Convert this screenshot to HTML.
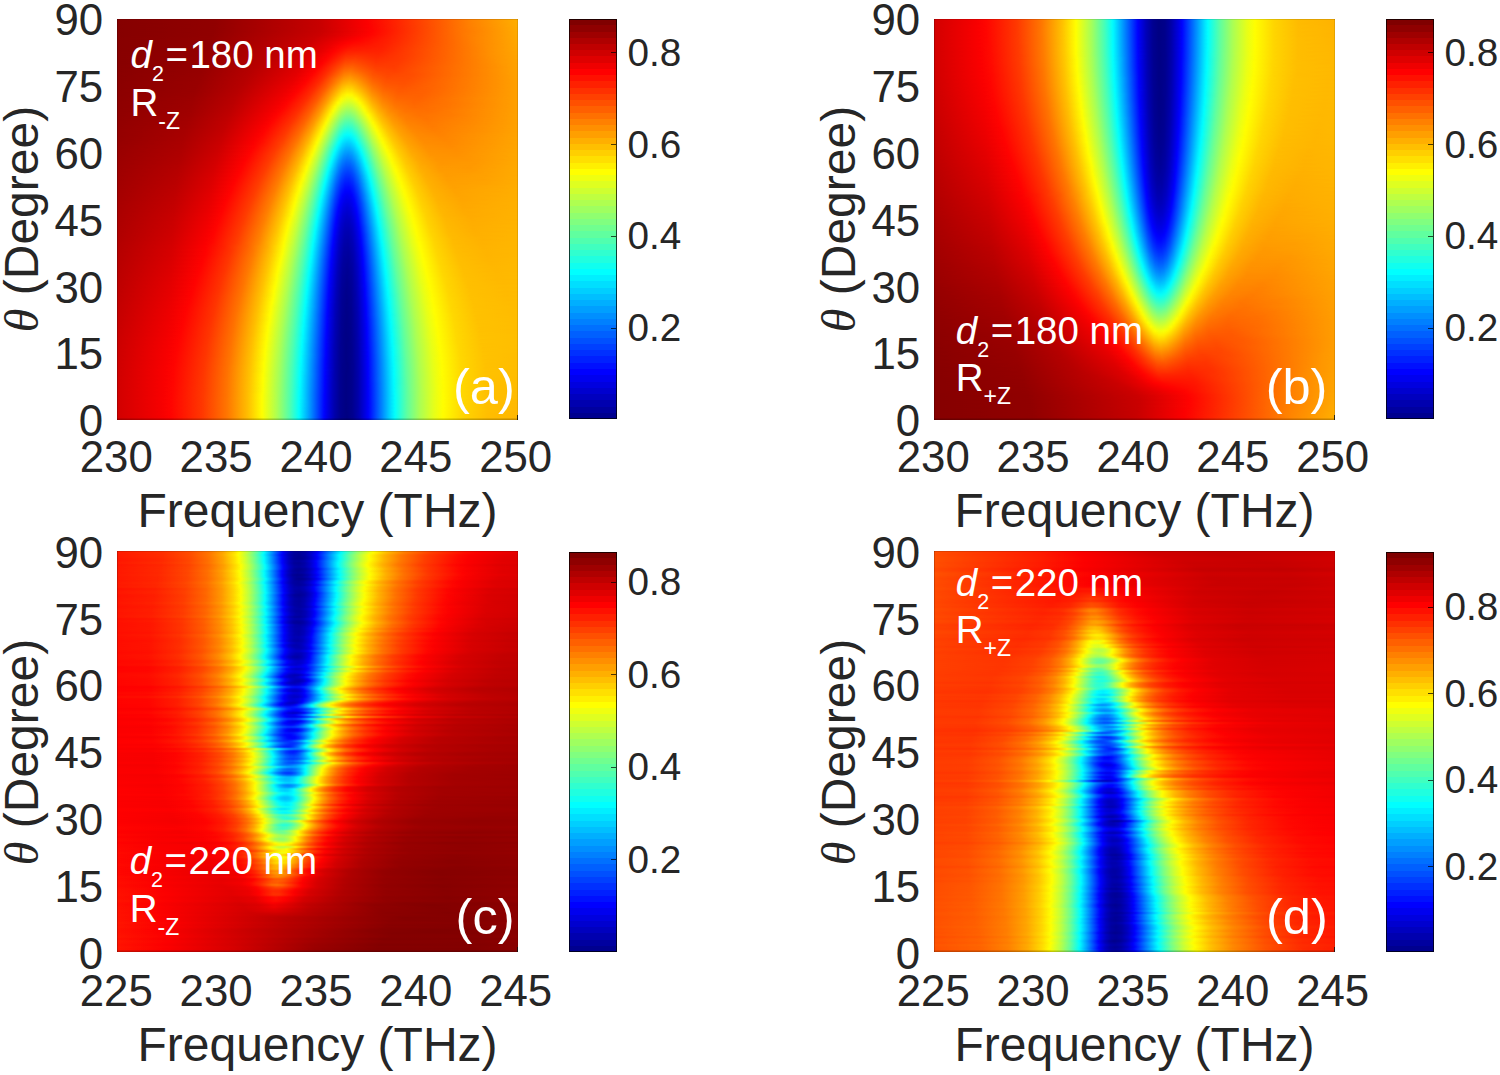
<!DOCTYPE html><html><head><meta charset="utf-8"><style>
*{margin:0;padding:0}
html,body{width:1500px;height:1075px;background:#fff;overflow:hidden;position:relative;font-family:"Liberation Sans", sans-serif}
.plot{position:absolute;width:401px;height:401px;overflow:hidden}
.plot i{display:block;width:401px}
.s4 i{height:8px;margin-top:-4px;-webkit-mask-image:linear-gradient(transparent,#000 4px);mask-image:linear-gradient(transparent,#000 4px)}
.s2 i{height:4px;margin-top:-2px;-webkit-mask-image:linear-gradient(transparent,#000 2px);mask-image:linear-gradient(transparent,#000 2px)}
.plot i:first-child{margin-top:0;-webkit-mask-image:none;mask-image:none}
.fr{position:absolute;left:0;top:0;width:401px;height:401px;box-shadow:inset 1px 0 0 rgba(0,0,0,.18),inset 0 -1.5px 0 rgba(0,0,0,.22),inset 0 1px 0 rgba(0,0,0,.12),inset -1px 0 0 rgba(0,0,0,.1)}
.plot{contain:paint}
.tk2{position:absolute;width:1.6px;height:5px;background:rgba(20,20,20,.85)}
.cb{position:absolute;box-shadow:inset 0 0 0 1px rgba(0,0,0,.75)}
.tk{position:absolute;width:5px;height:1px;background:rgba(0,0,0,.7)}
.yt{position:absolute;width:100px;text-align:right;font-size:43.8px;line-height:50px;color:#262626}
.xt{position:absolute;width:100px;text-align:center;font-size:43.8px;line-height:50px;color:#262626}
.xl{position:absolute;width:500px;text-align:center;font-size:48px;line-height:56px;color:#262626;white-space:nowrap}
.yl{position:absolute;width:400px;height:56px;text-align:center;color:#262626;font-size:48px;line-height:56px;white-space:nowrap;transform:rotate(-90deg)}
.th{font-family:"Liberation Serif",serif;font-style:italic}
.cl{position:absolute;font-size:38.7px;line-height:44px;color:#262626}
.ann{position:absolute;font-size:38.5px;line-height:44px;color:#fff;white-space:nowrap}
.ann sub{font-size:21.5px;vertical-align:-12.8px;line-height:0}
.eq{margin:0 1.5px 0 1.5px}
.r2 sub{font-size:23px}
.let{position:absolute;font-size:50.5px;line-height:58px;color:#fff}
</style></head><body><div class="plot s4" style="left:117px;top:18.5px"><i style="background:linear-gradient(90deg,#860000 0px,#910000 98px,#c70000 202px,#fc0000 250px,#ff1e00 275px,#ff8000 352px,#ffad00 400px)"></i><i style="background:linear-gradient(90deg,#860000 0px,#910000 97px,#c80000 203px,#fd0000 251px,#ff7d00 350px,#ffab00 400px)"></i><i style="background:linear-gradient(90deg,#860000 0px,#910000 97px,#c90000 204px,#ff0300 255px,#ff7300 342px,#ffaa00 400px)"></i><i style="background:linear-gradient(90deg,#860000 0px,#910000 95px,#ca0000 201px,#ff0300 252px,#ff7b00 349px,#ffa900 400px)"></i><i style="background:linear-gradient(90deg,#870000 0px,#920000 94px,#cb0000 196px,#ff0000 241px,#ff2800 280px,#ff8200 356px,#ffa800 400px)"></i><i style="background:linear-gradient(90deg,#870000 0px,#920000 93px,#cc0000 193px,#ee0000 218px,#ff0200 230px,#ff2100 271px,#ff8500 360px,#ffa700 400px)"></i><i style="background:linear-gradient(90deg,#870000 0px,#930000 92px,#cd0000 189px,#ec0000 212px,#ff0400 223px,#ff1400 236px,#ff1f00 265px,#ff8d00 369px,#ffa600 400px)"></i><i style="background:linear-gradient(90deg,#870000 0px,#940000 91px,#ca0000 181px,#e70000 205px,#ff0200 217px,#ff1e00 231px,#ff2300 265px,#ff9400 377px,#ffa500 400px)"></i><i style="background:linear-gradient(90deg,#880000 0px,#940000 89px,#c40000 168px,#e10000 197px,#ff0300 213px,#ff2b00 229px,#ff2f00 239px,#ff2700 261px,#ff3f00 292px,#ff9100 374px,#ffa400 400px)"></i><i style="background:linear-gradient(90deg,#880000 0px,#950000 88px,#bd0000 154px,#dd0000 190px,#ff0200 209px,#ff3b00 229px,#ff3e00 238px,#ff2e00 259px,#ff3900 283px,#ff9400 379px,#ffa300 400px)"></i><i style="background:linear-gradient(90deg,#880000 0px,#950000 87px,#ba0000 146px,#df0000 187px,#ff0100 205px,#ff4a00 228px,#ff4f00 236px,#ff3500 259px,#ff3b00 281px,#ff9900 386px,#ffa200 400px)"></i><i style="background:linear-gradient(90deg,#890000 0px,#960000 86px,#b80000 140px,#e00000 184px,#ff0300 202px,#ff3600 217px,#ff5c00 228px,#ff6100 235px,#ff3e00 258px,#ff3c00 277px,#ff6700 328px,#ff9f00 396px,#ffa200 400px)"></i><i style="background:linear-gradient(90deg,#890000 0px,#960000 84px,#b70000 135px,#e20000 181px,#ff0200 198px,#ff2f00 212px,#ff6d00 227px,#ff7400 234px,#ff5d00 246px,#ff4500 260px,#ff4100 278px,#ff6200 321px,#ff9e00 394px,#ffa100 400px)"></i><i style="background:linear-gradient(90deg,#8a0000 0px,#970000 83px,#b70000 132px,#e40000 179px,#ff0300 195px,#ff2c00 208px,#ff8000 227px,#ff8900 233px,#ff7a00 241px,#ff5300 256px,#ff4600 271px,#ff4e00 296px,#ff9d00 394px,#ffa100 400px)"></i><i style="background:linear-gradient(90deg,#8a0000 0px,#980000 82px,#b70000 129px,#e70000 177px,#ff0200 191px,#ff2c00 205px,#ff7100 219px,#ff9500 227px,#ff9e00 233px,#ff8c00 241px,#ff5e00 256px,#ff4d00 270px,#ff4f00 292px,#ffa000 399px,#ffa000 400px)"></i><i style="background:linear-gradient(90deg,#8b0000 0px,#990000 81px,#b70000 127px,#ea0000 175px,#ff0300 188px,#ff2c00 202px,#ff6600 214px,#ffa800 226px,#ffb400 232px,#ffaa00 238px,#ff6c00 255px,#ff5500 268px,#ff5000 287px,#ff6e00 331px,#ffa000 400px)"></i><i style="background:linear-gradient(90deg,#8b0000 0px,#990000 79px,#b60000 123px,#ec0000 172px,#ff0200 184px,#ff2900 198px,#ff5a00 209px,#ffba00 225px,#ffca00 230px,#ffc800 235px,#ffa600 244px,#ff7600 256px,#ff5d00 268px,#ff5500 286px,#ff6800 322px,#ffa000 400px)"></i><i style="background:linear-gradient(90deg,#8c0000 0px,#9a0000 78px,#b70000 121px,#ed0000 169px,#ff0300 181px,#ff2d00 196px,#ff5f00 207px,#ffd100 225px,#ffe200 230px,#ffdf00 235px,#ffbe00 243px,#ff8600 255px,#ff6900 266px,#ff5a00 282px,#ff6100 309px,#ffa000 400px)"></i><i style="background:linear-gradient(90deg,#8c0000 0px,#9b0000 77px,#b80000 119px,#ee0000 166px,#ff0200 177px,#ff2d00 193px,#ff5d00 204px,#ffa400 215px,#ffe900 225px,#fffa00 230px,#fff700 235px,#ffd800 242px,#ff9400 255px,#ff7300 266px,#ff6000 281px,#ff6100 305px,#ffa000 400px)"></i><i style="background:linear-gradient(90deg,#8d0000 0px,#9d0000 76px,#ba0000 118px,#f10000 164px,#ff0300 174px,#ff2d00 190px,#ff5b00 201px,#ff9a00 211px,#fffc00 224px,#eaff15 230px,#eeff11 235px,#ffff00 239px,#ffa300 255px,#ff7d00 266px,#ff6700 280px,#ff6300 302px,#ff8700 359px,#ffa000 400px)"></i><i style="background:linear-gradient(90deg,#8e0000 0px,#9e0000 75px,#ba0000 116px,#f20000 161px,#ff0300 170px,#ff2d00 187px,#ff5f00 199px,#ff9d00 209px,#ffff00 221px,#d9ff26 227px,#cfff30 232px,#ddff22 237px,#fffd00 243px,#ffb200 255px,#ff8a00 265px,#ff7000 278px,#ff6600 297px,#ff7600 334px,#ffa000 400px)"></i><i style="background:linear-gradient(90deg,#8e0000 0px,#9f0000 74px,#bc0000 115px,#f30000 158px,#ff0300 167px,#ff2d00 184px,#ff5d00 196px,#ff9900 206px,#fff500 217px,#fffe00 218px,#c9ff36 225px,#b6ff49 230px,#bbff44 235px,#dcff23 241px,#fffd00 246px,#ffbc00 256px,#ff9200 266px,#ff7600 279px,#ff6a00 298px,#ff7700 333px,#ffa000 400px)"></i><i style="background:linear-gradient(90deg,#8f0000 0px,#a00000 73px,#bd0000 113px,#f30000 155px,#ff0400 164px,#ff3000 182px,#ff6000 194px,#ff9b00 204px,#ffef00 214px,#fcff03 216px,#b6ff49 224px,#9dff62 229px,#9cff63 233px,#b0ff4f 238px,#fbff04 248px,#ffdf00 253px,#ffad00 262px,#ff8900 273px,#ff7300 288px,#ff6f00 311px,#ffa000 400px)"></i><i style="background:linear-gradient(90deg,#900000 0px,#a10000 72px,#bf0000 112px,#f40000 152px,#ff0300 160px,#ff3000 179px,#ff6300 192px,#ff9d00 202px,#ffe800 211px,#fffb00 213px,#e5ff1a 216px,#9cff63 224px,#83ff7c 229px,#82ff7d 233px,#97ff68 238px,#ffff00 251px,#ffc500 260px,#ff9b00 270px,#ff7f00 283px,#ff7200 302px,#ff7c00 336px,#ffa100 400px)"></i><i style="background:linear-gradient(90deg,#910000 0px,#a30000 71px,#c00000 110px,#f40000 149px,#ff0400 157px,#ff3300 177px,#ff6500 190px,#ff9f00 200px,#ffe900 209px,#fffc00 211px,#8aff75 223px,#6bff94 228px,#66ff99 232px,#72ff8d 236px,#9dff62 242px,#fcff03 253px,#ffbe00 264px,#ff9700 275px,#ff7e00 289px,#ff7500 310px,#ff8700 352px,#ffa100 400px)"></i><i style="background:linear-gradient(90deg,#920000 0px,#a40000 70px,#c20000 109px,#f60000 147px,#ff0400 154px,#ff3300 174px,#ff6300 187px,#ff9a00 197px,#ffe000 206px,#fffd00 209px,#70ff8f 223px,#51ffae 228px,#4bffb4 232px,#59ffa6 236px,#86ff79 242px,#f2ff0d 254px,#fffd00 256px,#ffc600 265px,#ff9d00 276px,#ff8300 290px,#ff7900 311px,#ff8800 351px,#ffa100 400px)"></i><i style="background:linear-gradient(90deg,#930000 0px,#a50000 69px,#c30000 108px,#f80000 145px,#ff0400 151px,#ff3600 172px,#ff6a00 186px,#ffa200 196px,#ffea00 205px,#fffd00 207px,#b7ff48 214px,#57ffa8 223px,#3bffc4 227px,#31ffce 231px,#3affc5 235px,#5cffa3 240px,#e9ff16 255px,#fffe00 258px,#ffc900 267px,#ffa100 278px,#ff8600 293px,#ff7c00 315px,#ff8e00 359px,#ffa200 400px)"></i><i style="background:linear-gradient(90deg,#940000 0px,#a70000 68px,#c40000 106px,#f80000 142px,#ff0400 148px,#ff3800 170px,#ff6c00 184px,#ffa300 194px,#ffe900 203px,#fffc00 205px,#d9ff26 209px,#47ffb8 222px,#21ffde 227px,#17ffe8 231px,#21ffde 235px,#45ffba 240px,#d7ff28 255px,#feff01 260px,#ffc700 270px,#ffa200 281px,#ff8800 296px,#ff7f00 318px,#ff9100 364px,#ffa200 400px)"></i><i style="background:linear-gradient(90deg,#940000 0px,#a80000 67px,#c60000 105px,#f90000 140px,#ff0500 146px,#ff3a00 168px,#ff6e00 182px,#ffab00 193px,#fff100 202px,#faff05 204px,#96ff69 213px,#2effd1 222px,#08fff7 227px,#00fdff 230px,#04fffb 234px,#24ffdb 239px,#c6ff39 255px,#feff01 262px,#ffc900 272px,#ffa200 284px,#ff8a00 300px,#ff8300 324px,#ffa300 400px)"></i><i style="background:linear-gradient(90deg,#950000 0px,#a90000 66px,#c80000 104px,#fa0000 138px,#ff0900 145px,#ff3f00 167px,#ff7400 181px,#ffb200 192px,#fff900 201px,#fcff03 202px,#9aff65 211px,#16ffe9 222px,#04fffb 224px,#00eaff 228px,#00e5ff 232px,#00f5ff 236px,#04fffb 238px,#4bffb4 245px,#b5ff4a 255px,#f7ff08 263px,#fffa00 265px,#ffc700 275px,#ffa300 287px,#ff8c00 303px,#ff8600 328px,#ffa400 400px)"></i><i style="background:linear-gradient(90deg,#960000 0px,#ab0000 65px,#ca0000 103px,#fb0000 136px,#ff0e00 145px,#ff4400 166px,#ff7a00 180px,#ffb800 191px,#feff01 200px,#a9ff56 208px,#0afff5 221px,#00feff 222px,#00dcff 226px,#00cdff 230px,#00d3ff 234px,#00edff 238px,#00ffff 240px,#aeff51 256px,#f0ff0f 264px,#fdff02 266px,#ffc900 277px,#ffa300 290px,#ff8d00 307px,#ff8900 333px,#ffa400 400px)"></i><i style="background:linear-gradient(90deg,#980000 0px,#ac0000 65px,#cc0000 102px,#ff0300 137px,#ff3c00 161px,#ff7200 176px,#ffab00 187px,#ffec00 196px,#fffe00 198px,#b9ff46 205px,#00fdff 220px,#00cdff 225px,#00b8ff 229px,#00b9ff 233px,#00cfff 237px,#00feff 242px,#9dff62 256px,#e2ff1d 264px,#feff01 268px,#ffca00 279px,#ffa600 292px,#ff9000 309px,#ff8c00 335px,#ffa500 400px)"></i><i style="background:linear-gradient(90deg,#990000 0px,#ae0000 64px,#cd0000 101px,#ff0200 134px,#ff3b00 158px,#ff7300 174px,#ffb100 186px,#fff200 195px,#faff05 197px,#a8ff57 205px,#01fffe 218px,#00bfff 224px,#00a5ff 228px,#00a1ff 232px,#00b2ff 236px,#00dfff 241px,#02fffd 244px,#8dff72 256px,#d5ff2a 264px,#feff01 270px,#ffcc00 281px,#ffa800 294px,#ff9200 312px,#ff8f00 339px,#ffa600 400px)"></i><i style="background:linear-gradient(90deg,#9a0000 0px,#af0000 63px,#cf0000 100px,#ff0300 132px,#ff3f00 157px,#ff7800 173px,#ffb600 185px,#fdff02 195px,#aeff51 203px,#2fffd0 213px,#07fff8 216px,#00f9ff 217px,#00b3ff 223px,#0095ff 227px,#008bff 231px,#0097ff 235px,#00c0ff 240px,#00faff 245px,#14ffeb 247px,#88ff77 257px,#d0ff2f 265px,#ffff00 272px,#ffd000 282px,#ffac00 295px,#ff9500 313px,#ff9100 340px,#ffa700 400px)"></i><i style="background:linear-gradient(90deg,#9b0000 0px,#b10000 63px,#d20000 100px,#ff0100 129px,#ff3c00 154px,#ff7800 171px,#ffb500 183px,#fffd00 193px,#beff41 200px,#60ff9f 208px,#01fffe 215px,#00a9ff 222px,#0086ff 226px,#0078ff 230px,#007fff 234px,#009aff 238px,#00dbff 244px,#02fffd 247px,#79ff86 257px,#c3ff3c 265px,#faff05 273px,#fff800 275px,#ffca00 286px,#ffa800 300px,#ff9500 319px,#ff9500 350px,#ffa700 400px)"></i><i style="background:linear-gradient(90deg,#9c0000 0px,#b20000 62px,#d40000 99px,#ff0200 127px,#ff3d00 152px,#ff7800 169px,#ffb400 181px,#fcff03 192px,#afff50 200px,#41ffbe 209px,#0afff5 213px,#00fbff 214px,#00a0ff 221px,#007aff 225px,#0066ff 229px,#0068ff 233px,#007fff 237px,#00b1ff 242px,#00fcff 248px,#7fff80 259px,#c7ff38 267px,#fcff03 275px,#ffc700 289px,#ffa700 304px,#ff9600 324px,#ff9900 358px,#ffa800 400px)"></i><i style="background:linear-gradient(90deg,#9d0000 0px,#b40000 61px,#d40000 97px,#ff0200 125px,#ff3d00 150px,#ff7800 167px,#ffb800 180px,#fffe00 190px,#b6ff49 198px,#58ffa7 206px,#06fff9 212px,#00f7ff 213px,#008eff 221px,#0068ff 225px,#0055ff 229px,#0056ff 233px,#006dff 237px,#00a0ff 242px,#00f9ff 249px,#07fff8 250px,#72ff8d 259px,#bcff43 267px,#f8ff07 276px,#fffb00 278px,#ffce00 289px,#ffad00 303px,#ff9a00 322px,#ff9900 353px,#ffa900 400px)"></i><i style="background:linear-gradient(90deg,#9e0000 0px,#b60000 61px,#d70000 97px,#ff0200 123px,#ff3d00 148px,#ff7c00 166px,#ffbc00 179px,#fcff03 189px,#a8ff57 198px,#48ffb7 206px,#04fffb 211px,#00afff 217px,#0068ff 223px,#004bff 227px,#0042ff 231px,#004fff 235px,#0079ff 240px,#00e9ff 249px,#05fffa 251px,#6fff90 260px,#b8ff47 268px,#f5ff0a 277px,#ffff00 279px,#ffd100 290px,#ffb000 304px,#ff9c00 323px,#ff9b00 354px,#ffaa00 400px)"></i><i style="background:linear-gradient(90deg,#9f0000 0px,#b70000 60px,#d90000 96px,#ff0200 121px,#ff3d00 146px,#ff7b00 164px,#ffba00 177px,#fffe00 187px,#b9ff46 195px,#5fffa0 203px,#02fffd 210px,#0078ff 220px,#0047ff 225px,#0034ff 229px,#0036ff 233px,#004dff 237px,#0080ff 242px,#03fffc 252px,#6dff92 261px,#b6ff49 269px,#f2ff0d 278px,#fffd00 281px,#ffce00 293px,#ffae00 308px,#ff9c00 329px,#ffa000 365px,#ffaa00 400px)"></i><i style="background:linear-gradient(90deg,#a00000 0px,#b90000 60px,#dc0000 96px,#ff0200 119px,#ff3d00 144px,#ff7a00 162px,#ffb800 175px,#fdff02 186px,#adff52 195px,#51ffae 203px,#00ffff 209px,#0075ff 219px,#0040ff 224px,#0028ff 228px,#0025ff 232px,#0037ff 236px,#0066ff 241px,#02fffd 253px,#6bff94 262px,#b3ff4c 270px,#efff10 279px,#ffff00 282px,#ffd100 294px,#ffb000 309px,#ff9e00 330px,#ffa100 366px,#ffab00 400px)"></i><i style="background:linear-gradient(90deg,#a10000 0px,#ba0000 59px,#dd0000 95px,#ff0200 117px,#ff3d00 142px,#ff7d00 161px,#ffc100 175px,#fffc00 184px,#d1ff2e 190px,#74ff8b 199px,#00ffff 208px,#0066ff 219px,#0032ff 224px,#001aff 228px,#0018ff 232px,#002aff 236px,#0058ff 241px,#02fffd 254px,#60ff9f 262px,#aaff55 270px,#e7ff18 279px,#fffd00 284px,#ffd000 296px,#ffb100 311px,#ffa000 332px,#ffa300 369px,#ffac00 400px)"></i><i style="background:linear-gradient(90deg,#a20000 0px,#bc0000 59px,#de0000 94px,#ff0200 115px,#ff3f00 141px,#ff8000 160px,#ffc400 174px,#ffff00 183px,#b3ff4c 192px,#5bffa4 200px,#00ffff 207px,#0058ff 219px,#0025ff 224px,#000eff 228px,#000bff 232px,#001dff 236px,#004bff 241px,#00e8ff 253px,#03fffc 255px,#5fffa0 263px,#a8ff57 271px,#e5ff1a 280px,#ffff00 285px,#ffd000 298px,#ffb000 314px,#ffa100 336px,#ffa800 380px,#ffad00 400px)"></i><i style="background:linear-gradient(90deg,#a30000 0px,#be0000 59px,#e10000 94px,#ff0300 114px,#ff3e00 139px,#ff7e00 158px,#ffc100 172px,#fdff02 182px,#b1ff4e 191px,#4fffb0 200px,#01fffe 206px,#004cff 219px,#0018ff 224px,#0002ff 228px,#0002ff 233px,#0019ff 237px,#004bff 242px,#00f6ff 255px,#04fffb 256px,#5fffa0 264px,#afff50 273px,#eeff11 283px,#fffd00 287px,#ffcf00 300px,#ffb100 316px,#ffa300 338px,#ffab00 388px,#ffae00 400px)"></i><i style="background:linear-gradient(90deg,#a40000 0px,#bf0000 58px,#e30000 93px,#ff0300 112px,#ff3d00 137px,#ff8100 157px,#ffc300 171px,#fffc00 180px,#e4ff1b 184px,#92ff6d 193px,#2affd5 202px,#02fffd 205px,#0040ff 219px,#000dff 224px,#0000fe 226px,#0000f2 230px,#0000fa 234px,#0000ff 235px,#0029ff 240px,#007fff 247px,#00f8ff 256px,#05fffa 257px,#5fffa0 265px,#aeff51 274px,#ecff13 284px,#fffe00 288px,#ffd100 301px,#ffb300 317px,#ffa400 340px,#ffae00 400px)"></i><i style="background:linear-gradient(90deg,#a50000 0px,#c10000 58px,#e50000 93px,#ff0200 110px,#ff3f00 136px,#ff8300 156px,#ffc500 170px,#fffd00 179px,#c1ff3e 187px,#67ff98 196px,#03fffc 204px,#00cbff 208px,#0040ff 218px,#000bff 223px,#0000fa 225px,#0000e9 229px,#0000ec 233px,#0004ff 237px,#0035ff 242px,#00faff 257px,#13ffec 259px,#6aff95 267px,#b4ff4b 276px,#f0ff0f 286px,#fffc00 290px,#ffd000 303px,#ffb200 320px,#ffa500 344px,#ffaf00 400px)"></i><i style="background:linear-gradient(90deg,#a70000 0px,#c30000 58px,#e80000 93px,#ff0200 108px,#ff3e00 134px,#ff8100 154px,#ffc700 169px,#ffff00 178px,#aeff51 188px,#50ffaf 197px,#05fffa 203px,#00e9ff 205px,#0036ff 218px,#0001ff 223px,#0000e6 227px,#0000df 231px,#0000ec 235px,#0003ff 238px,#0043ff 244px,#00fcff 258px,#6aff95 268px,#b4ff4b 277px,#efff10 287px,#fffd00 291px,#ffd200 304px,#ffb400 321px,#ffa700 345px,#ffb000 400px)"></i><i style="background:linear-gradient(90deg,#a80000 0px,#c40000 57px,#e90000 92px,#ff0300 107px,#ff3d00 132px,#ff7f00 152px,#ffc300 167px,#feff01 177px,#aeff51 187px,#52ffad 196px,#08fff7 202px,#00f9ff 203px,#002cff 218px,#0000ff 222px,#0000e2 226px,#0000d6 230px,#0000df 234px,#0003ff 239px,#0047ff 245px,#00ffff 259px,#62ff9d 268px,#adff52 277px,#e9ff16 287px,#fffe00 292px,#ffd300 305px,#ffb600 322px,#ffa800 346px,#ffb000 400px)"></i><i style="background:linear-gradient(90deg,#a90000 0px,#c60000 57px,#ea0000 91px,#ff0200 105px,#ff3e00 131px,#ff8000 151px,#ffc500 166px,#fdff02 176px,#aeff51 186px,#53ffac 195px,#00fcff 202px,#0022ff 218px,#0001ff 221px,#0000da 226px,#0000cf 230px,#0000d7 234px,#0000fa 239px,#0004ff 240px,#0058ff 247px,#00f6ff 259px,#03fffc 260px,#63ff9c 269px,#adff52 278px,#e8ff17 288px,#ffff00 293px,#ffd500 306px,#ffb700 323px,#ffaa00 347px,#ffb100 400px)"></i><i style="background:linear-gradient(90deg,#aa0000 0px,#c80000 57px,#ed0000 91px,#ff0400 104px,#ff3d00 129px,#ff8200 150px,#ffc600 165px,#fcff03 175px,#aeff51 185px,#55ffaa 194px,#00ffff 201px,#001aff 218px,#0003ff 220px,#0000d2 226px,#0000c8 230px,#0000d0 234px,#0000f2 239px,#0000fc 240px,#001dff 243px,#00f9ff 260px,#12ffed 262px,#6eff91 271px,#b4ff4b 280px,#f1ff0e 291px,#fffc00 295px,#ffd100 309px,#ffb500 327px,#ffaa00 353px,#ffb200 400px)"></i><i style="background:linear-gradient(90deg,#ab0000 0px,#c90000 56px,#ee0000 90px,#ff0300 102px,#ff3b00 127px,#ff7f00 148px,#ffc700 164px,#fffc00 173px,#d8ff27 179px,#80ff7f 189px,#1dffe2 198px,#04fffb 200px,#00dbff 203px,#001eff 217px,#0006ff 219px,#0000fb 220px,#0000d1 225px,#0000c2 229px,#0000c5 233px,#0000db 237px,#0000ff 241px,#0062ff 249px,#00fdff 261px,#66ff99 271px,#adff52 280px,#ecff13 291px,#fffd00 296px,#ffd200 310px,#ffb700 328px,#ffac00 354px,#ffb200 400px)"></i><i style="background:linear-gradient(90deg,#ac0000 0px,#cb0000 56px,#f10000 90px,#ff0400 101px,#ff3c00 126px,#ff8000 147px,#ffc800 163px,#fffd00 172px,#c8ff37 180px,#6eff91 190px,#07fff8 199px,#00f9ff 200px,#0016ff 217px,#0000fe 219px,#0000d1 224px,#0000be 228px,#0000bd 232px,#0000ce 236px,#0000f8 241px,#0004ff 242px,#0082ff 252px,#00f5ff 261px,#02fffd 262px,#5fffa0 271px,#a7ff58 280px,#e7ff18 291px,#fffd00 297px,#ffd300 311px,#ffb800 329px,#ffad00 355px,#ffb300 400px)"></i><i style="background:linear-gradient(90deg,#ad0000 0px,#cc0000 56px,#f30000 90px,#ff0300 99px,#ff3b00 124px,#ff7e00 145px,#ffc400 161px,#fffd00 171px,#c8ff37 179px,#6fff90 189px,#00fdff 199px,#000fff 217px,#0003ff 218px,#0000cb 224px,#0000b9 228px,#0000b8 232px,#0000c8 236px,#0000f2 241px,#0000fc 242px,#0039ff 247px,#00f9ff 262px,#11ffee 264px,#6aff95 273px,#b5ff4a 283px,#f0ff0f 294px,#fffe00 298px,#ffd400 312px,#ffb900 330px,#ffae00 356px,#ffb400 400px)"></i><i style="background:linear-gradient(90deg,#ae0000 0px,#ce0000 56px,#f60000 90px,#ff0400 98px,#ff3c00 123px,#ff7f00 144px,#ffc400 160px,#fffd00 170px,#c1ff3e 179px,#67ff98 189px,#02fffd 198px,#0099ff 206px,#0008ff 217px,#0000fc 218px,#0000cd 223px,#0000b6 227px,#0000b1 231px,#0000bd 235px,#0000e2 240px,#0003ff 243px,#00fdff 263px,#63ff9c 273px,#b0ff4f 283px,#ebff14 294px,#fffe00 299px,#ffd500 313px,#ffba00 331px,#ffaf00 357px,#ffb400 400px)"></i><i style="background:linear-gradient(90deg,#af0000 0px,#cf0000 55px,#f70000 89px,#ff0300 96px,#ff3a00 121px,#ff8000 143px,#ffca00 160px,#fffd00 169px,#c2ff3d 178px,#6aff95 188px,#07fff8 197px,#00f9ff 198px,#0002ff 217px,#0000c7 223px,#0000af 228px,#0000ae 232px,#0000c5 237px,#0000f1 242px,#0000fc 243px,#002cff 247px,#00ebff 262px,#03fffc 264px,#5dffa2 273px,#aaff55 283px,#e7ff18 294px,#fffe00 300px,#ffd600 314px,#ffbb00 332px,#ffb000 359px,#ffb500 400px)"></i><i style="background:linear-gradient(90deg,#b00000 0px,#d10000 55px,#f80000 88px,#ff0600 96px,#ff3e00 121px,#ff8400 143px,#ffd000 160px,#fffd00 168px,#c3ff3c 177px,#6cff93 187px,#00feff 197px,#0008ff 216px,#0000fb 217px,#0000ca 222px,#0000ae 227px,#0000a9 231px,#0000b5 235px,#0000d9 240px,#0003ff 244px,#00f0ff 263px,#00fbff 264px,#27ffd8 268px,#79ff86 277px,#beff41 287px,#f8ff07 299px,#fffb00 302px,#ffd300 317px,#ffba00 336px,#ffb100 365px,#ffb500 400px)"></i><i style="background:linear-gradient(90deg,#b20000 0px,#d30000 55px,#fa0000 88px,#ff0700 95px,#ff3e00 120px,#ff8500 142px,#ffd000 159px,#fffd00 167px,#c4ff3b 176px,#6fff90 186px,#03fffc 196px,#00d1ff 200px,#0002ff 216px,#0000c6 222px,#0000aa 227px,#0000a5 231px,#0000b6 236px,#0000de 241px,#0000fd 244px,#0061ff 252px,#00f5ff 264px,#01fffe 265px,#5affa5 274px,#a6ff59 284px,#e3ff1c 295px,#ffff00 302px,#ffd600 317px,#ffbb00 336px,#ffb200 364px,#ffb600 400px)"></i><i style="background:linear-gradient(90deg,#b30000 0px,#d50000 55px,#fd0000 88px,#ff2200 107px,#ff6300 131px,#ffaa00 150px,#fff600 165px,#fbff04 167px,#a6ff59 179px,#4affb5 189px,#08fff7 195px,#00fbff 196px,#0008ff 215px,#0000fc 216px,#0000c2 222px,#0000a6 227px,#0000a2 231px,#0000b3 236px,#0000d9 241px,#0000f8 244px,#0005ff 245px,#00eeff 264px,#05fffa 266px,#5dffa2 275px,#a7ff58 285px,#e3ff1c 296px,#ffff00 303px,#ffd600 318px,#ffbc00 337px,#ffb300 366px,#ffb600 400px)"></i><i style="background:linear-gradient(90deg,#b40000 0px,#d70000 55px,#ff0200 89px,#ff3500 114px,#ff7700 136px,#ffc100 154px,#fcff03 166px,#a8ff57 178px,#4dffb2 188px,#01fffe 195px,#0076ff 206px,#0003ff 215px,#0000be 222px,#0000a3 227px,#0000a0 232px,#0000b6 237px,#0000e9 243px,#0000ff 245px,#00e8ff 264px,#00feff 266px,#60ff9f 276px,#a9ff56 286px,#e3ff1c 297px,#ffff00 304px,#ffd700 319px,#ffbc00 339px,#ffb400 369px,#ffb700 400px)"></i><i style="background:linear-gradient(90deg,#b50000 0px,#d70000 54px,#ff0200 88px,#ff3600 113px,#ff7b00 136px,#ffc600 154px,#fdff02 165px,#aaff55 177px,#51ffae 187px,#06fff9 194px,#00f9ff 195px,#0000fe 215px,#0000c2 221px,#0000a4 226px,#00009c 231px,#0000ac 236px,#0000d2 241px,#0000fb 245px,#001fff 248px,#00e3ff 264px,#00f9ff 266px,#04fffb 267px,#63ff9c 277px,#aaff55 287px,#e8ff17 299px,#ffff00 305px,#ffd700 320px,#ffbd00 340px,#ffb400 370px,#ffb700 400px)"></i><i style="background:linear-gradient(90deg,#b60000 0px,#d90000 54px,#ff0200 86px,#ff3700 112px,#ff7c00 135px,#ffc600 153px,#fdff02 164px,#abff54 176px,#4affb5 187px,#00ffff 194px,#0043ff 209px,#0006ff 214px,#0000ee 216px,#0000b7 222px,#00009d 227px,#00009b 232px,#0000b0 237px,#0000e2 243px,#0003ff 246px,#00e8ff 265px,#00feff 267px,#66ff99 278px,#acff53 288px,#e9ff16 300px,#ffff00 306px,#ffd800 321px,#ffbe00 341px,#ffb500 371px,#ffb800 400px)"></i><i style="background:linear-gradient(90deg,#b70000 0px,#db0000 54px,#ff0200 85px,#ff3700 111px,#ff7c00 134px,#ffc600 152px,#feff01 163px,#adff52 175px,#4effb1 186px,#05fffa 193px,#00edff 195px,#0001ff 214px,#0000bc 221px,#00009e 226px,#000097 231px,#0000a7 236px,#0000cc 241px,#0000ff 246px,#00e3ff 265px,#04fffb 268px,#61ff9e 278px,#aeff51 289px,#e9ff16 301px,#ffff00 307px,#ffd600 323px,#ffbe00 343px,#ffb600 374px,#ffb800 400px)"></i><i style="background:linear-gradient(90deg,#b80000 0px,#dd0000 54px,#ff0300 84px,#ff3800 110px,#ff7c00 133px,#ffca00 152px,#ffff00 162px,#afff50 174px,#52ffad 185px,#00feff 193px,#0053ff 207px,#0000fc 214px,#0000c1 220px,#0000a0 225px,#000095 230px,#0000a0 235px,#0000c0 240px,#0000fb 246px,#001fff 249px,#00deff 265px,#00feff 268px,#64ff9b 279px,#afff50 290px,#eaff15 302px,#fffe00 308px,#ffd700 324px,#ffbe00 345px,#ffb700 377px,#ffb900 400px)"></i><i style="background:linear-gradient(90deg,#b90000 0px,#de0000 54px,#ff0200 82px,#ff3500 108px,#ff7900 131px,#ffc500 150px,#fffe00 161px,#b2ff4d 173px,#56ffa9 184px,#04fffb 192px,#00e1ff 195px,#0005ff 213px,#0000ee 215px,#0000b6 221px,#00009a 226px,#000093 231px,#0000a3 236px,#0000c6 241px,#0000f8 246px,#0004ff 247px,#00e4ff 266px,#00f9ff 268px,#04fffb 269px,#5fffa0 279px,#abff54 290px,#e6ff19 302px,#fffe00 309px,#ffd700 325px,#ffbf00 346px,#ffb700 379px,#ffb900 400px)"></i><i style="background:linear-gradient(90deg,#ba0000 0px,#df0000 53px,#ff0300 81px,#ff3600 107px,#ff7900 130px,#ffc500 149px,#fffd00 160px,#bbff44 171px,#63ff9c 182px,#00fdff 192px,#0056ff 206px,#0001ff 213px,#0000bb 220px,#00009c 225px,#000091 230px,#00009c 235px,#0000bc 240px,#0001ff 247px,#00dfff 266px,#00feff 269px,#62ff9d 280px,#adff52 291px,#e7ff18 303px,#fffe00 310px,#ffd700 326px,#ffbf00 347px,#ffb800 380px,#ffba00 400px)"></i><i style="background:linear-gradient(90deg,#bb0000 0px,#e10000 53px,#ff0200 79px,#ff3400 105px,#ff7600 128px,#ffc000 147px,#fcff03 160px,#a7ff58 173px,#4bffb4 184px,#04fffb 191px,#00e2ff 194px,#0009ff 212px,#0000fd 213px,#0000b9 220px,#00009a 225px,#000090 230px,#00009b 235px,#0000b9 240px,#0000fd 247px,#0073ff 257px,#00faff 269px,#0ffff0 271px,#66ff99 281px,#afff50 292px,#e8ff17 304px,#fffe00 311px,#ffd800 327px,#ffc000 348px,#ffb800 381px,#ffba00 400px)"></i><i style="background:linear-gradient(90deg,#bc0000 0px,#e30000 53px,#ff0200 78px,#ff3400 104px,#ff7500 127px,#ffc400 147px,#fdff02 159px,#aaff55 172px,#4fffb0 183px,#00feff 191px,#0059ff 205px,#0006ff 212px,#0000ef 214px,#0000b7 220px,#000099 225px,#00008e 230px,#000099 235px,#0000b7 240px,#0000fa 247px,#0011ff 249px,#00e1ff 267px,#00ffff 270px,#5affa5 280px,#a5ff5a 291px,#e1ff1e 303px,#fffd00 312px,#ffd600 329px,#ffbf00 351px,#ffb900 387px,#ffba00 400px)"></i><i style="background:linear-gradient(90deg,#bd0000 0px,#e40000 53px,#ff0300 77px,#ff3400 103px,#ff7500 126px,#ffc300 146px,#ffff00 158px,#acff53 171px,#53ffac 182px,#04fffb 190px,#00eeff 192px,#0002ff 212px,#0000b5 220px,#000097 225px,#00008d 230px,#000098 235px,#0000b6 240px,#0003ff 248px,#00dcff 267px,#00fbff 270px,#19ffe6 273px,#74ff8b 284px,#b8ff47 295px,#f1ff0e 308px,#fffd00 313px,#ffd600 330px,#ffbf00 352px,#ffba00 388px,#ffbb00 400px)"></i><i style="background:linear-gradient(90deg,#be0000 0px,#e60000 53px,#ff0200 75px,#ff3400 102px,#ff7500 125px,#ffc200 145px,#fffe00 157px,#b6ff49 169px,#57ffa8 181px,#00ffff 190px,#005dff 204px,#0000fe 212px,#0000ba 219px,#00009a 224px,#00008c 229px,#000093 234px,#0000ad 239px,#0000ea 246px,#0000ff 248px,#00e2ff 268px,#02fffd 271px,#61ff9e 282px,#aaff55 293px,#e7ff18 306px,#fffc00 314px,#ffd600 331px,#ffc000 353px,#ffba00 389px,#ffbb00 400px)"></i><i style="background:linear-gradient(90deg,#bf0000 0px,#e70000 53px,#ff0200 74px,#ff3500 101px,#ff7500 124px,#ffc200 144px,#fcff03 157px,#aaff55 170px,#49ffb6 182px,#05fffa 189px,#00efff 191px,#0008ff 211px,#0000fc 212px,#0000b9 219px,#000099 224px,#00008b 229px,#000092 234px,#0000ab 239px,#0000e8 246px,#0000fd 248px,#00e9ff 269px,#00fdff 271px,#6cff93 284px,#b1ff4e 295px,#ebff14 308px,#fffc00 315px,#ffd600 332px,#ffc000 354px,#ffba00 390px,#ffbb00 400px)"></i><i style="background:linear-gradient(90deg,#c00000 0px,#e80000 52px,#ff0300 73px,#ff3500 100px,#ff7500 123px,#ffc100 143px,#feff01 156px,#a6ff59 170px,#45ffba 182px,#01fffe 189px,#0079ff 201px,#0005ff 211px,#0000ee 213px,#0000af 220px,#000093 225px,#00008a 230px,#000094 235px,#0000b9 241px,#0000fa 248px,#0011ff 250px,#00dbff 268px,#03fffc 272px,#61ff9e 283px,#a9ff56 294px,#e5ff1a 307px,#fffe00 315px,#ffd800 332px,#ffc100 354px,#ffbb00 389px,#ffbc00 400px)"></i><i style="background:linear-gradient(90deg,#c10000 0px,#ea0000 52px,#ff0300 72px,#ff3500 99px,#ff7400 122px,#ffc000 142px,#ffff00 155px,#a9ff56 169px,#4affb5 181px,#07fff8 188px,#00fcff 189px,#005eff 203px,#0002ff 211px,#0000b5 219px,#000092 225px,#000089 230px,#000094 235px,#0000b7 241px,#0000f8 248px,#0004ff 249px,#00e1ff 269px,#00ffff 272px,#5dffa2 283px,#a5ff5a 294px,#e2ff1d 307px,#fffd00 316px,#ffd800 333px,#ffc100 356px,#ffbb00 393px,#ffbc00 400px)"></i><i style="background:linear-gradient(90deg,#c20000 0px,#eb0000 52px,#ff0200 70px,#ff3500 98px,#ff7400 121px,#ffbf00 141px,#fffd00 154px,#b9ff46 166px,#5fffa0 178px,#03fffc 188px,#00acff 196px,#0000ff 211px,#0000bb 218px,#000096 224px,#000089 229px,#00008f 234px,#0000ae 240px,#0000ec 247px,#0001ff 249px,#00ddff 269px,#00fbff 272px,#18ffe7 275px,#70ff8f 286px,#b8ff47 298px,#efff10 311px,#fffd00 317px,#ffd600 335px,#ffc000 358px,#ffbc00 396px,#ffbc00 400px)"></i><i style="background:linear-gradient(90deg,#c30000 0px,#ed0000 52px,#ff0300 69px,#ff3500 97px,#ff7300 120px,#ffc200 141px,#fdff02 154px,#a8ff57 168px,#4affb5 180px,#00feff 188px,#0063ff 202px,#0008ff 210px,#0000fc 211px,#0000ba 218px,#000095 224px,#000088 229px,#00008e 234px,#0000ad 240px,#0000ea 247px,#0000fe 249px,#00e4ff 270px,#02fffd 273px,#5effa1 284px,#aaff55 296px,#e5ff1a 309px,#ffff00 317px,#ffd900 334px,#ffc200 357px,#ffbc00 393px,#ffbd00 400px)"></i><i style="background:linear-gradient(90deg,#c40000 0px,#ee0000 52px,#ff0300 68px,#ff3400 96px,#ff7300 119px,#ffc100 140px,#ffff00 153px,#abff54 167px,#4fffb0 179px,#05fffa 187px,#00f0ff 189px,#0005ff 210px,#0000ef 212px,#0000b1 219px,#000090 225px,#000087 230px,#000091 235px,#0000b3 241px,#0000fc 249px,#0060ff 258px,#00eaff 271px,#00fdff 273px,#62ff9d 285px,#adff52 297px,#e6ff19 310px,#fffe00 318px,#ffd800 336px,#ffc100 359px,#ffbc00 396px,#ffbd00 400px)"></i><i style="background:linear-gradient(90deg,#c50000 0px,#ee0000 51px,#ff0300 67px,#ff3400 95px,#ff7200 118px,#ffbf00 139px,#fcff03 153px,#a8ff57 167px,#4bffb4 179px,#01fffe 187px,#007fff 199px,#0003ff 210px,#0000b0 219px,#00008f 225px,#000087 230px,#000091 235px,#0000b2 241px,#0000fa 249px,#0010ff 251px,#00ddff 270px,#00faff 273px,#0efff1 275px,#66ff99 286px,#afff50 298px,#e8ff17 311px,#fffd00 319px,#ffd700 337px,#ffc100 360px,#ffbd00 398px,#ffbd00 400px)"></i><i style="background:linear-gradient(90deg,#c60000 0px,#f00000 51px,#ff0300 66px,#ff3400 94px,#ff7100 117px,#ffbe00 138px,#feff01 152px,#abff54 166px,#50ffaf 178px,#00fcff 187px,#005aff 202px,#0001ff 210px,#0000b6 218px,#000092 224px,#000086 229px,#00008d 234px,#0000aa 240px,#0000e5 247px,#0004ff 250px,#00daff 270px,#01fffe 274px,#5cffa3 285px,#a7ff58 297px,#e2ff1d 310px,#ffff00 319px,#ffd900 337px,#ffc200 360px,#ffbd00 397px,#ffbd00 400px)"></i><i style="background:linear-gradient(90deg,#c70000 0px,#f10000 51px,#ff0300 65px,#ff3600 94px,#ff7300 117px,#ffc100 138px,#fffe00 151px,#b5ff4a 164px,#55ffaa 177px,#04fffb 186px,#00e5ff 189px,#0000fe 210px,#0000b5 218px,#000092 224px,#000086 229px,#00008c 234px,#0000a9 240px,#0000e3 247px,#0002ff 250px,#00e1ff 271px,#00fdff 274px,#67ff98 287px,#afff50 299px,#ebff14 313px,#fffe00 320px,#ffd800 338px,#ffc100 362px,#ffbd00 400px)"></i><i style="background:linear-gradient(90deg,#c80000 0px,#f20000 51px,#ff0300 64px,#ff3600 93px,#ff7200 116px,#ffbf00 137px,#fdff02 151px,#a4ff5b 166px,#49ffb6 178px,#00ffff 186px,#006bff 200px,#0008ff 209px,#0000fc 210px,#0000b4 218px,#000091 224px,#000086 229px,#00008c 234px,#0000a9 240px,#0000e2 247px,#0000ff 250px,#00deff 271px,#00fbff 274px,#16ffe9 277px,#6bff94 288px,#b2ff4d 300px,#ecff13 314px,#fffd00 321px,#ffd800 339px,#ffc100 363px,#ffbd00 400px)"></i><i style="background:linear-gradient(90deg,#c90000 0px,#f20000 50px,#ff0300 63px,#ff3500 92px,#ff7100 115px,#ffbd00 136px,#fffe00 150px,#afff50 164px,#4effb1 177px,#00fcff 186px,#005dff 201px,#0006ff 209px,#0000f0 211px,#0000b3 218px,#000090 224px,#000085 229px,#00008b 234px,#0000a8 240px,#0000e1 247px,#0000fe 250px,#00e5ff 272px,#02fffd 275px,#5bffa4 286px,#a6ff59 298px,#e0ff1f 311px,#fffe00 321px,#ffd900 339px,#ffc200 363px,#ffbe00 400px)"></i><i style="background:linear-gradient(90deg,#ca0000 0px,#f40000 50px,#ff0300 62px,#ff3500 91px,#ff7300 115px,#ffc000 136px,#fdff02 150px,#a5ff5a 165px,#43ffbc 178px,#04fffb 185px,#00e6ff 188px,#0004ff 209px,#0000db 213px,#0000a4 220px,#00008a 226px,#000085 231px,#000096 237px,#0000bd 243px,#0000fc 250px,#00ecff 273px,#00feff 275px,#5fffa0 287px,#a9ff56 299px,#e5ff1a 313px,#fffd00 322px,#ffd800 340px,#ffc200 364px,#ffbe00 400px)"></i><i style="background:linear-gradient(90deg,#ca0000 0px,#f50000 50px,#ff0300 61px,#ff3400 90px,#ff7200 114px,#ffbe00 135px,#fffe00 149px,#afff50 163px,#51ffae 176px,#01fffe 185px,#0079ff 198px,#0002ff 209px,#0000b1 218px,#00008f 224px,#000085 229px,#00008b 234px,#0000a7 240px,#0000de 247px,#0000fb 250px,#001bff 253px,#00e0ff 272px,#00fcff 275px,#6bff94 289px,#b1ff4e 301px,#eaff15 315px,#fffe00 322px,#ffd900 340px,#ffc200 364px,#ffbe00 400px)"></i><i style="background:linear-gradient(90deg,#cb0000 0px,#f60000 50px,#ff0400 61px,#ff3600 90px,#ff7400 114px,#ffc000 135px,#fdff02 149px,#a6ff59 164px,#46ffb9 177px,#00fdff 185px,#0061ff 200px,#0001ff 209px,#0000b7 217px,#000093 223px,#000084 229px,#00008d 235px,#0000ad 241px,#0000f0 249px,#0005ff 251px,#00deff 272px,#03fffc 276px,#62ff9d 288px,#aaff55 300px,#e5ff1a 314px,#fffd00 323px,#ffd700 342px,#ffc100 366px,#ffbe00 400px)"></i><i style="background:linear-gradient(90deg,#cc0000 0px,#f60000 49px,#ff0400 60px,#ff3700 90px,#ff7600 114px,#ffc200 135px,#fffe00 148px,#b1ff4e 162px,#53ffac 175px,#05fffa 184px,#00f1ff 186px,#0034ff 204px,#0000fe 209px,#0000b6 217px,#000093 223px,#000084 229px,#00008d 235px,#0000ac 241px,#0000ef 249px,#0004ff 251px,#00dcff 272px,#01fffe 276px,#60ff9f 288px,#a8ff57 300px,#e4ff1b 314px,#fffe00 323px,#ffd800 342px,#ffc200 366px,#ffbe00 400px)"></i><i style="background:linear-gradient(90deg,#cc0000 0px,#f70000 49px,#ff0400 59px,#ff3600 89px,#ff7400 113px,#ffc000 134px,#feff01 148px,#a8ff57 163px,#49ffb6 176px,#03fffc 184px,#00a8ff 193px,#0000fd 209px,#0000b6 217px,#000092 223px,#000084 229px,#00008d 235px,#0000ac 241px,#0000ee 249px,#0002ff 251px,#00daff 272px,#00feff 276px,#65ff9a 289px,#abff54 301px,#e6ff19 315px,#fffd00 324px,#ffd700 343px,#ffc200 367px,#ffbd00 400px)"></i><i style="background:linear-gradient(90deg,#cd0000 0px,#f70000 49px,#ff0500 59px,#ff3800 89px,#ff7600 113px,#ffc200 134px,#fcff03 148px,#a6ff59 163px,#47ffb8 176px,#00ffff 184px,#0071ff 198px,#0006ff 208px,#0000fb 209px,#0000b5 217px,#000092 223px,#000084 229px,#00008d 235px,#0000ab 241px,#0000ed 249px,#0001ff 251px,#00e1ff 273px,#00fcff 276px,#69ff96 290px,#b4ff4b 303px,#ecff13 317px,#fffe00 324px,#ffd800 343px,#ffc200 367px,#ffbd00 400px)"></i><i style="background:linear-gradient(90deg,#ce0000 0px,#f70000 48px,#ff0400 58px,#ff3700 88px,#ff7400 112px,#ffbf00 133px,#ffff00 147px,#aaff55 162px,#4cffb3 175px,#00fdff 184px,#0064ff 199px,#0005ff 208px,#0000f0 210px,#0000ad 218px,#00008e 224px,#000083 230px,#000090 236px,#0000b2 242px,#0000f6 250px,#0000ff 251px,#00dfff 273px,#00faff 276px,#0dfff2 278px,#68ff97 290px,#b2ff4d 303px,#eaff15 317px,#fffc00 325px,#ffd700 344px,#ffc100 369px,#ffbd00 400px)"></i><i style="background:linear-gradient(90deg,#ce0000 0px,#f80000 48px,#ff0400 57px,#ff3600 87px,#ff7300 111px,#ffc100 133px,#feff01 147px,#a2ff5d 163px,#42ffbd 176px,#05fffa 183px,#00f2ff 185px,#0038ff 203px,#0004ff 208px,#0000dd 212px,#0000a6 219px,#00008a 225px,#000084 231px,#000094 237px,#0000c0 244px,#0000fe 251px,#00deff 273px,#02fffd 277px,#5fffa0 289px,#acff53 302px,#e6ff19 316px,#fffd00 325px,#ffd700 344px,#ffc100 369px,#ffbd00 400px)"></i><i style="background:linear-gradient(90deg,#cf0000 0px,#f90000 48px,#ff0500 57px,#ff3700 87px,#ff7400 111px,#ffc200 133px,#fcff03 147px,#a0ff5f 163px,#40ffbf 176px,#03fffc 183px,#00ddff 187px,#0003ff 208px,#0000ac 218px,#00008d 224px,#000083 230px,#000090 236px,#0000b1 242px,#0000f4 250px,#0000fe 251px,#00e5ff 274px,#01fffe 277px,#5effa1 289px,#abff54 302px,#e5ff1a 316px,#fffe00 325px,#ffd800 344px,#ffc200 368px,#ffbd00 400px)"></i><i style="background:linear-gradient(90deg,#cf0000 0px,#f80000 47px,#ff0400 56px,#ff3600 86px,#ff7200 110px,#ffbf00 132px,#fffe00 146px,#abff54 161px,#4fffb0 174px,#02fffd 183px,#008aff 195px,#0002ff 208px,#0000b2 217px,#000091 223px,#000083 229px,#00008c 235px,#0000aa 241px,#0000ea 249px,#0000fd 251px,#00e4ff 274px,#00ffff 277px,#5dffa2 289px,#a9ff56 302px,#e4ff1b 316px,#fffe00 325px,#ffd800 344px,#ffc200 368px,#ffbd00 400px)"></i><i style="background:linear-gradient(90deg,#d00000 0px,#f80000 47px,#ff0600 57px,#ff3900 87px,#ff7600 111px,#ffc000 132px,#ffff00 146px,#a4ff5b 162px,#45ffba 175px,#00ffff 183px,#0069ff 198px,#0001ff 208px,#0000b2 217px,#000090 223px,#000083 229px,#00008c 235px,#0000aa 241px,#0000e9 249px,#0000fc 251px,#0063ff 261px,#00f5ff 276px,#00fdff 277px,#69ff96 291px,#b2ff4d 304px,#eeff11 319px,#fffc00 326px,#ffd700 345px,#ffc100 370px,#ffbc00 400px)"></i><i style="background:linear-gradient(90deg,#d00000 0px,#f90000 47px,#ff0500 56px,#ff3700 86px,#ff7400 110px,#ffc100 132px,#feff01 146px,#a2ff5d 162px,#44ffbb 175px,#00feff 183px,#005dff 199px,#0000ff 208px,#0000b9 216px,#000090 223px,#000083 229px,#00008c 235px,#0000a9 241px,#0000e9 249px,#0000fc 251px,#002eff 256px,#00e2ff 274px,#00fcff 277px,#68ff97 291px,#b2ff4d 304px,#edff12 319px,#fffd00 326px,#ffd700 345px,#ffc000 370px,#ffbc00 400px)"></i><i style="background:linear-gradient(90deg,#d00000 0px,#f80000 46px,#ff0600 56px,#ff3800 86px,#ff7400 110px,#ffc200 132px,#fdff02 146px,#a1ff5e 162px,#43ffbc 175px,#00fcff 183px,#005cff 199px,#0000fe 208px,#0000b8 216px,#000090 223px,#000083 229px,#00008c 235px,#0000a9 241px,#0000e8 249px,#0000fb 251px,#001aff 254px,#00e1ff 274px,#00fbff 277px,#26ffd9 282px,#7aff85 294px,#bfff40 307px,#f6ff09 322px,#fffb00 327px,#ffd600 346px,#ffc000 371px,#ffbb00 400px)"></i><i style="background:linear-gradient(90deg,#d10000 0px,#f80000 46px,#ff0600 56px,#ff3a00 87px,#ff7800 111px,#ffc200 132px,#fcff03 146px,#a0ff5f 162px,#42ffbd 175px,#05fffa 182px,#00f2ff 184px,#0031ff 203px,#0000fd 208px,#0000b8 216px,#000090 223px,#000083 229px,#00008c 235px,#0000a9 241px,#0000e8 249px,#0000fb 251px,#0019ff 254px,#00e0ff 274px,#00fbff 277px,#15ffea 280px,#6dff92 292px,#b5ff4a 305px,#efff10 320px,#fffd00 326px,#ffd700 345px,#ffc000 370px,#ffbb00 400px)"></i><i style="background:linear-gradient(90deg,#d10000 0px,#f70000 45px,#ff0500 55px,#ff3900 86px,#ff7500 110px,#ffbf00 131px,#fffe00 145px,#b3ff4c 159px,#51ffae 173px,#04fffb 182px,#00f1ff 184px,#0007ff 207px,#0000fc 208px,#0000b7 216px,#00008f 223px,#000083 229px,#00008c 235px,#0000a9 241px,#0000e8 249px,#0000fa 251px,#000fff 253px,#00dfff 274px,#04fffb 278px,#5fffa0 290px,#abff54 303px,#e5ff1a 317px,#fffe00 326px,#ffd700 345px,#ffc000 370px,#ffbb00 400px)"></i><i style="background:linear-gradient(90deg,#d10000 0px,#f80000 45px,#ff0400 54px,#ff3700 85px,#ff7600 110px,#ffbf00 131px,#fffe00 145px,#b2ff4d 159px,#50ffaf 173px,#04fffb 182px,#00ddff 186px,#0006ff 207px,#0000fc 208px,#0000b7 216px,#00008f 223px,#000083 229px,#00008c 235px,#0000a9 241px,#0000e8 249px,#0000fa 251px,#000fff 253px,#00dfff 274px,#03fffc 278px,#5fffa0 290px,#abff54 303px,#e5ff1a 317px,#fffe00 326px,#ffd700 345px,#ffc000 370px,#ffba00 400px)"></i><i style="background:linear-gradient(90deg,#d10000 0px,#f60000 44px,#ff0400 54px,#ff3700 85px,#ff7600 110px,#ffbf00 131px,#fffe00 145px,#acff53 160px,#47ffb8 174px,#03fffc 182px,#00b5ff 190px,#0006ff 207px,#0000f1 209px,#0000af 217px,#00008f 223px,#000082 229px,#00008c 235px,#0000a9 241px,#0000e8 249px,#0000fa 251px,#000eff 253px,#00dfff 274px,#03fffc 278px,#5fffa0 290px,#abff54 303px,#e5ff1a 317px,#fffe00 326px,#ffd700 345px,#ffbf00 370px,#ffb900 400px)"></i><i style="background:linear-gradient(90deg,#d10000 0px,#f60000 44px,#ff0400 54px,#ff3700 85px,#ff7600 110px,#ffbf00 131px,#fffe00 145px,#abff54 160px,#4fffb0 173px,#02fffd 182px,#00a0ff 192px,#0005ff 207px,#0000f1 209px,#0000af 217px,#00008f 223px,#000082 229px,#00008c 235px,#0000a9 241px,#0000e8 249px,#0000fa 251px,#000eff 253px,#00dfff 274px,#03fffc 278px,#5fffa0 290px,#abff54 303px,#e5ff1a 317px,#fffe00 326px,#ffd700 345px,#ffbf00 370px,#ffb900 400px)"></i><i style="background:linear-gradient(90deg,#d10000 0px,#f50000 43px,#ff0400 54px,#ff3700 85px,#ff7600 110px,#ffbf00 131px,#fffe00 145px,#b2ff4d 159px,#4fffb0 173px,#02fffd 182px,#0095ff 193px,#0005ff 207px,#0000f1 209px,#0000af 217px,#00008f 223px,#000082 229px,#00008c 235px,#0000a9 241px,#0000e8 249px,#0000fa 251px,#000eff 253px,#00dfff 274px,#03fffc 278px,#5fffa0 290px,#abff54 303px,#e5ff1a 317px,#fffd00 326px,#ffd700 345px,#ffbf00 370px,#ffb800 400px)"></i><i style="background:linear-gradient(90deg,#d10000 0px,#f50000 43px,#ff0300 54px,#ff3700 85px,#ff7600 110px,#ffbf00 131px,#fffe00 145px,#b2ff4d 159px,#4fffb0 173px,#02fffd 182px,#008bff 194px,#0004ff 207px,#0000e7 210px,#0000a8 218px,#00008b 224px,#000082 230px,#00008f 236px,#0000b7 243px,#0000fa 251px,#000fff 253px,#00dfff 274px,#03fffc 278px,#5fffa0 290px,#abff54 303px,#e6ff19 317px,#fffd00 326px,#ffd600 345px,#ffbe00 370px,#ffb700 400px)"></i><i style="background:linear-gradient(90deg,#d10000 0px,#f30000 42px,#ff0300 54px,#ff3700 85px,#ff7500 110px,#ffbe00 131px,#fcff03 146px,#a6ff59 161px,#47ffb8 174px,#02fffd 182px,#008aff 194px,#0004ff 207px,#0000e7 210px,#0000a8 218px,#00008b 224px,#000082 230px,#00008f 236px,#0000b7 243px,#0000fb 251px,#000fff 253px,#00dfff 274px,#04fffb 278px,#5fffa0 290px,#acff53 303px,#e6ff19 317px,#fffc00 326px,#ffd600 345px,#ffbe00 370px,#ffb600 400px)"></i><b class="fr"></b></div><div class="tk2" style="left:516.6px;top:414.5px"></div><div class="yt" style="left:3.2px;top:-4.8px">90</div><div class="yt" style="left:3.2px;top:62.0333px">75</div><div class="yt" style="left:3.2px;top:128.867px">60</div><div class="yt" style="left:3.2px;top:195.7px">45</div><div class="yt" style="left:3.2px;top:262.533px">30</div><div class="yt" style="left:3.2px;top:329.367px">15</div><div class="yt" style="left:3.2px;top:396.2px">0</div><div class="xt" style="left:66.3px;top:432.3px">230</div><div class="xt" style="left:166.15px;top:432.3px">235</div><div class="xt" style="left:266px;top:432.3px">240</div><div class="xt" style="left:365.85px;top:432.3px">245</div><div class="xt" style="left:465.7px;top:432.3px">250</div><div class="xl" style="left:67.5px;top:483.2px">Frequency (THz)</div><div class="yl" style="left:-177.8px;top:191.2px"><span class="th">&#952;</span> (Degree)</div><div class="ann" style="left:130.5px;top:33.46px"><i>d</i><sub>2</sub><span class="eq">=</span>180 nm</div><div class="ann r2" style="left:130.5px;top:80.76px">R<sub>-Z</sub></div><div class="let" style="left:453px;top:357.5px">(a)</div><div class="cb" style="left:568.5px;top:19px;width:48.5px;height:400px;background:linear-gradient(180deg,#800000 0.00px,#800000 6.25px,#8f0000 6.25px,#8f0000 12.50px,#9f0000 12.50px,#9f0000 18.75px,#af0000 18.75px,#af0000 25.00px,#bf0000 25.00px,#bf0000 31.25px,#cf0000 31.25px,#cf0000 37.50px,#df0000 37.50px,#df0000 43.75px,#ef0000 43.75px,#ef0000 50.00px,#ff0000 50.00px,#ff0000 56.25px,#ff1000 56.25px,#ff1000 62.50px,#ff2000 62.50px,#ff2000 68.75px,#ff3000 68.75px,#ff3000 75.00px,#ff4000 75.00px,#ff4000 81.25px,#ff5000 81.25px,#ff5000 87.50px,#ff6000 87.50px,#ff6000 93.75px,#ff7000 93.75px,#ff7000 100.00px,#ff8000 100.00px,#ff8000 106.25px,#ff8f00 106.25px,#ff8f00 112.50px,#ff9f00 112.50px,#ff9f00 118.75px,#ffaf00 118.75px,#ffaf00 125.00px,#ffbf00 125.00px,#ffbf00 131.25px,#ffcf00 131.25px,#ffcf00 137.50px,#ffdf00 137.50px,#ffdf00 143.75px,#ffef00 143.75px,#ffef00 150.00px,#ffff00 150.00px,#ffff00 156.25px,#efff10 156.25px,#efff10 162.50px,#dfff20 162.50px,#dfff20 168.75px,#cfff30 168.75px,#cfff30 175.00px,#bfff40 175.00px,#bfff40 181.25px,#afff50 181.25px,#afff50 187.50px,#9fff60 187.50px,#9fff60 193.75px,#8fff70 193.75px,#8fff70 200.00px,#80ff80 200.00px,#80ff80 206.25px,#70ff8f 206.25px,#70ff8f 212.50px,#60ff9f 212.50px,#60ff9f 218.75px,#50ffaf 218.75px,#50ffaf 225.00px,#40ffbf 225.00px,#40ffbf 231.25px,#30ffcf 231.25px,#30ffcf 237.50px,#20ffdf 237.50px,#20ffdf 243.75px,#10ffef 243.75px,#10ffef 250.00px,#00ffff 250.00px,#00ffff 256.25px,#00efff 256.25px,#00efff 262.50px,#00dfff 262.50px,#00dfff 268.75px,#00cfff 268.75px,#00cfff 275.00px,#00bfff 275.00px,#00bfff 281.25px,#00afff 281.25px,#00afff 287.50px,#009fff 287.50px,#009fff 293.75px,#008fff 293.75px,#008fff 300.00px,#0080ff 300.00px,#0080ff 306.25px,#0070ff 306.25px,#0070ff 312.50px,#0060ff 312.50px,#0060ff 318.75px,#0050ff 318.75px,#0050ff 325.00px,#0040ff 325.00px,#0040ff 331.25px,#0030ff 331.25px,#0030ff 337.50px,#0020ff 337.50px,#0020ff 343.75px,#0010ff 343.75px,#0010ff 350.00px,#0000ff 350.00px,#0000ff 356.25px,#0000ef 356.25px,#0000ef 362.50px,#0000df 362.50px,#0000df 368.75px,#0000cf 368.75px,#0000cf 375.00px,#0000bf 375.00px,#0000bf 381.25px,#0000af 381.25px,#0000af 387.50px,#00009f 387.50px,#00009f 393.75px,#00008f 393.75px,#00008f 400.00px)"></div><div class="tk" style="left:611px;top:327.57px"></div><div class="cl" style="left:627.4px;top:306.32px">0.2</div><div class="tk" style="left:611px;top:235.722px"></div><div class="cl" style="left:627.4px;top:214.472px">0.4</div><div class="tk" style="left:611px;top:143.873px"></div><div class="cl" style="left:627.4px;top:122.623px">0.6</div><div class="tk" style="left:611px;top:52.0247px"></div><div class="cl" style="left:627.4px;top:30.7747px">0.8</div><div class="plot s4" style="left:934px;top:18.5px"><i style="background:linear-gradient(90deg,#d30000 0px,#f70000 42px,#ff0500 52px,#ff3900 83px,#ff7800 108px,#ffc300 129px,#ffff00 142px,#a9ff56 157px,#4affb5 170px,#06fff9 178px,#00f2ff 180px,#0000fe 204px,#0000b9 212px,#000090 219px,#000083 225px,#00008b 231px,#0000a7 237px,#0000e5 245px,#0002ff 248px,#00e5ff 271px,#01fffe 274px,#5effa1 286px,#abff54 299px,#e7ff18 313px,#fffe00 321px,#ffd500 340px,#ffbb00 364px,#ffb300 400px)"></i><i style="background:linear-gradient(90deg,#d30000 0px,#f90000 43px,#ff0500 52px,#ff3900 83px,#ff7500 107px,#ffc000 128px,#ffff00 142px,#a2ff5d 158px,#42ffbd 171px,#06fff9 178px,#00f2ff 180px,#0000fe 204px,#0000b9 212px,#000091 219px,#000083 225px,#00008b 231px,#0000a8 237px,#0000e5 245px,#0002ff 248px,#00e5ff 271px,#01fffe 274px,#5effa1 286px,#abff54 299px,#e7ff18 313px,#fffe00 321px,#ffd500 340px,#ffbc00 364px,#ffb400 400px)"></i><i style="background:linear-gradient(90deg,#d30000 0px,#f90000 43px,#ff0500 52px,#ff3900 83px,#ff7600 107px,#ffc000 128px,#feff01 142px,#a2ff5d 158px,#42ffbd 171px,#00fcff 179px,#0051ff 196px,#0000fe 204px,#0000b9 212px,#000091 219px,#000083 225px,#00008b 231px,#0000a8 237px,#0000e5 245px,#0002ff 248px,#00e5ff 271px,#01fffe 274px,#5effa1 286px,#abff54 299px,#e7ff18 313px,#fffe00 321px,#ffd500 340px,#ffbc00 364px,#ffb500 400px)"></i><i style="background:linear-gradient(90deg,#d30000 0px,#fa0000 44px,#ff0600 53px,#ff3b00 84px,#ff7900 108px,#ffc400 129px,#feff01 142px,#a2ff5d 158px,#43ffbc 171px,#00fcff 179px,#0051ff 196px,#0000ff 204px,#0000b9 212px,#000091 219px,#000083 225px,#00008b 231px,#0000a8 237px,#0000e6 245px,#0002ff 248px,#00e6ff 271px,#01fffe 274px,#5effa1 286px,#abff54 299px,#e7ff18 313px,#fffe00 321px,#ffd500 340px,#ffbc00 364px,#ffb500 399px,#ffb500 400px)"></i><i style="background:linear-gradient(90deg,#d30000 0px,#fa0000 44px,#ff0600 53px,#ff3b00 84px,#ff7800 108px,#ffc400 129px,#feff01 142px,#a2ff5d 158px,#43ffbc 171px,#00fdff 179px,#0052ff 196px,#0000ff 204px,#0000b9 212px,#000091 219px,#000083 225px,#00008b 231px,#0000a8 237px,#0000e6 245px,#0003ff 248px,#00ddff 270px,#02fffd 274px,#5effa1 286px,#abff54 299px,#e7ff18 313px,#fffe00 321px,#ffd500 340px,#ffbd00 364px,#ffb600 399px,#ffb600 400px)"></i><i style="background:linear-gradient(90deg,#d30000 0px,#fa0000 44px,#ff0700 54px,#ff3b00 84px,#ff7800 108px,#ffc300 129px,#ffff00 142px,#a3ff5c 158px,#44ffbb 171px,#00fdff 179px,#005dff 195px,#0001ff 204px,#0000b3 213px,#000091 219px,#000084 225px,#00008c 231px,#0000a8 237px,#0000e6 245px,#0003ff 248px,#00deff 270px,#02fffd 274px,#5fffa0 286px,#acff53 299px,#e7ff18 313px,#fffe00 321px,#ffd500 340px,#ffbd00 364px,#ffb600 399px,#ffb700 400px)"></i><i style="background:linear-gradient(90deg,#d30000 0px,#fb0000 45px,#ff0a00 56px,#ff3e00 86px,#ff7e00 110px,#ffcb00 131px,#ffff00 142px,#aaff55 157px,#4cffb3 170px,#00feff 179px,#005eff 195px,#0001ff 204px,#0000b3 213px,#000091 219px,#000084 225px,#00008c 231px,#0000a8 237px,#0000e7 245px,#0004ff 248px,#00deff 270px,#03fffc 274px,#5fffa0 286px,#acff53 299px,#e7ff18 313px,#fffe00 321px,#ffd500 340px,#ffbd00 364px,#ffb700 399px,#ffb700 400px)"></i><i style="background:linear-gradient(90deg,#d20000 0px,#fa0000 45px,#ff0800 55px,#ff3c00 85px,#ff7a00 109px,#ffc700 130px,#fffe00 142px,#abff54 157px,#4dffb2 170px,#00ffff 179px,#0069ff 194px,#0002ff 204px,#0000b3 213px,#000092 219px,#000084 225px,#00008c 231px,#0000a8 237px,#0000e7 245px,#0004ff 248px,#00dfff 270px,#00faff 273px,#0cfff3 275px,#67ff98 287px,#b2ff4d 300px,#ebff14 314px,#fffd00 321px,#ffd500 340px,#ffbd00 364px,#ffb700 399px,#ffb800 400px)"></i><i style="background:linear-gradient(90deg,#d20000 0px,#fb0000 46px,#ff0c00 58px,#ff3f00 87px,#ff7d00 110px,#ffca00 131px,#fffd00 142px,#b8ff47 155px,#56ffa9 169px,#01fffe 179px,#007fff 192px,#0003ff 204px,#0000ad 214px,#00008e 220px,#000084 226px,#00008f 232px,#0000b6 239px,#0000fa 247px,#000fff 249px,#00e0ff 270px,#00fbff 273px,#1effe1 277px,#75ff8a 289px,#bcff43 302px,#f5ff0a 317px,#fffd00 321px,#ffd500 340px,#ffbd00 364px,#ffb800 399px,#ffb800 400px)"></i><i style="background:linear-gradient(90deg,#d20000 0px,#fb0000 46px,#ff0a00 57px,#ff3f00 87px,#ff7c00 110px,#ffc900 131px,#fdff02 143px,#a0ff5f 159px,#40ffbf 172px,#03fffc 179px,#00aaff 188px,#0003ff 204px,#0000b4 213px,#000092 219px,#000084 225px,#00008c 231px,#0000a9 237px,#0000e8 245px,#0000fb 247px,#0019ff 250px,#00e2ff 270px,#00fcff 273px,#69ff96 287px,#b3ff4c 300px,#ecff13 314px,#fffc00 321px,#ffd500 340px,#ffbd00 364px,#ffb800 399px,#ffb800 400px)"></i><i style="background:linear-gradient(90deg,#d10000 0px,#fa0000 46px,#ff0700 55px,#ff3a00 85px,#ff7800 109px,#ffc400 130px,#feff01 143px,#a1ff5e 159px,#41ffbe 172px,#04fffb 179px,#00e7ff 182px,#0004ff 204px,#0000e6 207px,#0000ae 214px,#00008e 220px,#000084 226px,#000090 232px,#0000b0 238px,#0000f2 246px,#0000fc 247px,#0039ff 253px,#00e3ff 270px,#00feff 273px,#64ff9b 286px,#b0ff4f 299px,#eaff15 313px,#fffe00 320px,#ffd700 338px,#ffbf00 361px,#ffb800 394px,#ffb900 400px)"></i><i style="background:linear-gradient(90deg,#d10000 0px,#fb0000 47px,#ff0a00 58px,#ff3d00 87px,#ff7a00 110px,#ffc700 131px,#ffff00 143px,#a9ff56 158px,#4bffb4 171px,#06fff9 179px,#00f2ff 181px,#002eff 200px,#0005ff 204px,#0000f1 206px,#0000ae 214px,#00008f 220px,#000084 226px,#000090 232px,#0000b1 238px,#0000f3 246px,#0000fd 247px,#00eeff 271px,#00ffff 273px,#5effa1 285px,#acff53 298px,#e7ff18 312px,#fffe00 320px,#ffd500 339px,#ffbe00 363px,#ffb900 398px,#ffb900 400px)"></i><i style="background:linear-gradient(90deg,#d00000 0px,#fa0000 47px,#ff0700 56px,#ff3a00 86px,#ff7500 109px,#ffc100 130px,#fffd00 143px,#b7ff48 156px,#55ffaa 170px,#00fdff 180px,#005aff 196px,#0006ff 204px,#0000fb 205px,#0000b6 213px,#000093 219px,#000085 225px,#00008d 231px,#0000aa 237px,#0000eb 245px,#0000fe 247px,#00e6ff 270px,#02fffd 273px,#60ff9f 285px,#adff52 298px,#e8ff17 312px,#fffd00 320px,#ffd500 339px,#ffbe00 363px,#ffb900 398px,#ffb900 400px)"></i><i style="background:linear-gradient(90deg,#d00000 0px,#fb0000 48px,#ff0800 58px,#ff3b00 87px,#ff7700 110px,#ffc400 131px,#fdff02 144px,#a6ff59 159px,#46ffb9 172px,#00ffff 180px,#0066ff 195px,#0000fc 205px,#0000b6 213px,#000093 219px,#000085 225px,#00008d 231px,#0000ab 237px,#0000ec 245px,#0000ff 247px,#00dfff 269px,#00faff 272px,#0dfff2 274px,#68ff97 286px,#b4ff4b 299px,#edff12 313px,#fffc00 320px,#ffd400 339px,#ffbd00 363px,#ffb900 398px,#ffb900 400px)"></i><i style="background:linear-gradient(90deg,#cf0000 0px,#fa0000 48px,#ff0600 57px,#ff3a00 87px,#ff7600 110px,#ffc200 131px,#ffff00 144px,#a8ff57 159px,#49ffb6 172px,#02fffd 180px,#009eff 190px,#0000fe 205px,#0000b7 213px,#000093 219px,#000085 225px,#00008d 231px,#0000ab 237px,#0000ed 245px,#0001ff 247px,#00e1ff 269px,#00fcff 272px,#6aff95 286px,#b5ff4a 299px,#eeff11 313px,#fffd00 319px,#ffd700 337px,#ffbf00 360px,#ffb900 394px,#ffb900 400px)"></i><i style="background:linear-gradient(90deg,#ce0000 0px,#f90000 48px,#ff0500 57px,#ff3800 87px,#ff7400 110px,#ffc100 131px,#fffd00 144px,#b7ff48 157px,#5bffa4 170px,#05fffa 180px,#00f1ff 182px,#0000ff 205px,#0000b8 213px,#000094 219px,#000085 225px,#00008e 231px,#0000ac 237px,#0000ee 245px,#0002ff 247px,#00e3ff 269px,#00feff 272px,#65ff9a 285px,#b2ff4d 298px,#ecff13 312px,#fffc00 319px,#ffd600 337px,#ffbf00 360px,#ffb900 394px,#ffba00 400px)"></i><i style="background:linear-gradient(90deg,#ce0000 0px,#f80000 48px,#ff0400 57px,#ff3700 87px,#ff7300 110px,#ffbf00 131px,#feff01 145px,#a6ff59 160px,#45ffba 173px,#00fcff 181px,#0056ff 197px,#0001ff 205px,#0000b1 214px,#000090 220px,#000085 226px,#000092 232px,#0000b4 238px,#0000f9 246px,#0004ff 247px,#00dcff 268px,#01fffe 272px,#61ff9e 284px,#a9ff56 296px,#e7ff18 310px,#fffe00 318px,#ffd700 336px,#ffbf00 359px,#ffb900 393px,#ffba00 400px)"></i><i style="background:linear-gradient(90deg,#cd0000 0px,#f80000 49px,#ff0600 59px,#ff3800 88px,#ff7400 111px,#ffc100 132px,#fffe00 145px,#afff50 159px,#50ffaf 172px,#00ffff 181px,#0063ff 196px,#0003ff 205px,#0000b2 214px,#000091 220px,#000086 226px,#000092 232px,#0000b4 238px,#0000fa 246px,#000fff 248px,#00deff 268px,#00faff 271px,#0dfff2 273px,#6aff95 285px,#b1ff4e 297px,#ecff13 311px,#fffc00 318px,#ffd600 336px,#ffbe00 359px,#ffb900 393px,#ffba00 400px)"></i><i style="background:linear-gradient(90deg,#cc0000 0px,#f70000 49px,#ff0500 59px,#ff3600 88px,#ff7200 111px,#ffbf00 132px,#fdff02 146px,#a4ff5b 161px,#42ffbd 174px,#03fffc 181px,#00a6ff 190px,#0004ff 205px,#0000e5 208px,#0000ac 215px,#00008e 221px,#000086 226px,#000093 232px,#0000b5 238px,#0000fc 246px,#0026ff 250px,#00e1ff 268px,#00fcff 271px,#6cff93 285px,#b3ff4c 297px,#edff12 311px,#fffe00 317px,#ffd700 335px,#ffbf00 358px,#ffb900 392px,#ffba00 400px)"></i><i style="background:linear-gradient(90deg,#cb0000 0px,#f60000 49px,#ff0500 60px,#ff3700 89px,#ff7300 112px,#ffc100 133px,#fffe00 146px,#aeff51 160px,#4dffb2 173px,#05fffa 181px,#00f1ff 183px,#0006ff 205px,#0000f0 207px,#0000b3 214px,#000092 220px,#000086 225px,#00008c 230px,#0000a8 236px,#0000e0 243px,#0000fd 246px,#00edff 269px,#00ffff 271px,#61ff9e 283px,#abff54 295px,#e8ff17 309px,#fffc00 317px,#ffd600 335px,#ffbe00 358px,#ffb900 392px,#ffba00 400px)"></i><i style="background:linear-gradient(90deg,#cb0000 0px,#f60000 50px,#ff0500 61px,#ff3700 90px,#ff7400 113px,#ffbe00 133px,#fdff02 147px,#a3ff5c 162px,#3fffc0 175px,#00feff 182px,#005fff 197px,#0007ff 205px,#0000fc 206px,#0000b4 214px,#000092 220px,#000087 225px,#00008d 230px,#0000a9 236px,#0000e2 243px,#0000ff 246px,#00dcff 267px,#03fffc 271px,#5cffa3 282px,#a8ff57 294px,#e3ff1c 307px,#fffe00 316px,#ffd600 334px,#ffbe00 357px,#ffb800 391px,#ffba00 400px)"></i><i style="background:linear-gradient(90deg,#ca0000 0px,#f50000 50px,#ff0300 61px,#ff3500 90px,#ff7200 113px,#ffc000 134px,#fffe00 147px,#adff52 161px,#4bffb4 174px,#02fffd 182px,#008eff 193px,#0000fe 206px,#0000b5 214px,#000093 220px,#000087 225px,#00008d 230px,#0000aa 236px,#0000e3 243px,#0002ff 246px,#00dfff 267px,#00fcff 270px,#50ffaf 280px,#9fff60 292px,#ddff22 305px,#ffff00 315px,#ffd700 333px,#ffbe00 356px,#ffb800 390px,#ffba00 400px)"></i><i style="background:linear-gradient(90deg,#c90000 0px,#f30000 50px,#ff0300 62px,#ff3600 91px,#ff7300 114px,#ffbd00 134px,#feff01 148px,#a3ff5c 163px,#46ffb9 175px,#05fffa 182px,#00f0ff 184px,#0001ff 206px,#0000b6 214px,#000093 220px,#000088 225px,#00008e 230px,#0000ab 236px,#0000e5 243px,#0004ff 246px,#00e2ff 267px,#00ffff 270px,#62ff9d 282px,#adff52 294px,#e7ff18 307px,#fffd00 315px,#ffd500 333px,#ffbe00 356px,#ffb800 391px,#ffb900 400px)"></i><i style="background:linear-gradient(90deg,#c80000 0px,#f20000 50px,#ff0300 63px,#ff3400 91px,#ff7100 114px,#ffbb00 134px,#fffd00 148px,#baff45 160px,#5affa5 173px,#00feff 183px,#005bff 198px,#0003ff 206px,#0000b0 215px,#000090 221px,#000088 226px,#000092 231px,#0000b3 237px,#0000fa 245px,#0010ff 247px,#00dcff 266px,#03fffc 270px,#5effa1 281px,#aaff55 293px,#e5ff1a 306px,#fffe00 314px,#ffd700 331px,#ffbf00 353px,#ffb700 386px,#ffb900 400px)"></i><i style="background:linear-gradient(90deg,#c70000 0px,#f10000 50px,#ff0300 64px,#ff3400 92px,#ff7200 115px,#ffbc00 135px,#feff01 149px,#a9ff56 163px,#4dffb2 175px,#02fffd 183px,#00a2ff 192px,#0005ff 206px,#0000ef 208px,#0000b1 215px,#000091 221px,#000089 226px,#000093 231px,#0000b4 237px,#0000fc 245px,#006aff 255px,#00f3ff 268px,#00fcff 269px,#6fff90 283px,#b7ff48 295px,#f2ff0d 309px,#fffc00 314px,#ffd400 332px,#ffbd00 355px,#ffb800 390px,#ffb900 400px)"></i><i style="background:linear-gradient(90deg,#c60000 0px,#f00000 51px,#ff0300 65px,#ff3400 93px,#ff7200 116px,#ffbe00 136px,#fcff03 150px,#a6ff59 164px,#48ffb7 176px,#06fff9 183px,#00fbff 184px,#0056ff 199px,#0007ff 206px,#0000fb 207px,#0000ba 214px,#000096 220px,#00008a 225px,#000090 230px,#0000ae 236px,#0000ea 243px,#0000fe 245px,#00e3ff 266px,#01fffe 269px,#5dffa2 280px,#aaff55 292px,#e6ff19 305px,#fffd00 313px,#ffd600 330px,#ffbe00 352px,#ffb700 385px,#ffb900 400px)"></i><i style="background:linear-gradient(90deg,#c50000 0px,#ef0000 51px,#ff0200 66px,#ff3400 94px,#ff7300 117px,#ffbf00 137px,#fffe00 150px,#b1ff4e 163px,#54ffab 175px,#00ffff 184px,#0059ff 199px,#0000fe 207px,#0000bc 214px,#000097 220px,#00008a 225px,#000091 230px,#0000b0 236px,#0000ec 243px,#0002ff 245px,#00dcff 265px,#00faff 268px,#0dfff2 270px,#68ff97 281px,#b3ff4c 293px,#ecff13 306px,#fffe00 312px,#ffd600 329px,#ffbe00 351px,#ffb700 384px,#ffb900 400px)"></i><i style="background:linear-gradient(90deg,#c40000 0px,#ed0000 51px,#ff0300 68px,#ff3400 95px,#ff7300 118px,#ffc000 138px,#feff01 151px,#a7ff58 165px,#47ffb8 177px,#04fffb 184px,#00e4ff 187px,#0001ff 207px,#0000b5 215px,#000094 221px,#00008b 226px,#000095 231px,#0000b9 237px,#0000f9 244px,#0004ff 245px,#00e0ff 265px,#00fdff 268px,#64ff9b 280px,#b0ff4f 292px,#ebff14 305px,#fffe00 311px,#ffd600 328px,#ffbe00 350px,#ffb600 383px,#ffb900 400px)"></i><i style="background:linear-gradient(90deg,#c30000 0px,#ec0000 51px,#ff0300 69px,#ff3400 96px,#ff7400 119px,#ffc100 139px,#fcff03 152px,#a4ff5b 166px,#42ffbd 178px,#00fdff 185px,#0054ff 200px,#0003ff 207px,#0000bf 214px,#000099 220px,#00008c 225px,#000093 230px,#0000b3 236px,#0000f1 243px,#0000fb 244px,#001dff 247px,#00e4ff 265px,#02fffd 268px,#60ff9f 279px,#a9ff56 290px,#e6ff19 303px,#fffc00 311px,#ffd500 328px,#ffbd00 350px,#ffb600 383px,#ffb800 400px)"></i><i style="background:linear-gradient(90deg,#c20000 0px,#ea0000 51px,#ff0300 70px,#ff3400 97px,#ff7400 120px,#ffc200 140px,#fffe00 152px,#b6ff49 164px,#58ffa7 176px,#02fffd 185px,#0092ff 195px,#0006ff 207px,#0000fa 208px,#0000b9 215px,#00009a 220px,#00008d 225px,#000094 230px,#0000ad 235px,#0000e9 242px,#0000fe 244px,#00e8ff 265px,#00fcff 267px,#6cff93 280px,#b7ff48 292px,#f1ff0e 305px,#fffd00 310px,#ffd500 327px,#ffbc00 349px,#ffb600 382px,#ffb800 400px)"></i><i style="background:linear-gradient(90deg,#c10000 0px,#ea0000 52px,#ff0200 71px,#ff3400 98px,#ff7500 121px,#ffbf00 140px,#feff01 153px,#acff53 166px,#4bffb4 178px,#07fff8 185px,#00fbff 186px,#004fff 201px,#0000fd 208px,#0000bb 215px,#00009b 220px,#00008e 225px,#000095 230px,#0000af 235px,#0000ec 242px,#0002ff 244px,#00e2ff 264px,#01fffe 267px,#61ff9e 278px,#aaff55 289px,#e8ff17 302px,#fffd00 309px,#ffd500 326px,#ffbd00 347px,#ffb500 379px,#ffb800 400px)"></i><i style="background:linear-gradient(90deg,#c00000 0px,#e80000 52px,#ff0300 73px,#ff3600 100px,#ff7500 122px,#ffbf00 141px,#fdff02 154px,#aaff55 167px,#50ffaf 178px,#01fffe 186px,#0077ff 198px,#0001ff 208px,#0000bd 215px,#00009d 220px,#00008f 225px,#000097 230px,#0000b1 235px,#0000ee 242px,#0004ff 244px,#00e6ff 264px,#00fbff 266px,#18ffe7 269px,#74ff8b 280px,#b9ff46 291px,#f3ff0c 304px,#fffb00 309px,#ffd300 326px,#ffbb00 348px,#ffb500 382px,#ffb700 400px)"></i><i style="background:linear-gradient(90deg,#bf0000 0px,#e60000 52px,#ff0300 74px,#ff3400 100px,#ff7500 123px,#ffc000 142px,#fffd00 154px,#c3ff3c 164px,#66ff99 176px,#06fff9 186px,#00efff 188px,#0004ff 208px,#0000e3 211px,#0000b0 217px,#000097 222px,#000091 227px,#0000a1 232px,#0000cb 238px,#0000fc 243px,#0029ff 247px,#00e0ff 263px,#00ffff 266px,#59ffa6 276px,#a6ff59 287px,#e2ff1d 299px,#fffe00 307px,#ffd600 323px,#ffbc00 344px,#ffb400 375px,#ffb700 400px)"></i><i style="background:linear-gradient(90deg,#be0000 0px,#e40000 52px,#ff0200 75px,#ff3300 101px,#ff7500 124px,#ffc100 143px,#fffe00 155px,#b3ff4c 167px,#5affa5 178px,#00ffff 187px,#005bff 201px,#0007ff 208px,#0000fb 209px,#0000b9 216px,#00009c 221px,#000092 226px,#00009e 231px,#0000bc 236px,#0000ff 243px,#00e5ff 263px,#00faff 265px,#0ffff0 267px,#66ff99 277px,#afff50 288px,#e9ff16 300px,#ffff00 306px,#ffd600 322px,#ffbc00 343px,#ffb300 374px,#ffb700 400px)"></i><i style="background:linear-gradient(90deg,#bd0000 0px,#e30000 52px,#ff0300 77px,#ff3500 103px,#ff7500 125px,#ffc100 144px,#ffff00 156px,#a9ff56 169px,#4cffb3 180px,#05fffa 187px,#00eeff 189px,#0000ff 209px,#0000bc 216px,#00009e 221px,#000094 226px,#0000a0 231px,#0000bf 236px,#0003ff 243px,#00eaff 263px,#00ffff 265px,#63ff9c 276px,#aeff51 287px,#e9ff16 299px,#ffff00 305px,#ffd600 321px,#ffbc00 341px,#ffb300 371px,#ffb600 400px)"></i><i style="background:linear-gradient(90deg,#bc0000 0px,#e20000 53px,#ff0200 78px,#ff3500 104px,#ff7500 126px,#ffc200 145px,#feff01 157px,#a7ff58 170px,#48ffb7 181px,#00ffff 188px,#004bff 203px,#0003ff 209px,#0000b7 217px,#00009c 222px,#000096 227px,#0000a7 232px,#0000d3 238px,#0000fb 242px,#0012ff 244px,#00e4ff 262px,#00f9ff 264px,#0ffff0 266px,#67ff98 276px,#b2ff4d 287px,#ecff13 299px,#fffc00 305px,#ffd400 321px,#ffbb00 341px,#ffb200 371px,#ffb600 400px)"></i><i style="background:linear-gradient(90deg,#bb0000 0px,#e00000 53px,#ff0300 80px,#ff3700 106px,#ff7900 128px,#ffc200 146px,#fdff02 158px,#acff53 170px,#4effb1 181px,#06fff9 188px,#00eeff 190px,#0007ff 209px,#0000fb 210px,#0000c1 216px,#0000a2 221px,#000098 226px,#0000a4 231px,#0000c4 236px,#0000ff 242px,#00eaff 262px,#00ffff 264px,#5cffa3 274px,#aaff55 285px,#e7ff18 297px,#fffc00 304px,#ffd300 320px,#ffba00 340px,#ffb200 370px,#ffb600 400px)"></i><i style="background:linear-gradient(90deg,#b90000 0px,#de0000 53px,#ff0200 81px,#ff3400 106px,#ff7500 128px,#ffbe00 146px,#fffc00 158px,#c8ff37 167px,#70ff8f 178px,#0cfff3 188px,#00ffff 189px,#0055ff 203px,#0000ff 210px,#0000c4 216px,#0000a5 221px,#00009a 226px,#0000a6 231px,#0000c7 236px,#0003ff 242px,#00efff 262px,#05fffa 264px,#61ff9e 274px,#afff50 285px,#ebff14 297px,#fffc00 303px,#ffd300 319px,#ffb900 339px,#ffb100 369px,#ffb500 400px)"></i><i style="background:linear-gradient(90deg,#b80000 0px,#dd0000 53px,#ff0300 83px,#ff3600 108px,#ff7800 130px,#ffc300 148px,#fffd00 159px,#bfff40 169px,#63ff9c 180px,#07fff8 189px,#00faff 190px,#0004ff 210px,#0000e3 213px,#0000b2 219px,#00009e 224px,#0000a2 229px,#0000bb 234px,#0000f1 240px,#0000fc 241px,#001fff 244px,#00eaff 261px,#00ffff 263px,#5effa1 273px,#adff52 284px,#ebff14 296px,#fffc00 302px,#ffd400 317px,#ffb900 337px,#ffb000 366px,#ffb500 400px)"></i><i style="background:linear-gradient(90deg,#b70000 0px,#db0000 53px,#ff0200 84px,#ff3500 109px,#ff7800 131px,#ffc300 149px,#fffe00 160px,#b6ff49 171px,#56ffa9 182px,#02fffd 190px,#0079ff 201px,#0009ff 210px,#0000fc 211px,#0000c3 217px,#0000a6 222px,#0000a0 227px,#0000b2 232px,#0000d7 237px,#0001ff 241px,#00f0ff 261px,#00fbff 262px,#1bffe4 265px,#74ff8b 275px,#beff41 286px,#f7ff08 298px,#fffc00 301px,#ffd400 316px,#ffb900 335px,#ffaf00 363px,#ffb400 400px)"></i><i style="background:linear-gradient(90deg,#b60000 0px,#d90000 53px,#ff0300 86px,#ff3700 111px,#ff7b00 133px,#ffc800 151px,#fffe00 161px,#b4ff4b 172px,#5dffa2 182px,#08fff7 190px,#00fcff 191px,#0002ff 211px,#0000bf 218px,#0000a6 223px,#0000a5 228px,#0000bb 233px,#0000ef 239px,#0006ff 241px,#00f6ff 261px,#02fffd 262px,#61ff9e 272px,#aaff55 282px,#eaff15 294px,#fffc00 300px,#ffd300 315px,#ffb800 334px,#ffae00 362px,#ffb400 400px)"></i><i style="background:linear-gradient(90deg,#b50000 0px,#d80000 54px,#ff0200 87px,#ff3700 112px,#ff7a00 134px,#ffc200 151px,#ffff00 162px,#aaff55 174px,#50ffaf 184px,#03fffc 191px,#00d2ff 195px,#0007ff 211px,#0000fb 212px,#0000c3 218px,#0000aa 223px,#0000a8 228px,#0000bf 233px,#0000f4 239px,#0000fe 240px,#00fcff 261px,#6fff90 273px,#b6ff49 283px,#f2ff0d 295px,#fffc00 299px,#ffd200 314px,#ffb800 333px,#ffad00 360px,#ffb300 400px)"></i><i style="background:linear-gradient(90deg,#b40000 0px,#d60000 54px,#ff0300 89px,#ff3800 114px,#ff7a00 135px,#ffc200 152px,#ffff00 163px,#a9ff56 175px,#4dffb2 185px,#00feff 192px,#0001ff 212px,#0000c8 218px,#0000ae 223px,#0000ab 227px,#0000bd 232px,#0000e4 237px,#0004ff 240px,#00f8ff 260px,#04fffb 261px,#65ff9a 271px,#afff50 281px,#eaff15 292px,#fffc00 298px,#ffd200 313px,#ffb700 332px,#ffad00 359px,#ffb300 400px)"></i><i style="background:linear-gradient(90deg,#b30000 0px,#d40000 54px,#fc0000 87px,#ff1b00 103px,#ff5700 126px,#ff9d00 145px,#ffe700 160px,#ffff00 164px,#b0ff4f 175px,#54ffab 185px,#06fff9 192px,#00f9ff 193px,#0007ff 212px,#0000fb 213px,#0000cc 218px,#0000b2 223px,#0000af 227px,#0000c1 232px,#0000e9 237px,#0000fe 239px,#006cff 248px,#00ffff 260px,#62ff9d 270px,#aeff51 280px,#eaff15 291px,#ffff00 296px,#ffd300 311px,#ffb700 329px,#ffac00 355px,#ffb200 400px)"></i><i style="background:linear-gradient(90deg,#b10000 0px,#d20000 54px,#fa0000 87px,#ff0600 94px,#ff3c00 118px,#ff8000 139px,#ffcc00 156px,#feff01 165px,#afff50 176px,#51ffae 186px,#02fffd 193px,#008eff 202px,#000dff 212px,#0002ff 213px,#0000ca 219px,#0000b4 224px,#0000b5 228px,#0000cd 233px,#0000f9 238px,#0005ff 239px,#00fbff 259px,#1cffe3 262px,#71ff8e 271px,#baff45 281px,#f7ff08 293px,#fffb00 296px,#ffd200 310px,#ffb600 328px,#ffab00 354px,#ffb200 400px)"></i><i style="background:linear-gradient(90deg,#b00000 0px,#d10000 55px,#f80000 88px,#ff0500 95px,#ff3e00 120px,#ff8300 141px,#ffcb00 157px,#ffff00 166px,#adff52 177px,#4fffb0 187px,#00fdff 194px,#0014ff 212px,#0000fc 214px,#0000d0 219px,#0000bc 223px,#0000b8 227px,#0000c6 231px,#0000eb 236px,#0000ff 238px,#007bff 248px,#00f7ff 258px,#03fffc 259px,#5effa1 268px,#acff53 278px,#eaff15 289px,#fffe00 294px,#ffd300 308px,#ffb600 326px,#ffaa00 351px,#ffb100 400px)"></i><i style="background:linear-gradient(90deg,#af0000 0px,#cf0000 55px,#f60000 88px,#ff0400 96px,#ff3d00 121px,#ff8200 142px,#ffca00 158px,#ffff00 167px,#adff52 178px,#4cffb3 188px,#07fff8 194px,#00f9ff 195px,#001bff 212px,#0004ff 214px,#0000e6 217px,#0000c5 222px,#0000bd 226px,#0000c7 230px,#0000e8 235px,#0000fb 237px,#001dff 240px,#00feff 258px,#65ff9a 268px,#b2ff4d 278px,#efff10 289px,#fffe00 293px,#ffd200 307px,#ffb500 325px,#ffa800 350px,#ffb100 400px)"></i><i style="background:linear-gradient(90deg,#ae0000 0px,#cd0000 55px,#f30000 88px,#ff0300 97px,#ff3c00 122px,#ff8100 143px,#ffc900 159px,#ffff00 168px,#acff53 179px,#4affb5 189px,#03fffc 195px,#00c1ff 200px,#0023ff 212px,#0001ff 215px,#0000d6 220px,#0000c5 224px,#0000c6 228px,#0000d8 232px,#0003ff 237px,#0063ff 245px,#00fbff 257px,#1effe1 260px,#75ff8a 269px,#bfff40 279px,#f9ff06 290px,#fff900 293px,#ffcf00 307px,#ffb200 325px,#ffa700 350px,#ffb000 400px)"></i><i style="background:linear-gradient(90deg,#ad0000 0px,#cb0000 55px,#f20000 89px,#ff0400 99px,#ff3d00 124px,#ff7f00 144px,#ffc800 160px,#fffe00 169px,#b4ff4b 179px,#5effa1 188px,#00ffff 196px,#001fff 213px,#0000fd 216px,#0000d7 221px,#0000ca 225px,#0000cf 229px,#0000ee 234px,#0001ff 236px,#0052ff 243px,#00f8ff 256px,#05fffa 257px,#62ff9d 266px,#abff54 275px,#ebff14 286px,#fffc00 291px,#ffd000 305px,#ffb300 322px,#ffa600 346px,#ffaf00 400px)"></i><i style="background:linear-gradient(90deg,#ab0000 0px,#ca0000 56px,#f10000 90px,#ff0200 100px,#ff3c00 125px,#ff7e00 145px,#ffc700 161px,#fffe00 170px,#bdff42 179px,#67ff98 188px,#00fcff 197px,#0027ff 213px,#0007ff 216px,#0000fc 217px,#0000da 222px,#0000d1 226px,#0000db 230px,#0000fe 235px,#0041ff 241px,#00f5ff 255px,#02fffd 256px,#61ff9e 265px,#abff54 274px,#ecff13 285px,#ffff00 289px,#ffd100 303px,#ffb300 320px,#ffa500 343px,#ffaf00 400px)"></i><i style="background:linear-gradient(90deg,#aa0000 0px,#c80000 56px,#ee0000 90px,#ff0300 102px,#ff3d00 127px,#ff8000 147px,#ffc600 162px,#fffc00 171px,#cdff32 178px,#7bff84 187px,#14ffeb 196px,#00f9ff 198px,#0031ff 213px,#0006ff 217px,#0000f4 219px,#0000de 223px,#0000da 227px,#0000e8 231px,#0000fe 234px,#0032ff 239px,#00feff 255px,#60ff9f 264px,#abff54 273px,#e8ff17 283px,#fffe00 288px,#ffd200 301px,#ffb200 318px,#ffa400 341px,#ffae00 400px)"></i><i style="background:linear-gradient(90deg,#a90000 0px,#c60000 56px,#eb0000 90px,#ff0200 103px,#ff3c00 128px,#ff7e00 148px,#ffc400 163px,#fcff03 173px,#abff54 183px,#4fffb0 192px,#05fffa 198px,#00eaff 200px,#003bff 213px,#0006ff 218px,#0000fd 219px,#0000e7 223px,#0000e2 227px,#0000f1 231px,#0000ff 233px,#0030ff 238px,#00fcff 254px,#72ff8d 265px,#baff45 274px,#f8ff07 285px,#fff900 288px,#ffce00 301px,#ffaf00 318px,#ffa200 341px,#ffad00 400px)"></i><i style="background:linear-gradient(90deg,#a80000 0px,#c50000 57px,#ea0000 91px,#ff0200 105px,#ff3d00 130px,#ff8100 150px,#ffc800 165px,#fdff02 174px,#acff53 184px,#4effb1 193px,#03fffc 199px,#00b0ff 205px,#0039ff 214px,#0008ff 219px,#0001ff 220px,#0000ed 224px,#0000ee 228px,#0002ff 232px,#002fff 237px,#00adff 247px,#00faff 253px,#13ffec 255px,#72ff8d 264px,#baff45 273px,#f5ff0a 283px,#fffb00 286px,#ffce00 299px,#ffb000 315px,#ffa100 337px,#ffa800 380px,#ffad00 400px)"></i><i style="background:linear-gradient(90deg,#a70000 0px,#c30000 57px,#e70000 91px,#ff0300 107px,#ff3e00 132px,#ff7e00 151px,#ffc000 165px,#ffff00 175px,#adff52 185px,#4dffb2 194px,#02fffd 200px,#0045ff 214px,#0013ff 219px,#0000ff 222px,#0000f5 226px,#0000ff 230px,#0025ff 235px,#0077ff 242px,#00f9ff 252px,#06fff9 253px,#69ff96 262px,#b4ff4b 271px,#f1ff0e 281px,#fffe00 284px,#ffcf00 297px,#ffaf00 313px,#ff9f00 335px,#ffa500 376px,#ffac00 400px)"></i><i style="background:linear-gradient(90deg,#a60000 0px,#c10000 57px,#e50000 92px,#ff0300 109px,#ff3f00 134px,#ff8000 153px,#ffc400 167px,#fffd00 176px,#c0ff3f 184px,#65ff9a 193px,#01fffe 201px,#0051ff 214px,#001eff 219px,#0007ff 223px,#0002ff 227px,#0011ff 231px,#003bff 236px,#009dff 244px,#00f8ff 251px,#05fffa 252px,#69ff96 261px,#b6ff49 270px,#f3ff0c 280px,#fffc00 283px,#ffcd00 296px,#ffad00 312px,#ff9e00 334px,#ffa400 374px,#ffab00 400px)"></i><i style="background:linear-gradient(90deg,#a40000 0px,#c00000 58px,#e40000 93px,#ff0300 111px,#ff3f00 136px,#ff8200 155px,#ffc700 169px,#fcff03 178px,#b0ff4f 187px,#4effb1 196px,#00ffff 202px,#005eff 214px,#002bff 219px,#0013ff 223px,#000eff 227px,#001dff 231px,#0047ff 236px,#00a9ff 244px,#00f7ff 250px,#05fffa 251px,#6aff95 260px,#b7ff48 269px,#f5ff0a 279px,#ffff00 281px,#ffd100 293px,#ffb000 308px,#ff9d00 328px,#ff9e00 361px,#ffaa00 400px)"></i><i style="background:linear-gradient(90deg,#a30000 0px,#bd0000 58px,#e10000 93px,#ff0100 112px,#ff3d00 137px,#ff7f00 156px,#ffc400 170px,#ffff00 179px,#b1ff4e 188px,#4fffb0 197px,#01fffe 203px,#006bff 214px,#0038ff 219px,#0020ff 223px,#001bff 227px,#002aff 231px,#0054ff 236px,#00c4ff 245px,#00f7ff 249px,#05fffa 250px,#6bff94 259px,#b9ff46 268px,#f8ff07 278px,#fff700 281px,#ffcb00 293px,#ffaa00 309px,#ff9a00 330px,#ff9f00 367px,#ffaa00 400px)"></i><i style="background:linear-gradient(90deg,#a20000 0px,#bc0000 59px,#df0000 94px,#ff0200 114px,#ff3e00 139px,#ff7c00 157px,#ffc100 171px,#fffc00 180px,#d0ff2f 186px,#74ff8b 195px,#01fffe 204px,#006eff 215px,#003eff 220px,#002bff 224px,#002bff 228px,#003fff 232px,#006dff 237px,#00f8ff 248px,#06fff9 249px,#6dff92 258px,#bcff43 267px,#fbff04 277px,#fff500 280px,#ffc900 292px,#ffa800 308px,#ff9800 329px,#ff9e00 366px,#ffa900 400px)"></i><i style="background:linear-gradient(90deg,#a10000 0px,#ba0000 59px,#dc0000 94px,#ff0200 116px,#ff3e00 141px,#ff7d00 159px,#ffbd00 172px,#fdff02 182px,#adff52 191px,#45ffba 200px,#03fffc 205px,#0073ff 216px,#0047ff 221px,#0038ff 225px,#003dff 229px,#0055ff 233px,#0094ff 239px,#00faff 247px,#14ffeb 249px,#79ff86 258px,#c6ff39 267px,#feff01 276px,#ffcc00 289px,#ffaa00 304px,#ff9700 324px,#ff9900 356px,#ffa800 400px)"></i><i style="background:linear-gradient(90deg,#a00000 0px,#b90000 60px,#db0000 95px,#ff0100 118px,#ff3e00 143px,#ff7e00 161px,#ffbf00 174px,#fffd00 183px,#c4ff3b 190px,#61ff9e 199px,#05fffa 206px,#00e9ff 208px,#0083ff 216px,#0057ff 221px,#0048ff 225px,#004dff 229px,#0065ff 233px,#00a4ff 239px,#00fcff 246px,#7cff83 257px,#c9ff36 266px,#fcff03 274px,#ffc800 288px,#ffa700 303px,#ff9500 323px,#ff9700 356px,#ffa700 400px)"></i><i style="background:linear-gradient(90deg,#9e0000 0px,#b70000 60px,#d90000 96px,#ff0300 121px,#ff3e00 145px,#ff7a00 162px,#ffbb00 175px,#fdff02 185px,#a9ff56 194px,#3effc1 203px,#09fff6 207px,#00faff 208px,#0094ff 216px,#0068ff 221px,#0059ff 225px,#005eff 229px,#0076ff 233px,#00b4ff 239px,#00ffff 245px,#75ff8a 255px,#beff41 263px,#faff05 272px,#fff900 274px,#ffcb00 285px,#ffa900 299px,#ff9400 318px,#ff9300 347px,#ffa600 400px)"></i><i style="background:linear-gradient(90deg,#9d0000 0px,#b50000 61px,#d70000 97px,#ff0300 123px,#ff3e00 147px,#ff7a00 164px,#ffb700 176px,#fffc00 186px,#ccff33 192px,#68ff97 201px,#00feff 209px,#00a7ff 216px,#007aff 221px,#006bff 225px,#0070ff 229px,#0088ff 233px,#00c6ff 239px,#00f7ff 243px,#05fffa 244px,#79ff86 254px,#c2ff3d 262px,#feff01 271px,#ffcb00 283px,#ffa700 297px,#ff9200 316px,#ff9100 345px,#ffa600 400px)"></i><i style="background:linear-gradient(90deg,#9c0000 0px,#b30000 61px,#d40000 97px,#ff0200 125px,#ff3d00 149px,#ff7a00 166px,#ffb800 178px,#feff01 188px,#a7ff58 197px,#2cffd3 207px,#05fffa 210px,#00eaff 212px,#00a6ff 218px,#0088ff 222px,#007dff 226px,#0087ff 230px,#00adff 235px,#00fcff 242px,#88ff77 254px,#cfff30 262px,#fdff02 269px,#ffca00 281px,#ffa500 295px,#ff9100 313px,#ff8e00 341px,#ffa500 400px)"></i><i style="background:linear-gradient(90deg,#9b0000 0px,#b20000 62px,#d20000 98px,#ff0200 127px,#ff3c00 151px,#ff7500 167px,#ffb300 179px,#fffa00 189px,#f2ff0d 191px,#96ff69 200px,#00fdff 212px,#00baff 218px,#009cff 222px,#0091ff 226px,#009bff 230px,#00c1ff 235px,#00f7ff 240px,#04fffb 241px,#83ff7c 252px,#ccff33 260px,#fdff02 267px,#ffc500 280px,#ffa200 294px,#ff8d00 313px,#ff8c00 342px,#ffa400 400px)"></i><i style="background:linear-gradient(90deg,#9a0000 0px,#b00000 63px,#d00000 99px,#ff0300 130px,#ff3e00 154px,#ff7900 170px,#ffb900 182px,#fffd00 191px,#c8ff37 197px,#5fffa0 206px,#07fff8 213px,#00faff 214px,#00c6ff 219px,#00adff 223px,#00a7ff 227px,#00b6ff 231px,#00dfff 236px,#00ffff 239px,#93ff6c 252px,#daff25 260px,#fcff03 265px,#ffc400 278px,#ff9f00 292px,#ff8b00 310px,#ff8900 338px,#ffa300 400px)"></i><i style="background:linear-gradient(90deg,#990000 0px,#ae0000 63px,#ce0000 100px,#ff0200 132px,#ff3d00 156px,#ff7800 172px,#ffb300 183px,#fff600 192px,#ffff00 193px,#a3ff5c 202px,#05fffa 215px,#00efff 217px,#00c8ff 222px,#00bdff 226px,#00c6ff 230px,#00ebff 235px,#00ffff 237px,#a4ff5b 252px,#e7ff18 260px,#fffc00 264px,#ffca00 274px,#ffa300 287px,#ff8b00 304px,#ff8500 329px,#ffa200 400px)"></i><i style="background:linear-gradient(90deg,#970000 0px,#ac0000 64px,#cc0000 101px,#ff0300 135px,#ff3c00 158px,#ff7200 173px,#ffad00 184px,#ffef00 193px,#fdff02 195px,#9fff60 204px,#10ffef 216px,#00fcff 218px,#00dfff 222px,#00d4ff 226px,#00ddff 230px,#02fffd 235px,#b5ff4a 252px,#fcff03 261px,#ffc400 273px,#ff9e00 286px,#ff8700 303px,#ff8200 328px,#ffa200 400px)"></i><i style="background:linear-gradient(90deg,#960000 0px,#ab0000 65px,#ca0000 102px,#fb0000 134px,#ff0a00 141px,#ff4300 163px,#ff7a00 177px,#ffba00 188px,#fffa00 196px,#f2ff0d 198px,#84ff7b 208px,#1effe1 217px,#04fffb 220px,#00f2ff 223px,#00ecff 227px,#01fffe 232px,#36ffc9 238px,#bdff42 251px,#fcff03 259px,#ffc200 271px,#ff9e00 283px,#ff8600 299px,#ff7f00 323px,#ffa100 400px)"></i><i style="background:linear-gradient(90deg,#950000 0px,#a90000 66px,#c80000 103px,#fa0000 136px,#ff0700 142px,#ff3e00 164px,#ff7400 178px,#ffb300 189px,#fffb00 198px,#f0ff0f 200px,#6bff94 212px,#2dffd2 218px,#0cfff3 223px,#06fff9 227px,#13ffec 231px,#39ffc6 236px,#ceff31 251px,#fdff02 257px,#ffc400 268px,#ff9d00 280px,#ff8400 296px,#ff7c00 319px,#ff9200 369px,#ffa000 400px)"></i><i style="background:linear-gradient(90deg,#940000 0px,#a70000 66px,#c60000 104px,#f80000 138px,#ff0500 144px,#ff3900 165px,#ff6d00 179px,#ffab00 190px,#fff200 199px,#f9ff06 201px,#4effb1 217px,#2affd5 222px,#1fffe0 226px,#27ffd8 230px,#48ffb7 235px,#e0ff1f 251px,#feff01 255px,#ffc600 265px,#ff9e00 276px,#ff8300 291px,#ff7800 312px,#ff8600 351px,#ffa000 400px)"></i><i style="background:linear-gradient(90deg,#930000 0px,#a60000 67px,#c40000 105px,#f50000 139px,#ff0300 146px,#ff3600 167px,#ff6b00 181px,#ffa300 191px,#ffe900 200px,#fffb00 202px,#e5ff1a 205px,#67ff98 217px,#44ffbb 222px,#39ffc6 226px,#41ffbe 230px,#61ff9e 235px,#f1ff0e 251px,#fffe00 253px,#ffc700 262px,#ff9e00 273px,#ff8200 287px,#ff7500 307px,#ff8000 342px,#ff9f00 400px)"></i><i style="background:linear-gradient(90deg,#920000 0px,#a50000 68px,#c20000 106px,#f30000 141px,#ff0300 149px,#ff3700 170px,#ff6800 183px,#ffa100 193px,#ffe800 202px,#fffb00 204px,#f0ff0f 206px,#78ff87 218px,#5affa5 223px,#54ffab 227px,#5fffa0 231px,#8aff75 237px,#fbff04 250px,#ffe700 254px,#ffb600 263px,#ff9200 274px,#ff7a00 289px,#ff7200 311px,#ff8700 356px,#ff9f00 400px)"></i><i style="background:linear-gradient(90deg,#910000 0px,#a30000 69px,#c10000 108px,#f30000 144px,#ff0300 152px,#ff3400 172px,#ff6600 185px,#ff9f00 195px,#ffe700 204px,#fbff04 207px,#92ff6d 218px,#74ff8b 223px,#6eff91 227px,#7eff81 232px,#b3ff4c 239px,#feff01 248px,#ffc000 258px,#ff9600 269px,#ff7a00 283px,#ff6e00 303px,#ff7a00 338px,#ff9e00 400px)"></i><i style="background:linear-gradient(90deg,#900000 0px,#a20000 70px,#bf0000 109px,#f30000 147px,#ff0400 156px,#ff3400 175px,#ff6700 188px,#ffa400 198px,#fdff02 209px,#acff53 218px,#8fff70 223px,#89ff76 227px,#98ff67 232px,#d2ff2d 240px,#fffc00 246px,#ffc200 255px,#ff9700 265px,#ff7a00 278px,#ff6b00 297px,#ff7300 329px,#ff9e00 400px)"></i><i style="background:linear-gradient(90deg,#8f0000 0px,#a00000 71px,#be0000 111px,#f20000 150px,#ff0400 159px,#ff3000 177px,#ff6400 190px,#ffa100 200px,#fffd00 211px,#b8ff47 220px,#a4ff5b 225px,#aaff55 230px,#caff35 236px,#ffff00 243px,#ffbd00 253px,#ff9200 263px,#ff7500 276px,#ff6700 294px,#ff6f00 325px,#ff9d00 400px)"></i><i style="background:linear-gradient(90deg,#8f0000 0px,#9f0000 72px,#bc0000 112px,#f00000 152px,#ff0300 162px,#ff3000 180px,#ff6100 192px,#ff9e00 202px,#feff01 214px,#ccff33 221px,#beff41 226px,#c7ff38 231px,#f0ff0f 238px,#feff01 240px,#ffb300 252px,#ff8a00 262px,#ff6f00 275px,#ff6300 294px,#ff6f00 328px,#ff9d00 400px)"></i><i style="background:linear-gradient(90deg,#8e0000 0px,#9e0000 73px,#ba0000 113px,#ef0000 155px,#ff0200 165px,#ff2c00 182px,#ff5d00 194px,#ff9a00 204px,#ffff00 217px,#deff21 223px,#d9ff26 228px,#e9ff16 233px,#fffe00 237px,#ffad00 250px,#ff8500 260px,#ff6a00 273px,#ff5f00 292px,#ff6c00 326px,#ff9d00 400px)"></i><i style="background:linear-gradient(90deg,#8d0000 0px,#9d0000 74px,#b90000 115px,#ee0000 158px,#ff0300 169px,#ff2c00 185px,#ff5e00 197px,#ff9d00 207px,#fff400 219px,#fffe00 221px,#f2ff0d 226px,#faff05 231px,#fff800 234px,#ff9e00 250px,#ff7700 261px,#ff6000 275px,#ff5b00 296px,#ff7600 341px,#ff9d00 400px)"></i><i style="background:linear-gradient(90deg,#8c0000 0px,#9b0000 75px,#b80000 117px,#ef0000 162px,#ff0400 173px,#ff2f00 189px,#ff6000 200px,#ffad00 212px,#ffe100 220px,#fff100 225px,#ffee00 230px,#ffd100 237px,#ff8f00 250px,#ff6c00 261px,#ff5900 276px,#ff5900 299px,#ff9d00 400px)"></i><i style="background:linear-gradient(90deg,#8c0000 0px,#9b0000 77px,#b70000 119px,#ee0000 165px,#ff0200 176px,#ff2b00 191px,#ff5b00 202px,#ffc900 220px,#ffd900 225px,#ffd600 230px,#ffb700 238px,#ff7d00 251px,#ff5f00 263px,#ff5200 280px,#ff5b00 309px,#ff9c00 399px,#ff9d00 400px)"></i><i style="background:linear-gradient(90deg,#8b0000 0px,#9a0000 78px,#b70000 121px,#ec0000 168px,#ff0300 180px,#ff2a00 194px,#ff6100 206px,#ffb200 220px,#ffc200 226px,#ffba00 232px,#ff6f00 251px,#ff5500 264px,#ff4d00 282px,#ff5f00 317px,#ff9b00 397px,#ff9d00 400px)"></i><i style="background:linear-gradient(90deg,#8a0000 0px,#990000 79px,#b60000 123px,#e90000 170px,#ff0100 183px,#ff2a00 197px,#ff6100 209px,#ff9f00 221px,#ffab00 227px,#ff9e00 234px,#ff6300 251px,#ff4d00 264px,#ff4900 284px,#ff6800 329px,#ff9c00 398px,#ff9d00 400px)"></i><i style="background:linear-gradient(90deg,#8a0000 0px,#980000 80px,#b50000 125px,#e80000 173px,#ff0200 187px,#ff2d00 201px,#ff8a00 221px,#ff9500 227px,#ff8a00 234px,#ff5700 251px,#ff4500 265px,#ff4600 287px,#ff9c00 397px,#ff9d00 400px)"></i><i style="background:linear-gradient(90deg,#890000 0px,#970000 81px,#b40000 127px,#e50000 175px,#ff0300 191px,#ff3000 205px,#ff7500 221px,#ff8000 228px,#ff7200 236px,#ff4a00 252px,#ff3d00 268px,#ff4900 295px,#ff9800 390px,#ff9e00 400px)"></i><i style="background:linear-gradient(90deg,#890000 0px,#970000 83px,#b60000 132px,#e30000 178px,#ff0100 194px,#ff2e00 208px,#ff6400 222px,#ff6c00 229px,#ff5500 241px,#ff3d00 255px,#ff3900 273px,#ff5600 312px,#ff9700 388px,#ff9e00 400px)"></i><i style="background:linear-gradient(90deg,#890000 0px,#960000 84px,#b60000 135px,#e10000 181px,#ff0200 198px,#ff3700 214px,#ff5500 224px,#ff5600 232px,#ff3600 253px,#ff3400 272px,#ff5900 317px,#ff9700 388px,#ff9f00 400px)"></i><i style="background:linear-gradient(90deg,#880000 0px,#950000 85px,#b70000 139px,#de0000 183px,#ff0300 202px,#ff4200 223px,#ff4600 231px,#ff2d00 254px,#ff3200 276px,#ff9400 383px,#ff9f00 400px)"></i><i style="background:linear-gradient(90deg,#880000 0px,#940000 86px,#b80000 144px,#dc0000 186px,#ff0300 206px,#ff3300 224px,#ff3500 233px,#ff2500 254px,#ff3000 278px,#ff8f00 376px,#ffa000 400px)"></i><i style="background:linear-gradient(90deg,#880000 0px,#940000 88px,#c00000 159px,#de0000 192px,#ff0200 210px,#ff2400 225px,#ff2400 237px,#ff1f00 257px,#ff3900 289px,#ff8b00 370px,#ffa100 400px)"></i><i style="background:linear-gradient(90deg,#870000 0px,#930000 89px,#c70000 174px,#e30000 200px,#ff0300 215px,#ff1800 228px,#ff1a00 259px,#ff4900 305px,#ff8f00 375px,#ffa200 400px)"></i><i style="background:linear-gradient(90deg,#870000 0px,#930000 90px,#cb0000 184px,#e90000 208px,#ff0200 221px,#ff0d00 235px,#ff1700 261px,#ff8700 365px,#ffa300 400px)"></i><i style="background:linear-gradient(90deg,#870000 0px,#920000 91px,#cd0000 192px,#ff0000 231px,#ff1400 262px,#ff8000 357px,#ffa400 400px)"></i><i style="background:linear-gradient(90deg,#870000 0px,#920000 93px,#cc0000 197px,#f90000 238px,#ff0500 251px,#ff7d00 353px,#ffa400 400px)"></i><i style="background:linear-gradient(90deg,#860000 0px,#910000 94px,#cb0000 202px,#ff0300 254px,#ff7300 343px,#ffa600 400px)"></i><i style="background:linear-gradient(90deg,#860000 0px,#910000 95px,#cb0000 206px,#ff0200 255px,#ff6f00 339px,#ffa700 400px)"></i><i style="background:linear-gradient(90deg,#860000 0px,#910000 96px,#ca0000 205px,#ff0300 255px,#ff7000 340px,#ffa800 400px)"></i><i style="background:linear-gradient(90deg,#860000 0px,#910000 97px,#c90000 204px,#ff0300 255px,#ff7300 342px,#ffaa00 400px)"></i><i style="background:linear-gradient(90deg,#860000 0px,#910000 97px,#c80000 203px,#fd0000 251px,#ff7d00 350px,#ffab00 400px)"></i><i style="background:linear-gradient(90deg,#860000 0px,#910000 98px,#c70000 202px,#fc0000 250px,#ff1e00 275px,#ff8000 352px,#ffad00 400px)"></i><i style="background:linear-gradient(90deg,#860000 0px,#910000 99px,#c70000 202px,#fc0000 250px,#ff3300 290px,#ff8c00 363px,#ffae00 400px)"></i><b class="fr"></b></div><div class="tk2" style="left:1333.6px;top:414.5px"></div><div class="yt" style="left:820.2px;top:-4.8px">90</div><div class="yt" style="left:820.2px;top:62.0333px">75</div><div class="yt" style="left:820.2px;top:128.867px">60</div><div class="yt" style="left:820.2px;top:195.7px">45</div><div class="yt" style="left:820.2px;top:262.533px">30</div><div class="yt" style="left:820.2px;top:329.367px">15</div><div class="yt" style="left:820.2px;top:396.2px">0</div><div class="xt" style="left:883.3px;top:432.3px">230</div><div class="xt" style="left:983.15px;top:432.3px">235</div><div class="xt" style="left:1083px;top:432.3px">240</div><div class="xt" style="left:1182.85px;top:432.3px">245</div><div class="xt" style="left:1282.7px;top:432.3px">250</div><div class="xl" style="left:884.5px;top:483.2px">Frequency (THz)</div><div class="yl" style="left:639.2px;top:191.2px"><span class="th">&#952;</span> (Degree)</div><div class="ann" style="left:955.8px;top:308.66px"><i>d</i><sub>2</sub><span class="eq">=</span>180 nm</div><div class="ann r2" style="left:955.8px;top:355.96px">R<sub>+Z</sub></div><div class="let" style="left:1265.7px;top:357.7px">(b)</div><div class="cb" style="left:1385.5px;top:19px;width:48.5px;height:400px;background:linear-gradient(180deg,#800000 0.00px,#800000 6.25px,#8f0000 6.25px,#8f0000 12.50px,#9f0000 12.50px,#9f0000 18.75px,#af0000 18.75px,#af0000 25.00px,#bf0000 25.00px,#bf0000 31.25px,#cf0000 31.25px,#cf0000 37.50px,#df0000 37.50px,#df0000 43.75px,#ef0000 43.75px,#ef0000 50.00px,#ff0000 50.00px,#ff0000 56.25px,#ff1000 56.25px,#ff1000 62.50px,#ff2000 62.50px,#ff2000 68.75px,#ff3000 68.75px,#ff3000 75.00px,#ff4000 75.00px,#ff4000 81.25px,#ff5000 81.25px,#ff5000 87.50px,#ff6000 87.50px,#ff6000 93.75px,#ff7000 93.75px,#ff7000 100.00px,#ff8000 100.00px,#ff8000 106.25px,#ff8f00 106.25px,#ff8f00 112.50px,#ff9f00 112.50px,#ff9f00 118.75px,#ffaf00 118.75px,#ffaf00 125.00px,#ffbf00 125.00px,#ffbf00 131.25px,#ffcf00 131.25px,#ffcf00 137.50px,#ffdf00 137.50px,#ffdf00 143.75px,#ffef00 143.75px,#ffef00 150.00px,#ffff00 150.00px,#ffff00 156.25px,#efff10 156.25px,#efff10 162.50px,#dfff20 162.50px,#dfff20 168.75px,#cfff30 168.75px,#cfff30 175.00px,#bfff40 175.00px,#bfff40 181.25px,#afff50 181.25px,#afff50 187.50px,#9fff60 187.50px,#9fff60 193.75px,#8fff70 193.75px,#8fff70 200.00px,#80ff80 200.00px,#80ff80 206.25px,#70ff8f 206.25px,#70ff8f 212.50px,#60ff9f 212.50px,#60ff9f 218.75px,#50ffaf 218.75px,#50ffaf 225.00px,#40ffbf 225.00px,#40ffbf 231.25px,#30ffcf 231.25px,#30ffcf 237.50px,#20ffdf 237.50px,#20ffdf 243.75px,#10ffef 243.75px,#10ffef 250.00px,#00ffff 250.00px,#00ffff 256.25px,#00efff 256.25px,#00efff 262.50px,#00dfff 262.50px,#00dfff 268.75px,#00cfff 268.75px,#00cfff 275.00px,#00bfff 275.00px,#00bfff 281.25px,#00afff 281.25px,#00afff 287.50px,#009fff 287.50px,#009fff 293.75px,#008fff 293.75px,#008fff 300.00px,#0080ff 300.00px,#0080ff 306.25px,#0070ff 306.25px,#0070ff 312.50px,#0060ff 312.50px,#0060ff 318.75px,#0050ff 318.75px,#0050ff 325.00px,#0040ff 325.00px,#0040ff 331.25px,#0030ff 331.25px,#0030ff 337.50px,#0020ff 337.50px,#0020ff 343.75px,#0010ff 343.75px,#0010ff 350.00px,#0000ff 350.00px,#0000ff 356.25px,#0000ef 356.25px,#0000ef 362.50px,#0000df 362.50px,#0000df 368.75px,#0000cf 368.75px,#0000cf 375.00px,#0000bf 375.00px,#0000bf 381.25px,#0000af 381.25px,#0000af 387.50px,#00009f 387.50px,#00009f 393.75px,#00008f 393.75px,#00008f 400.00px)"></div><div class="tk" style="left:1428px;top:327.57px"></div><div class="cl" style="left:1444.4px;top:306.32px">0.2</div><div class="tk" style="left:1428px;top:235.722px"></div><div class="cl" style="left:1444.4px;top:214.472px">0.4</div><div class="tk" style="left:1428px;top:143.873px"></div><div class="cl" style="left:1444.4px;top:122.623px">0.6</div><div class="tk" style="left:1428px;top:52.0247px"></div><div class="cl" style="left:1444.4px;top:30.7747px">0.8</div><div class="plot s2" style="left:117px;top:551px"><i style="background:linear-gradient(90deg,#ff1a00 0px,#ff2e00 46px,#ff4c00 73px,#ff7400 92px,#ffa500 106px,#ffe300 118px,#fffe00 122px,#b7ff48 131px,#5affa5 140px,#03fffc 147px,#0092ff 155px,#0008ff 165px,#0000fa 166px,#0000bc 172px,#00009e 177px,#000096 182px,#0000a5 188px,#0000ce 195px,#0003ff 201px,#0099ff 215px,#00fbff 224px,#25ffda 228px,#92ff6d 240px,#e9ff16 252px,#fffd00 256px,#ffb900 270px,#ff7b00 288px,#ff3e00 314px,#ff0b00 348px,#fc0000 361px,#e80000 394px,#e70000 400px)"></i><i style="background:linear-gradient(90deg,#ff1900 0px,#ff2d00 45px,#ff4b00 72px,#ff7400 91px,#ffa600 105px,#ffe500 117px,#ffff00 121px,#b6ff49 130px,#58ffa7 139px,#00ffff 146px,#0004ff 164px,#0000e0 167px,#0000b0 172px,#000096 177px,#000092 182px,#0000a5 188px,#0000cc 194px,#0000f9 199px,#0004ff 200px,#00b9ff 216px,#00fdff 222px,#7fff80 235px,#d6ff29 246px,#feff01 252px,#ffb400 267px,#ff7800 284px,#ff3f00 308px,#ff0a00 342px,#fb0000 354px,#e40000 388px,#e10000 400px)"></i><i style="background:linear-gradient(90deg,#ff1900 0px,#ff2c00 45px,#ff4b00 73px,#ff7400 92px,#ffa400 106px,#ffe300 118px,#fffd00 122px,#c1ff3e 130px,#66ff99 139px,#02fffd 147px,#0074ff 157px,#0005ff 165px,#0000eb 167px,#0000b8 172px,#000098 177px,#00008f 182px,#00009e 188px,#0000c3 194px,#0000fa 200px,#0010ff 202px,#00f8ff 222px,#04fffb 223px,#74ff8b 234px,#ceff31 245px,#fdff02 252px,#ffb300 267px,#ff7700 284px,#ff3e00 308px,#ff0a00 341px,#fb0000 353px,#e30000 387px,#e10000 400px)"></i><i style="background:linear-gradient(90deg,#ff1600 0px,#ff2800 44px,#ff4700 72px,#ff6f00 91px,#ffa300 106px,#ffe200 118px,#fffc00 122px,#d3ff2c 128px,#7bff84 137px,#0efff1 146px,#00ffff 147px,#0001ff 165px,#0000bd 171px,#00009a 176px,#00008e 180px,#000096 186px,#0000b4 192px,#0000ef 199px,#0004ff 201px,#01fffe 223px,#7aff85 235px,#d2ff2d 246px,#fffe00 253px,#ffb500 267px,#ff7800 284px,#ff3e00 308px,#ff0800 341px,#fc0000 351px,#e20000 385px,#df0000 400px)"></i><i style="background:linear-gradient(90deg,#ff1600 0px,#ff2800 44px,#ff4600 72px,#ff6e00 91px,#ffa300 106px,#ffe200 118px,#fffd00 122px,#c9ff36 129px,#6fff90 138px,#00feff 147px,#0011ff 164px,#0005ff 165px,#0000ec 167px,#0000bd 172px,#0000a2 177px,#00009f 182px,#0000b1 188px,#0000df 195px,#0000fa 198px,#000eff 200px,#00bfff 216px,#02fffd 222px,#78ff87 234px,#d7ff28 246px,#feff01 252px,#ffb400 267px,#ff7700 284px,#ff3d00 308px,#ff0800 341px,#fa0000 352px,#e10000 386px,#de0000 400px)"></i><i style="background:linear-gradient(90deg,#ff1b00 0px,#ff2d00 44px,#ff4a00 72px,#ff7100 91px,#ffa400 106px,#ffe200 118px,#fffc00 122px,#dcff23 127px,#88ff77 136px,#1dffe2 145px,#02fffd 147px,#0072ff 157px,#0003ff 165px,#0000b8 172px,#00009a 177px,#000095 182px,#0000a7 188px,#0000cf 194px,#0000fe 199px,#0070ff 209px,#00feff 221px,#7aff85 233px,#d4ff2b 244px,#fffc00 251px,#ffb900 264px,#ff7b00 281px,#ff4300 304px,#ff0d00 337px,#fc0000 351px,#e40000 385px,#e20000 400px)"></i><i style="background:linear-gradient(90deg,#ff1400 0px,#ff2500 44px,#ff4200 72px,#ff6b00 92px,#ff9f00 107px,#ffdd00 119px,#feff01 124px,#b2ff4d 133px,#50ffaf 142px,#02fffd 148px,#000fff 165px,#0002ff 166px,#0000c1 172px,#0000a1 177px,#00009a 182px,#0000a6 187px,#0000c9 193px,#0000ff 199px,#007cff 210px,#00feff 221px,#7bff84 233px,#d5ff2a 244px,#feff01 250px,#ffb500 264px,#ff7900 280px,#ff4100 302px,#ff0b00 334px,#fc0000 345px,#df0000 380px,#db0000 400px)"></i><i style="background:linear-gradient(90deg,#ff1800 0px,#ff2800 43px,#ff4600 72px,#ff6e00 92px,#ffa100 107px,#ffdf00 119px,#fdff02 124px,#b2ff4d 133px,#51ffae 142px,#04fffb 148px,#00d9ff 151px,#0013ff 165px,#0006ff 166px,#0000f9 167px,#0000c6 172px,#0000a6 177px,#00009f 182px,#0000ae 188px,#0000d4 194px,#0001ff 199px,#0086ff 211px,#00faff 221px,#11ffee 223px,#7eff81 234px,#d6ff29 245px,#feff01 251px,#ffb300 266px,#ff7600 283px,#ff3c00 307px,#ff0800 340px,#fa0000 351px,#e20000 385px,#df0000 400px)"></i><i style="background:linear-gradient(90deg,#ff1700 0px,#ff2800 43px,#ff4600 72px,#ff6f00 92px,#ffa200 107px,#ffe000 119px,#fdff02 124px,#b2ff4d 133px,#52ffad 142px,#05fffa 148px,#00e9ff 150px,#0005ff 166px,#0000ec 168px,#0000b9 173px,#000099 178px,#000092 183px,#0000a2 189px,#0000c7 195px,#0000fd 201px,#0063ff 210px,#00faff 223px,#11ffee 225px,#7eff81 236px,#d6ff29 247px,#fdff02 253px,#ffaf00 269px,#ff7000 287px,#ff3500 312px,#ff0300 345px,#e20000 385px,#df0000 400px)"></i><i style="background:linear-gradient(90deg,#ff1900 0px,#ff2900 42px,#ff4700 70px,#ff7000 90px,#ffa300 105px,#ffdf00 117px,#feff01 122px,#b4ff4b 131px,#55ffaa 140px,#0afff5 146px,#00fbff 147px,#000dff 164px,#0000ff 165px,#0000be 171px,#00009d 176px,#000093 181px,#0000a0 187px,#0000c4 193px,#0000f9 199px,#000fff 201px,#00f7ff 221px,#03fffc 222px,#73ff8c 233px,#cdff32 244px,#fcff03 251px,#ffaf00 267px,#ff7300 284px,#ff3900 308px,#ff0500 341px,#f80000 352px,#e00000 386px,#de0000 400px)"></i><i style="background:linear-gradient(90deg,#ff1700 0px,#ff2700 42px,#ff4500 71px,#ff6e00 91px,#ffa000 106px,#ffde00 118px,#ffff00 123px,#b4ff4b 132px,#53ffac 141px,#06fff9 147px,#00e9ff 149px,#0013ff 164px,#0006ff 165px,#0000f9 166px,#0000c4 171px,#0000a3 176px,#000099 181px,#0000a6 187px,#0000c8 193px,#0000fc 199px,#0025ff 203px,#00fcff 222px,#4fffb0 230px,#aeff51 241px,#fbff04 252px,#fff200 255px,#ffae00 269px,#ff6f00 287px,#ff3500 312px,#ff0200 345px,#e20000 383px,#de0000 400px)"></i><i style="background:linear-gradient(90deg,#ff1a00 0px,#ff2900 41px,#ff4700 70px,#ff6e00 90px,#ff9f00 105px,#ffda00 117px,#fcff03 123px,#b2ff4d 132px,#51ffae 141px,#03fffc 147px,#00caff 151px,#0000ff 165px,#0000bb 171px,#000096 176px,#00008b 180px,#000090 185px,#0000ab 191px,#0000e3 198px,#0002ff 201px,#00ffff 223px,#78ff87 235px,#d0ff2f 246px,#feff01 253px,#ffb000 269px,#ff7100 287px,#ff3700 312px,#ff0400 345px,#f20000 361px,#e10000 394px,#e10000 400px)"></i><i style="background:linear-gradient(90deg,#ff1700 0px,#ff2600 41px,#ff4400 70px,#ff6b00 90px,#ff9c00 105px,#ffd700 117px,#fffe00 123px,#b5ff4a 132px,#54ffab 141px,#07fff8 147px,#00f8ff 148px,#0006ff 165px,#0000f9 166px,#0000c3 171px,#0000a0 176px,#000096 180px,#00009c 185px,#0000b9 191px,#0000f2 198px,#0000fc 199px,#0027ff 203px,#00f7ff 221px,#03fffc 222px,#72ff8d 233px,#ccff33 244px,#fffd00 252px,#ffb500 266px,#ff7700 283px,#ff3b00 307px,#ff0700 339px,#fa0000 349px,#e00000 383px,#dd0000 400px)"></i><i style="background:linear-gradient(90deg,#ff1800 0px,#ff2600 41px,#ff4500 71px,#ff6c00 91px,#ff9c00 106px,#ffd700 118px,#fffd00 124px,#c0ff3f 132px,#63ff9c 141px,#00fcff 149px,#0008ff 166px,#0000fa 167px,#0000b8 173px,#000095 178px,#00008b 182px,#000091 187px,#0000af 193px,#0000eb 200px,#0001ff 202px,#00f8ff 223px,#05fffa 224px,#75ff8a 235px,#d0ff2f 246px,#ffff00 253px,#ffba00 266px,#ff7900 283px,#ff3e00 306px,#ff0a00 337px,#fb0000 348px,#e10000 382px,#dd0000 400px)"></i><i style="background:linear-gradient(90deg,#ff1600 0px,#ff2500 40px,#ff4300 69px,#ff6d00 90px,#ff9e00 105px,#ffd900 117px,#fdff02 123px,#b3ff4c 132px,#53ffac 141px,#06fff9 147px,#00f8ff 148px,#0009ff 165px,#0000fc 166px,#0000be 172px,#0000a0 177px,#00009a 182px,#0000a7 187px,#0000cc 193px,#0000fb 198px,#0011ff 200px,#01fffe 220px,#75ff8a 231px,#d2ff2d 242px,#fffc00 249px,#ffb600 262px,#ff7900 278px,#ff3f00 300px,#ff0a00 331px,#fb0000 342px,#de0000 377px,#d80000 400px)"></i><i style="background:linear-gradient(90deg,#ff1a00 0px,#ff2800 39px,#ff4700 68px,#ff7000 89px,#ffa100 104px,#ffdd00 116px,#fffd00 121px,#cbff34 128px,#74ff8b 137px,#06fff9 146px,#00f8ff 147px,#000cff 164px,#0000ff 165px,#0000c1 171px,#0000a2 176px,#00009a 181px,#0000a7 186px,#0000cd 192px,#0000fc 197px,#0029ff 201px,#00f9ff 218px,#11ffee 220px,#84ff7b 231px,#deff21 242px,#fffe00 247px,#ffb700 260px,#ff7a00 276px,#ff4100 298px,#ff0c00 329px,#fc0000 341px,#df0000 376px,#da0000 400px)"></i><i style="background:linear-gradient(90deg,#ff1700 0px,#ff2500 39px,#ff4300 69px,#ff6c00 90px,#ff9c00 105px,#ffd600 117px,#fffc00 123px,#d3ff2c 129px,#7dff82 138px,#10ffef 147px,#03fffc 148px,#0091ff 156px,#0007ff 166px,#0000fa 167px,#0000bd 173px,#0000a0 178px,#00009a 183px,#0000a7 188px,#0000cd 194px,#0000fa 199px,#0010ff 201px,#00fcff 221px,#83ff7c 234px,#dcff23 245px,#fdff02 250px,#ffb100 265px,#ff7200 282px,#ff3900 305px,#ff0500 336px,#f80000 346px,#de0000 380px,#da0000 400px)"></i><i style="background:linear-gradient(90deg,#ff1a00 0px,#ff2700 39px,#ff4500 69px,#ff6d00 90px,#ff9d00 105px,#ffd700 117px,#fffe00 123px,#b6ff49 132px,#56ffa9 141px,#00fcff 148px,#001bff 164px,#0003ff 166px,#0000c6 172px,#0000aa 177px,#0000a6 182px,#0000b5 187px,#0000dd 193px,#0003ff 197px,#0080ff 208px,#00f8ff 218px,#05fffa 219px,#77ff88 230px,#d3ff2c 241px,#fcff03 247px,#ffae00 263px,#ff7100 280px,#ff3900 303px,#ff0600 335px,#f90000 345px,#df0000 380px,#db0000 400px)"></i><i style="background:linear-gradient(90deg,#ff1000 0px,#ff1d00 38px,#ff3c00 68px,#ff6400 89px,#ff9800 105px,#ffd300 117px,#fdff02 124px,#b1ff4e 133px,#4fffb0 142px,#02fffd 148px,#0016ff 165px,#0000fd 167px,#0000cc 172px,#0000ae 177px,#0000a7 182px,#0000b4 187px,#0000d8 193px,#0000fc 197px,#0026ff 201px,#00fbff 219px,#34ffcb 224px,#9fff60 235px,#f3ff0c 246px,#fffe00 248px,#ffb600 261px,#ff7600 277px,#ff3d00 298px,#ff0700 328px,#fb0000 336px,#da0000 371px,#d20000 400px)"></i><i style="background:linear-gradient(90deg,#ff1500 0px,#ff2200 38px,#ff4000 68px,#ff6700 89px,#ff9a00 105px,#ffd400 117px,#fcff03 124px,#b1ff4e 133px,#4fffb0 142px,#02fffd 148px,#0012ff 165px,#0006ff 166px,#0000ed 168px,#0000be 173px,#0000a3 178px,#0000a0 183px,#0000b1 188px,#0000dc 194px,#0000f9 197px,#0004ff 198px,#0095ff 210px,#00f9ff 218px,#05fffa 219px,#7cff83 230px,#daff25 241px,#fdff02 246px,#ffaf00 261px,#ff7200 277px,#ff3900 299px,#ff0500 330px,#f60000 341px,#da0000 376px,#d50000 400px)"></i><i style="background:linear-gradient(90deg,#ff1700 0px,#ff2300 38px,#ff4100 68px,#ff6900 89px,#ff9a00 105px,#ffd300 117px,#feff01 124px,#b5ff4a 133px,#57ffa8 142px,#00fdff 149px,#0011ff 166px,#0005ff 167px,#0000ed 169px,#0000bd 174px,#0000a2 179px,#00009d 184px,#0000ac 189px,#0000d6 195px,#0000fc 199px,#0035ff 204px,#00fbff 220px,#1fffe0 223px,#8fff70 234px,#e8ff17 245px,#fcff03 248px,#ffaf00 263px,#ff7200 279px,#ff3900 301px,#ff0600 331px,#fa0000 340px,#dc0000 375px,#d70000 400px)"></i><i style="background:linear-gradient(90deg,#ff1200 0px,#ff1e00 37px,#ff3c00 67px,#ff6400 88px,#ff9700 104px,#ffd000 116px,#fffd00 123px,#c0ff3f 131px,#62ff9d 140px,#09fff6 147px,#00fbff 148px,#0009ff 165px,#0000fb 166px,#0000bc 172px,#00009b 177px,#000093 182px,#00009f 187px,#0000c6 193px,#0001ff 199px,#00aeff 213px,#00f8ff 219px,#05fffa 220px,#7bff84 231px,#d9ff26 242px,#fcff03 247px,#ffae00 262px,#ff7000 278px,#ff3700 300px,#ff0300 330px,#da0000 371px,#d20000 400px)"></i><i style="background:linear-gradient(90deg,#ff1200 0px,#ff1e00 37px,#ff3c00 67px,#ff6500 89px,#ff9800 105px,#ffd200 117px,#feff01 124px,#b2ff4d 133px,#50ffaf 142px,#02fffd 148px,#0010ff 165px,#0003ff 166px,#0000ba 173px,#00009f 178px,#00009b 183px,#0000ab 188px,#0000d4 194px,#0000f9 198px,#0010ff 200px,#01fffe 220px,#76ff89 231px,#d3ff2c 242px,#fdff02 248px,#ffaf00 263px,#ff6f00 280px,#ff3600 302px,#ff0200 332px,#db0000 372px,#d30000 400px)"></i><i style="background:linear-gradient(90deg,#ff1500 0px,#ff2000 37px,#ff3e00 67px,#ff6800 89px,#ff9a00 105px,#ffd400 117px,#fdff02 124px,#b2ff4d 133px,#51ffae 142px,#04fffb 148px,#00e8ff 150px,#0016ff 165px,#0000fd 167px,#0000ca 172px,#0000aa 177px,#0000a1 182px,#0000ad 187px,#0000d3 193px,#0003ff 198px,#0085ff 209px,#01fffe 219px,#77ff88 230px,#d5ff2a 241px,#ffff00 247px,#ffb600 260px,#ff7700 276px,#ff3e00 297px,#ff0900 326px,#fb0000 336px,#dc0000 371px,#d40000 400px)"></i><i style="background:linear-gradient(90deg,#ff1300 0px,#ff1e00 37px,#ff3c00 67px,#ff6600 89px,#ff9900 105px,#ffd300 117px,#fdff02 124px,#b1ff4e 133px,#4fffb0 142px,#01fffe 148px,#0010ff 165px,#0003ff 166px,#0000bb 173px,#0000a0 178px,#00009c 183px,#0000ad 188px,#0000d7 194px,#0000fe 198px,#0068ff 207px,#00fdff 219px,#87ff78 232px,#e2ff1d 243px,#feff01 247px,#ffb200 261px,#ff7300 277px,#ff3900 299px,#ff0400 329px,#f40000 341px,#d70000 376px,#d20000 400px)"></i><i style="background:linear-gradient(90deg,#ff1600 0px,#ff2200 36px,#ff4000 66px,#ff6b00 88px,#ff9e00 104px,#ffd800 116px,#ffff00 122px,#b7ff48 131px,#59ffa6 140px,#02fffd 147px,#000aff 165px,#0000fd 166px,#0000c1 172px,#0000a5 177px,#00009e 182px,#0000ad 187px,#0000d7 193px,#0000fe 197px,#006aff 206px,#02fffd 218px,#70ff8f 228px,#caff35 238px,#fdff02 245px,#ffae00 260px,#ff7000 276px,#ff3700 298px,#ff0400 328px,#ee0000 345px,#d60000 380px,#d30000 400px)"></i><i style="background:linear-gradient(90deg,#ff1300 0px,#ff1e00 36px,#ff3c00 67px,#ff6600 89px,#ff9800 105px,#ffd300 117px,#fdff02 124px,#b1ff4e 133px,#4effb1 142px,#00ffff 148px,#000dff 165px,#0000ff 166px,#0000c1 172px,#0000a3 177px,#00009e 182px,#0000ad 187px,#0000d8 193px,#0001ff 197px,#0088ff 208px,#00faff 217px,#13ffec 219px,#7fff80 229px,#d6ff29 239px,#fffd00 245px,#ffb400 258px,#ff7400 274px,#ff3b00 295px,#ff0700 324px,#fa0000 333px,#da0000 369px,#d20000 400px)"></i><i style="background:linear-gradient(90deg,#ff1100 0px,#ff1b00 36px,#ff3900 67px,#ff6100 89px,#ff9200 105px,#ffca00 117px,#fffd00 125px,#c8ff37 132px,#6bff94 141px,#06fff9 149px,#00f7ff 150px,#0014ff 166px,#0000fb 168px,#0000c7 173px,#0000a8 178px,#0000a0 183px,#0000ad 188px,#0000d3 194px,#0002ff 199px,#0083ff 210px,#00fdff 220px,#87ff78 233px,#e1ff1e 244px,#fdff02 248px,#ffae00 263px,#ff7000 279px,#ff3500 301px,#ff0300 330px,#da0000 371px,#d20000 400px)"></i><i style="background:linear-gradient(90deg,#ff1400 0px,#ff1e00 35px,#ff3c00 66px,#ff6500 88px,#ff9700 104px,#ffd000 116px,#fffd00 123px,#c9ff36 130px,#6eff91 139px,#0afff5 147px,#00fcff 148px,#001bff 164px,#0003ff 166px,#0000c6 172px,#0000ab 177px,#0000a7 182px,#0000b8 187px,#0000e2 193px,#0000ff 196px,#0075ff 206px,#00fdff 217px,#7fff80 229px,#ddff22 240px,#ffff00 245px,#ffb600 258px,#ff7600 274px,#ff3c00 295px,#ff0800 324px,#fb0000 333px,#db0000 368px,#d20000 400px)"></i><i style="background:linear-gradient(90deg,#ff1600 0px,#ff1f00 35px,#ff3d00 66px,#ff6600 88px,#ff9800 104px,#ffd000 116px,#fffc00 123px,#d3ff2c 129px,#7cff83 138px,#0efff1 147px,#01fffe 148px,#0011ff 165px,#0004ff 166px,#0000e1 169px,#0000b5 174px,#00009f 179px,#0000a0 184px,#0000b5 189px,#0000e5 195px,#0000f9 197px,#0005ff 198px,#0098ff 210px,#00fcff 218px,#89ff76 231px,#e5ff1a 242px,#fffe00 246px,#ffb500 259px,#ff7500 275px,#ff3c00 296px,#ff0800 325px,#fb0000 334px,#dc0000 369px,#d30000 400px)"></i><i style="background:linear-gradient(90deg,#ff1300 0px,#ff1d00 35px,#ff3a00 66px,#ff6200 88px,#ff9200 104px,#ffc900 116px,#fcff03 125px,#b0ff4f 134px,#4dffb2 143px,#00feff 149px,#001cff 165px,#0003ff 167px,#0000bd 174px,#0000a5 179px,#0000a3 184px,#0000b6 189px,#0000e3 195px,#0001ff 198px,#0084ff 209px,#00ffff 219px,#77ff88 230px,#d6ff29 241px,#fffe00 247px,#ffb500 260px,#ff7500 276px,#ff3b00 297px,#ff0700 326px,#fa0000 335px,#da0000 370px,#d20000 400px)"></i><i style="background:linear-gradient(90deg,#ff1500 0px,#ff1f00 35px,#ff3d00 66px,#ff6600 88px,#ff9700 104px,#ffce00 116px,#feff01 124px,#b4ff4b 133px,#56ffa9 142px,#00fcff 149px,#0013ff 166px,#0000fa 168px,#0000c9 173px,#0000ab 178px,#0000a4 183px,#0000b2 188px,#0000d4 193px,#0000f9 197px,#0005ff 198px,#008cff 209px,#00ffff 218px,#71ff8e 228px,#ccff33 238px,#ffff00 245px,#ffb900 257px,#ff7a00 272px,#ff4000 292px,#ff0b00 320px,#fb0000 331px,#da0000 367px,#d10000 400px)"></i><i style="background:linear-gradient(90deg,#ff1600 0px,#ff2000 34px,#ff3e00 64px,#ff6700 86px,#ff9800 102px,#ffcf00 114px,#fdff02 122px,#b4ff4b 131px,#56ffa9 140px,#00fdff 147px,#0011ff 164px,#0004ff 165px,#0000e1 168px,#0000b4 173px,#00009b 178px,#00009a 183px,#0000ae 188px,#0000df 194px,#0000fe 197px,#007eff 207px,#00ffff 217px,#72ff8d 227px,#cdff32 237px,#fffd00 244px,#ffb800 256px,#ff7900 271px,#ff4000 291px,#ff0c00 319px,#fc0000 330px,#db0000 366px,#d10000 400px)"></i><i style="background:linear-gradient(90deg,#ff0d00 0px,#ff1600 35px,#ff3300 66px,#ff5b00 88px,#ff8c00 104px,#ffc400 116px,#fffe00 125px,#bcff43 133px,#59ffa6 142px,#00fcff 149px,#0026ff 164px,#0001ff 167px,#0000ce 172px,#0000b2 177px,#0000ae 182px,#0000be 187px,#0000ea 193px,#0000fd 195px,#0034ff 200px,#00fbff 216px,#37ffc8 221px,#9dff62 231px,#f5ff0a 242px,#fffb00 244px,#ffb100 257px,#ff7000 273px,#ff3600 294px,#ff0300 322px,#d60000 364px,#cb0000 399px,#cb0000 400px)"></i><i style="background:linear-gradient(90deg,#ff1200 0px,#ff1b00 34px,#ff3800 65px,#ff6000 87px,#ff9100 103px,#ffc700 115px,#fdff02 124px,#b1ff4e 133px,#4effb1 142px,#00feff 148px,#000bff 165px,#0000fe 166px,#0000c7 171px,#0000a4 176px,#00009a 180px,#0000a1 185px,#0000bc 190px,#0000f2 196px,#0000fc 197px,#0038ff 202px,#00f7ff 217px,#04fffb 218px,#73ff8c 228px,#cdff32 238px,#fffe00 245px,#ffb400 258px,#ff7300 274px,#ff3900 295px,#ff0600 323px,#f90000 332px,#d80000 368px,#d00000 400px)"></i><i style="background:linear-gradient(90deg,#ff0f00 0px,#ff1700 34px,#ff3400 64px,#ff5c00 86px,#ff8c00 102px,#ffc200 114px,#fcff03 124px,#aeff51 133px,#4affb5 142px,#08fff7 147px,#00f9ff 148px,#0012ff 164px,#0005ff 165px,#0000eb 167px,#0000b9 172px,#00009b 177px,#000096 182px,#0000a5 187px,#0000cd 193px,#0000fe 198px,#0076ff 208px,#00feff 219px,#7fff80 231px,#dcff23 242px,#ffff00 247px,#ffb500 260px,#ff7400 276px,#ff3800 297px,#ff0400 325px,#f60000 335px,#d60000 370px,#ce0000 400px)"></i><i style="background:linear-gradient(90deg,#ff0f00 0px,#ff1700 34px,#ff3400 65px,#ff5d00 88px,#ff8d00 104px,#ffc300 116px,#fffb00 125px,#ecff13 128px,#9aff65 137px,#31ffce 146px,#09fff6 149px,#00faff 150px,#0018ff 166px,#0000ff 168px,#0000cc 173px,#0000ad 178px,#0000a6 183px,#0000b5 188px,#0000d7 193px,#0000fd 197px,#0043ff 203px,#00f6ff 217px,#04fffb 218px,#74ff8b 228px,#cfff30 238px,#fcff03 244px,#ffab00 259px,#ff6b00 275px,#ff3200 296px,#ff0100 324px,#da0000 361px,#cd0000 396px,#cd0000 400px)"></i><i style="background:linear-gradient(90deg,#ff0f00 0px,#ff1700 34px,#ff3400 64px,#ff5e00 87px,#ff8e00 103px,#ffc500 115px,#fffe00 124px,#bdff42 132px,#5dffa2 141px,#02fffd 148px,#0012ff 165px,#0005ff 166px,#0000ee 168px,#0000c1 173px,#0000aa 178px,#0000ab 183px,#0000bf 188px,#0000ee 194px,#0003ff 196px,#007aff 206px,#00f7ff 216px,#05fffa 217px,#7dff82 228px,#d5ff2a 238px,#fffe00 244px,#ffb300 257px,#ff7200 273px,#ff3700 294px,#ff0400 322px,#ee0000 338px,#d20000 374px,#cd0000 400px)"></i><i style="background:linear-gradient(90deg,#ff1000 0px,#ff1800 34px,#ff3500 65px,#ff5d00 87px,#ff8c00 103px,#ffc200 115px,#fdff02 125px,#b0ff4f 134px,#4cffb3 143px,#00fcff 149px,#001bff 165px,#0003ff 167px,#0000c9 173px,#0000af 178px,#0000ae 183px,#0000c4 188px,#0000f6 194px,#0002ff 195px,#0071ff 204px,#00f6ff 214px,#04fffb 215px,#78ff87 225px,#d5ff2a 235px,#fbff04 240px,#ffdb00 246px,#ff9700 259px,#ff5a00 276px,#ff2300 299px,#fe0000 321px,#d90000 357px,#cb0000 393px,#cb0000 400px)"></i><i style="background:linear-gradient(90deg,#ff0f00 0px,#ff1600 33px,#ff3200 64px,#ff5a00 87px,#ff8a00 103px,#ffbf00 115px,#ffff00 125px,#b1ff4e 134px,#4dffb2 143px,#00fcff 149px,#0016ff 165px,#0000fd 167px,#0000ca 172px,#0000ac 177px,#0000a6 182px,#0000b7 187px,#0000e2 193px,#0001ff 196px,#007aff 206px,#00faff 216px,#13ffec 218px,#81ff7e 228px,#d9ff26 238px,#feff01 243px,#ffaf00 257px,#ff6e00 273px,#ff3400 294px,#ff0100 322px,#d80000 361px,#cc0000 397px,#cc0000 400px)"></i><i style="background:linear-gradient(90deg,#ff0d00 0px,#ff1300 33px,#ff2f00 64px,#ff5600 87px,#ff8800 104px,#ffbe00 116px,#fffe00 126px,#bbff44 134px,#58ffa7 143px,#09fff6 149px,#00faff 150px,#0020ff 165px,#0007ff 167px,#0000fa 168px,#0000c9 173px,#0000ad 178px,#0000a9 182px,#0000ba 187px,#0000e0 192px,#0000ff 195px,#0074ff 204px,#00feff 214px,#78ff87 224px,#d0ff2f 233px,#fffe00 239px,#ffb900 250px,#ff7900 264px,#ff4100 282px,#ff0d00 307px,#fc0000 318px,#d70000 354px,#c70000 391px,#c70000 400px)"></i><i style="background:linear-gradient(90deg,#ff1100 0px,#ff1900 33px,#ff3600 63px,#ff6000 86px,#ff9000 102px,#ffcc00 115px,#fffe00 123px,#b6ff49 132px,#57ffa8 141px,#00feff 148px,#0021ff 164px,#0000fc 167px,#0000cc 172px,#0000af 177px,#0000a9 182px,#0000bc 187px,#0000e4 192px,#0000f9 194px,#0006ff 195px,#007eff 204px,#00fcff 213px,#83ff7c 224px,#daff25 233px,#fffd00 238px,#ffb700 249px,#ff7800 263px,#ff4000 281px,#ff0e00 306px,#fc0000 317px,#d70000 354px,#c80000 392px,#c80000 400px)"></i><i style="background:linear-gradient(90deg,#ff0e00 0px,#ff1600 33px,#ff3200 63px,#ff5c00 86px,#ff8c00 102px,#ffc800 115px,#fcff03 124px,#afff50 133px,#4dffb2 142px,#00feff 148px,#0021ff 164px,#0000fd 167px,#0000cf 172px,#0000b6 177px,#0000b4 182px,#0000c8 187px,#0002ff 194px,#006cff 203px,#00faff 214px,#14ffeb 216px,#83ff7c 226px,#ddff22 236px,#fffc00 241px,#ffb500 253px,#ff7400 268px,#ff3900 288px,#ff0600 315px,#fa0000 323px,#d60000 359px,#c90000 396px,#c90000 400px)"></i><i style="background:linear-gradient(90deg,#ff0e00 0px,#ff1400 33px,#ff2f00 64px,#ff5800 87px,#ff8600 103px,#ffbb00 115px,#fcff03 126px,#acff53 135px,#45ffba 144px,#02fffd 149px,#001bff 165px,#0002ff 167px,#0000c7 173px,#0000b2 177px,#0000ae 181px,#0000bd 186px,#0000e1 191px,#0000fe 194px,#0061ff 202px,#01fffe 214px,#77ff88 224px,#d5ff2a 234px,#fcff03 239px,#ffd400 246px,#ff9200 259px,#ff5500 276px,#ff1f00 299px,#fd0000 319px,#d80000 355px,#c90000 393px,#c90000 400px)"></i><i style="background:linear-gradient(90deg,#ff0b00 0px,#ff1100 33px,#ff2d00 63px,#ff5600 86px,#ff8500 102px,#ffbb00 114px,#fdff02 125px,#aeff51 134px,#47ffb8 143px,#04fffb 148px,#00d8ff 151px,#001cff 164px,#0003ff 166px,#0000c5 172px,#0000a9 177px,#0000a6 181px,#0000b7 186px,#0000dd 191px,#0000fc 194px,#002eff 198px,#00fcff 213px,#8cff73 225px,#e0ff1f 234px,#fffe00 238px,#ffb800 249px,#ff7800 263px,#ff3f00 281px,#ff0b00 306px,#fc0000 315px,#d60000 351px,#c50000 389px,#c40000 400px)"></i><i style="background:linear-gradient(90deg,#ff0d00 0px,#ff1400 33px,#ff2f00 64px,#ff5800 87px,#ff8900 104px,#ffbf00 116px,#ffff00 126px,#b1ff4e 135px,#4cffb3 144px,#00fcff 150px,#0028ff 165px,#0003ff 168px,#0000cc 174px,#0000b6 179px,#0000b9 184px,#0000d2 189px,#0000fd 194px,#0043ff 200px,#00fbff 214px,#2effd1 218px,#9bff64 228px,#f2ff0d 238px,#fffe00 240px,#ffb400 252px,#ff7300 267px,#ff3a00 286px,#ff0700 312px,#fb0000 320px,#d70000 356px,#c90000 394px,#c80000 400px)"></i><i style="background:linear-gradient(90deg,#ff0d00 0px,#ff1300 32px,#ff2f00 63px,#ff5700 86px,#ff8600 102px,#ffbb00 114px,#fcff03 125px,#adff52 134px,#45ffba 143px,#02fffd 148px,#001aff 164px,#0001ff 166px,#0000c6 172px,#0000b1 176px,#0000ad 180px,#0000bd 185px,#0000e3 190px,#0003ff 193px,#0068ff 201px,#00ffff 212px,#79ff86 222px,#d1ff2e 231px,#fffe00 237px,#ffb800 248px,#ff7900 262px,#ff4000 280px,#ff0d00 305px,#fc0000 316px,#d70000 353px,#c70000 392px,#c70000 400px)"></i><i style="background:linear-gradient(90deg,#ff0d00 0px,#ff1300 32px,#ff2f00 62px,#ff5800 85px,#ff8a00 102px,#ffc500 115px,#fffe00 124px,#b3ff4c 133px,#51ffae 142px,#03fffc 148px,#00caff 152px,#0022ff 164px,#0000fd 167px,#0000cd 172px,#0000b2 177px,#0000af 182px,#0000c3 187px,#0000ec 192px,#0002ff 194px,#0066ff 202px,#00fcff 213px,#8bff74 225px,#e7ff18 235px,#feff01 238px,#ffb400 250px,#ff7500 264px,#ff3b00 283px,#ff0900 308px,#fa0000 317px,#d60000 353px,#c60000 392px,#c60000 400px)"></i><i style="background:linear-gradient(90deg,#ff0e00 0px,#ff1300 32px,#ff2f00 63px,#ff5600 86px,#ff8600 103px,#ffbf00 116px,#fffe00 126px,#beff41 134px,#5dffa2 143px,#03fffc 150px,#00bcff 155px,#0023ff 166px,#0000ff 169px,#0000d2 174px,#0000b9 179px,#0000b9 184px,#0000d0 189px,#0000fb 194px,#0011ff 196px,#0082ff 205px,#00fbff 214px,#2fffd0 218px,#9eff61 228px,#f5ff0a 238px,#fffb00 240px,#ffb100 252px,#ff7300 266px,#ff3a00 285px,#ff0800 310px,#fb0000 319px,#d70000 355px,#c80000 394px,#c80000 400px)"></i><i style="background:linear-gradient(90deg,#ff0b00 0px,#ff1000 32px,#ff2b00 63px,#ff5200 86px,#ff8200 103px,#ffb700 115px,#fff600 125px,#f9ff06 127px,#a7ff58 136px,#3effc1 145px,#08fff7 149px,#00f9ff 150px,#0033ff 164px,#0004ff 168px,#0000e0 172px,#0000c8 177px,#0000c9 182px,#0000e0 187px,#0001ff 191px,#004dff 198px,#03fffc 212px,#78ff87 222px,#d6ff29 232px,#fdff02 237px,#ffb100 250px,#ff7000 265px,#ff3800 284px,#ff0600 310px,#f90000 318px,#d50000 355px,#c70000 394px,#c70000 400px)"></i><i style="background:linear-gradient(90deg,#ff0900 0px,#ff0f00 32px,#ff2b00 62px,#ff5300 85px,#ff8500 102px,#ffbf00 115px,#fffe00 125px,#b3ff4c 134px,#50ffaf 143px,#02fffd 149px,#0024ff 165px,#0001ff 168px,#0000cb 174px,#0000b7 179px,#0000ba 184px,#0000d3 189px,#0000fe 194px,#0043ff 200px,#00fbff 214px,#21ffde 217px,#91ff6e 227px,#ebff14 237px,#fffc00 240px,#ffb200 252px,#ff7300 266px,#ff3800 285px,#ff0500 310px,#f70000 319px,#d30000 355px,#c30000 394px,#c30000 400px)"></i><i style="background:linear-gradient(90deg,#ff0d00 0px,#ff1300 31px,#ff2f00 61px,#ff5800 84px,#ff8b00 101px,#ffc600 114px,#ffff00 123px,#b4ff4b 132px,#55ffaa 141px,#09fff6 147px,#00fbff 148px,#0020ff 164px,#0000fc 167px,#0000ce 172px,#0000b4 177px,#0000b0 181px,#0000bc 185px,#0000e0 190px,#0001ff 193px,#006aff 201px,#00fbff 211px,#25ffda 214px,#92ff6d 223px,#e9ff16 232px,#fffd00 235px,#ffb400 246px,#ff7600 259px,#ff3e00 276px,#ff0b00 300px,#fc0000 309px,#d60000 345px,#c20000 386px,#c10000 400px)"></i><i style="background:linear-gradient(90deg,#ff0c00 0px,#ff1200 31px,#ff2d00 61px,#ff5600 84px,#ff8800 101px,#ffc300 114px,#fffd00 123px,#c7ff38 130px,#6aff95 139px,#04fffb 147px,#00d9ff 150px,#001fff 163px,#0006ff 165px,#0000f9 166px,#0000c7 171px,#0000aa 176px,#0000a5 180px,#0000b1 184px,#0000d6 189px,#0000f7 192px,#0004ff 193px,#0084ff 202px,#00fbff 210px,#26ffd9 213px,#95ff6a 222px,#edff12 231px,#feff01 233px,#ffb500 244px,#ff7600 257px,#ff3e00 274px,#ff0b00 298px,#fc0000 307px,#d60000 343px,#c30000 384px,#c10000 400px)"></i><i style="background:linear-gradient(90deg,#ff0b00 0px,#ff1100 31px,#ff2c00 61px,#ff5400 84px,#ff8600 101px,#ffbf00 114px,#fffe00 124px,#b3ff4c 133px,#51ffae 142px,#04fffb 148px,#00daff 151px,#0026ff 164px,#0003ff 167px,#0000cc 173px,#0000b7 178px,#0000b7 182px,#0000ce 187px,#0000fa 192px,#0012ff 194px,#008aff 203px,#00fbff 211px,#24ffdb 214px,#90ff6f 223px,#e7ff18 232px,#ffff00 235px,#ffb600 246px,#ff7700 259px,#ff3f00 276px,#ff0c00 300px,#fc0000 309px,#d70000 344px,#c30000 385px,#c20000 400px)"></i><i style="background:linear-gradient(90deg,#ff0700 0px,#ff0b00 32px,#ff2600 63px,#ff5000 87px,#ff8100 104px,#ffbb00 117px,#fffc00 127px,#e2ff1d 131px,#8aff75 140px,#1cffe3 149px,#01fffe 151px,#0031ff 166px,#0005ff 170px,#0000f2 172px,#0000d2 177px,#0000ca 181px,#0000d7 186px,#0000fb 191px,#0010ff 193px,#0065ff 200px,#00ffff 211px,#7eff81 221px,#daff25 230px,#fcff03 234px,#ffab00 247px,#ff6b00 261px,#ff3300 279px,#ff0100 304px,#d60000 340px,#c10000 381px,#bf0000 400px)"></i><i style="background:linear-gradient(90deg,#ff0800 0px,#ff0c00 31px,#ff2800 62px,#ff4f00 85px,#ff7f00 102px,#ffb700 115px,#fffc00 126px,#d1ff2e 132px,#76ff89 141px,#06fff9 150px,#00eaff 152px,#0039ff 165px,#0001ff 170px,#0000da 175px,#0000c9 180px,#0000cd 184px,#0000e9 189px,#0000fb 191px,#0010ff 193px,#0068ff 200px,#00f7ff 210px,#05fffa 211px,#79ff86 220px,#d8ff27 229px,#fbff04 233px,#ffec00 236px,#ffa500 247px,#ff6600 261px,#ff2f00 279px,#ff0000 303px,#d70000 337px,#c10000 379px,#be0000 400px)"></i><i style="background:linear-gradient(90deg,#ff0a00 0px,#ff0f00 31px,#ff2b00 61px,#ff5500 84px,#ff8800 101px,#ffc400 114px,#fffe00 123px,#bdff42 131px,#5fffa0 140px,#07fff8 147px,#00f9ff 148px,#003cff 162px,#0006ff 167px,#0000f3 169px,#0000d5 174px,#0000cd 179px,#0000de 184px,#0000fa 188px,#000eff 190px,#005fff 197px,#03fffc 209px,#7dff82 219px,#d7ff28 228px,#fffe00 233px,#ffb500 244px,#ff7700 257px,#ff3f00 274px,#ff0b00 298px,#fc0000 307px,#d60000 342px,#c10000 384px,#c00000 400px)"></i><i style="background:linear-gradient(90deg,#ff0200 0px,#ff0600 32px,#ff1f00 63px,#ff4700 87px,#ff7700 104px,#ffaf00 117px,#ffed00 127px,#fffc00 129px,#d8ff27 134px,#7bff84 143px,#0afff5 152px,#00fbff 153px,#004cff 166px,#000eff 172px,#0000fe 174px,#0000e9 179px,#0000eb 184px,#0000ff 189px,#002eff 195px,#008eff 204px,#00faff 213px,#12ffed 215px,#8aff75 226px,#eaff15 237px,#fffe00 240px,#ffb300 252px,#ff6f00 267px,#ff3300 286px,#ff0200 310px,#d40000 349px,#c00000 390px,#bf0000 400px)"></i><i style="background:linear-gradient(90deg,#ff0400 0px,#ff0700 32px,#ff2100 63px,#ff4900 87px,#ff7900 104px,#ffad00 116px,#ffec00 126px,#fbff04 129px,#a6ff59 138px,#45ffba 146px,#00ffff 151px,#0032ff 165px,#0002ff 169px,#0000d0 175px,#0000c3 179px,#0000c8 183px,#0000e6 188px,#0004ff 191px,#004fff 197px,#00ffff 209px,#79ff86 218px,#daff25 227px,#feff01 231px,#ffb200 242px,#ff7500 254px,#ff3e00 270px,#ff0c00 292px,#fc0000 301px,#d50000 335px,#be0000 378px,#bc0000 400px)"></i><i style="background:linear-gradient(90deg,#ff0200 0px,#ff0600 31px,#ff2000 62px,#ff4600 85px,#ff7600 102px,#ffaf00 115px,#ffed00 125px,#fffc00 127px,#ceff31 133px,#6eff91 142px,#07fff8 150px,#00f8ff 151px,#0045ff 164px,#0006ff 170px,#0000f5 172px,#0000df 177px,#0000e0 182px,#0000f5 187px,#0004ff 189px,#0044ff 196px,#00ecff 210px,#06fff9 212px,#82ff7d 223px,#deff21 233px,#fdff02 237px,#ffaa00 251px,#ff6800 266px,#ff2e00 285px,#ff0000 308px,#d70000 342px,#c00000 383px,#bd0000 400px)"></i><i style="background:linear-gradient(90deg,#ff0700 0px,#ff0a00 31px,#ff2300 61px,#ff4a00 84px,#ff7900 101px,#ffb200 114px,#fff200 124px,#fdff02 126px,#abff54 135px,#41ffbe 144px,#00fcff 149px,#0046ff 162px,#0003ff 168px,#0000db 174px,#0000d5 178px,#0000e5 183px,#0002ff 187px,#0041ff 193px,#00fdff 207px,#87ff78 218px,#e1ff1e 227px,#fffc00 231px,#ffb200 242px,#ff7300 255px,#ff3b00 272px,#ff0a00 295px,#fc0000 303px,#d60000 338px,#c10000 381px,#be0000 400px)"></i><i style="background:linear-gradient(90deg,#ff0900 0px,#ff0d00 31px,#ff2800 61px,#ff5100 84px,#ff8400 101px,#ffbf00 114px,#feff01 124px,#afff50 133px,#4affb5 142px,#08fff7 147px,#00f9ff 148px,#0025ff 163px,#0001ff 166px,#0000c9 172px,#0000b3 177px,#0000b4 181px,#0000c8 185px,#0002ff 191px,#0062ff 198px,#00fbff 208px,#27ffd8 211px,#8fff70 219px,#e3ff1c 227px,#feff01 230px,#ffb100 241px,#ff7400 253px,#ff3d00 269px,#ff0b00 291px,#fc0000 300px,#d60000 334px,#bf0000 378px,#bc0000 400px)"></i><i style="background:linear-gradient(90deg,#ff0800 0px,#ff0c00 31px,#ff2600 60px,#ff4e00 83px,#ff7d00 99px,#ffb300 111px,#fff200 121px,#fdff02 123px,#aaff55 132px,#4dffb2 140px,#09fff6 145px,#00faff 146px,#002fff 160px,#0000fd 164px,#0000d1 169px,#0000be 173px,#0000bd 177px,#0000cd 181px,#0002ff 187px,#005bff 194px,#00fbff 205px,#34ffcb 209px,#a1ff5e 218px,#f8ff07 227px,#fffe00 228px,#ffb800 238px,#ff7b00 250px,#ff4300 266px,#ff1100 288px,#fc0000 300px,#d60000 335px,#c00000 380px,#bd0000 400px)"></i><i style="background:linear-gradient(90deg,#ff0600 0px,#ff0a00 31px,#ff2300 61px,#ff4c00 85px,#ff7c00 102px,#ffb600 115px,#fff500 125px,#f9ff06 127px,#a7ff58 136px,#3effc1 145px,#08fff7 149px,#00f9ff 150px,#0032ff 164px,#0002ff 168px,#0000ce 174px,#0000bf 178px,#0000c1 182px,#0000d5 186px,#0000f9 190px,#0005ff 191px,#0063ff 198px,#00fcff 208px,#92ff6d 219px,#e7ff18 227px,#fffc00 230px,#ffb300 240px,#ff7400 252px,#ff3c00 268px,#ff0a00 290px,#fb0000 298px,#d60000 331px,#bf0000 375px,#bb0000 400px)"></i><i style="background:linear-gradient(90deg,#ff0500 0px,#ff0900 31px,#ff2200 61px,#ff4a00 85px,#ff7b00 102px,#ffb300 115px,#fff100 125px,#feff01 127px,#adff52 136px,#46ffb9 145px,#02fffd 150px,#001cff 166px,#0004ff 168px,#0000c9 174px,#0000b4 178px,#0000af 182px,#0000c0 186px,#0000e4 190px,#0000fc 192px,#0028ff 195px,#00ffff 208px,#79ff86 216px,#daff25 224px,#fffc00 228px,#ffb400 237px,#ff7600 248px,#ff4000 262px,#ff0e00 282px,#fb0000 292px,#d60000 324px,#bd0000 368px,#b70000 400px)"></i><i style="background:linear-gradient(90deg,#ff0500 0px,#ff0900 31px,#ff2300 61px,#ff4c00 84px,#ff7b00 100px,#ffb500 113px,#fff600 123px,#fffe00 124px,#b9ff46 132px,#5effa1 140px,#00ffff 147px,#0024ff 162px,#0000fe 165px,#0000ce 170px,#0000b8 174px,#0000b4 178px,#0000c1 182px,#0000e7 187px,#0000fd 189px,#003eff 194px,#00feff 207px,#84ff7b 217px,#e3ff1c 226px,#feff01 229px,#ffb100 240px,#ff7400 252px,#ff3c00 268px,#ff0a00 290px,#fb0000 298px,#d60000 331px,#be0000 375px,#ba0000 400px)"></i><i style="background:linear-gradient(90deg,#ff0500 0px,#ff0900 31px,#ff2200 61px,#ff4a00 84px,#ff7b00 101px,#ffb500 114px,#fff500 124px,#f9ff06 126px,#a6ff59 135px,#3cffc3 144px,#06fff9 148px,#00e8ff 150px,#003fff 162px,#0005ff 167px,#0000f2 169px,#0000d3 174px,#0000cc 178px,#0000d7 182px,#0000fa 187px,#000fff 189px,#0068ff 196px,#00f9ff 206px,#16ffe9 208px,#8bff74 217px,#e9ff16 226px,#fffb00 229px,#ffb300 239px,#ff7500 251px,#ff3c00 267px,#ff0a00 289px,#fc0000 297px,#d60000 330px,#be0000 375px,#ba0000 400px)"></i><i style="background:linear-gradient(90deg,#fe0000 0px,#ff0000 32px,#ff1600 63px,#ff3b00 88px,#ff6800 105px,#ff9e00 118px,#ffdb00 128px,#fcff03 133px,#aeff51 141px,#3fffc0 150px,#07fff8 154px,#00f8ff 155px,#006eff 165px,#0037ff 170px,#0014ff 175px,#000bff 179px,#0014ff 183px,#0035ff 188px,#0078ff 194px,#00f6ff 203px,#06fff9 204px,#8dff72 214px,#e5ff1a 222px,#fffd00 225px,#ffb700 234px,#ff7900 245px,#ff4200 259px,#ff1000 279px,#fd0000 289px,#d70000 320px,#bc0000 364px,#b60000 400px)"></i><i style="background:linear-gradient(90deg,#ff0100 0px,#ff0400 32px,#ff1e00 62px,#ff4600 85px,#ff7700 102px,#ffb200 115px,#fff200 125px,#fcff03 127px,#a8ff57 136px,#3effc1 145px,#08fff7 149px,#00f9ff 150px,#0043ff 163px,#0001ff 169px,#0000df 174px,#0000d6 178px,#0000e1 182px,#0003ff 186px,#0046ff 191px,#02fffd 202px,#81ff7e 210px,#dcff23 217px,#fdff02 220px,#ffab00 230px,#ff6f00 240px,#ff3b00 253px,#ff0b00 272px,#fc0000 280px,#d50000 311px,#ba0000 355px,#b10000 400px)"></i><i style="background:linear-gradient(90deg,#ff0100 0px,#ff0400 33px,#ff1e00 63px,#ff4500 86px,#ff7300 102px,#ffa700 114px,#ffe600 124px,#fffd00 127px,#c1ff3e 134px,#66ff99 142px,#06fff9 149px,#00f6ff 150px,#0034ff 163px,#0002ff 167px,#0000d3 172px,#0000c1 176px,#0000c1 180px,#0000d6 184px,#0000fd 188px,#0034ff 192px,#00f8ff 204px,#0afff5 205px,#81ff7e 213px,#e1ff1e 221px,#fffe00 224px,#ffb400 233px,#ff7400 244px,#ff3d00 258px,#ff0b00 278px,#fc0000 286px,#d50000 317px,#bb0000 361px,#b40000 400px)"></i><i style="background:linear-gradient(90deg,#ff0700 0px,#ff0a00 31px,#ff2300 61px,#ff4a00 84px,#ff7a00 101px,#ffb100 114px,#fff600 125px,#f9ff06 127px,#a9ff56 136px,#43ffbc 145px,#03fffc 150px,#003bff 165px,#0000ff 171px,#0000e4 176px,#0000df 180px,#0000ec 184px,#0004ff 187px,#003eff 192px,#00b7ff 200px,#00f8ff 204px,#08fff7 205px,#8bff74 214px,#e9ff16 222px,#fcff03 224px,#ffaa00 235px,#ff6d00 246px,#ff3700 261px,#ff0600 282px,#fa0000 289px,#d50000 321px,#bc0000 367px,#b70000 400px)"></i><i style="background:linear-gradient(90deg,#ff0300 0px,#ff0600 31px,#ff1f00 61px,#ff4700 84px,#ff7900 101px,#ffb300 114px,#fff400 124px,#fbff04 126px,#a7ff58 135px,#3dffc2 144px,#07fff8 148px,#00f8ff 149px,#0040ff 162px,#0006ff 167px,#0000fc 168px,#0000d8 173px,#0000cd 177px,#0000d6 182px,#0000f7 187px,#0001ff 188px,#0044ff 194px,#00f9ff 207px,#08fff7 208px,#87ff78 218px,#e4ff1b 227px,#feff01 230px,#ffb100 241px,#ff6f00 254px,#ff3700 270px,#ff0500 292px,#f80000 299px,#d40000 331px,#bc0000 376px,#b70000 400px)"></i><i style="background:linear-gradient(90deg,#ff0c00 0px,#ff1000 30px,#ff2a00 59px,#ff5300 82px,#ff8600 99px,#ffc000 112px,#ffff00 122px,#aaff55 132px,#49ffb6 141px,#00fcff 147px,#0033ff 162px,#0007ff 166px,#0000fc 167px,#0000d5 172px,#0000c3 177px,#0000c7 181px,#0000df 185px,#0000fb 188px,#0014ff 190px,#007aff 197px,#00fbff 205px,#39ffc6 209px,#a5ff5a 217px,#fbff04 225px,#ffe800 228px,#ffa600 237px,#ff6c00 248px,#ff3700 263px,#ff0700 284px,#fb0000 291px,#d60000 323px,#bf0000 369px,#b90000 400px)"></i><i style="background:linear-gradient(90deg,#ff0300 0px,#ff0500 31px,#ff1e00 61px,#ff4600 84px,#ff7300 100px,#ffad00 113px,#ffed00 123px,#fffc00 125px,#cdff32 131px,#76ff89 139px,#00fdff 148px,#0042ff 161px,#0008ff 166px,#0000fd 167px,#0000dc 172px,#0000d4 176px,#0000e0 181px,#0001ff 186px,#003dff 192px,#00d7ff 204px,#00feff 207px,#84ff7b 218px,#e6ff19 228px,#ffff00 231px,#ffb400 242px,#ff7400 255px,#ff3900 272px,#ff0700 294px,#fb0000 301px,#d60000 333px,#bf0000 378px,#ba0000 400px)"></i><i style="background:linear-gradient(90deg,#ff0300 0px,#ff0500 31px,#ff1e00 61px,#ff4600 84px,#ff7700 101px,#ffb100 114px,#fff100 124px,#fdff02 126px,#aaff55 135px,#40ffbf 144px,#0afff5 148px,#00fbff 149px,#0044ff 162px,#0000ff 168px,#0000dc 173px,#0000d1 177px,#0000d9 181px,#0000f4 185px,#0000fd 186px,#002bff 190px,#00a1ff 198px,#01fffe 204px,#83ff7c 213px,#e1ff1e 221px,#ffff00 224px,#ffb600 233px,#ff7600 244px,#ff3e00 258px,#ff0d00 277px,#fc0000 286px,#d60000 316px,#bc0000 360px,#b30000 400px)"></i><i style="background:linear-gradient(90deg,#ff0300 0px,#ff0500 31px,#ff1d00 60px,#ff4400 83px,#ff7300 99px,#ffac00 112px,#ffec00 122px,#fffc00 124px,#d6ff29 129px,#81ff7e 137px,#0afff5 146px,#00faff 147px,#002bff 161px,#0006ff 164px,#0000fa 165px,#0000cf 170px,#0000bf 174px,#0000c0 177px,#0000cf 180px,#0000f9 184px,#0007ff 185px,#0058ff 190px,#01fffe 199px,#79ff86 206px,#dbff24 213px,#feff01 216px,#ffad00 225px,#ff7300 234px,#ff3f00 246px,#ff1000 263px,#fc0000 273px,#d50000 304px,#ba0000 348px,#b00000 400px)"></i><i style="background:linear-gradient(90deg,#ff0100 0px,#ff0400 31px,#ff1d00 59px,#ff4400 81px,#ff7400 97px,#ffaa00 109px,#ffea00 119px,#fcff03 122px,#a6ff59 131px,#38ffc7 140px,#01fffe 144px,#0046ff 157px,#0003ff 163px,#0000dd 169px,#0000d9 173px,#0000e6 176px,#0000ff 179px,#0034ff 183px,#00abff 190px,#00f4ff 194px,#07fff8 195px,#8bff74 203px,#e9ff16 210px,#fffe00 212px,#ffb300 220px,#ff7600 229px,#ff4300 240px,#ff1500 256px,#fe0000 267px,#d60000 297px,#ba0000 339px,#ad0000 400px)"></i><i style="background:linear-gradient(90deg,#ff0200 0px,#ff0400 32px,#ff1c00 62px,#ff4100 84px,#ff6f00 100px,#ffa400 112px,#ffe200 122px,#fcff03 126px,#a5ff5a 135px,#38ffc7 144px,#01fffe 148px,#006dff 159px,#003aff 164px,#001aff 169px,#0013ff 173px,#001dff 177px,#003aff 181px,#0072ff 186px,#00f4ff 195px,#04fffb 196px,#92ff6d 206px,#efff10 214px,#fffb00 216px,#ffb000 225px,#ff7500 235px,#ff4000 248px,#ff0f00 267px,#fc0000 277px,#d50000 308px,#bb0000 353px,#b20000 400px)"></i><i style="background:linear-gradient(90deg,#fb0000 0px,#fb0000 32px,#ff0700 51px,#ff2800 79px,#ff5300 99px,#ff8500 113px,#ffc100 124px,#fffc00 132px,#d4ff2b 137px,#7bff84 145px,#02fffd 154px,#0067ff 165px,#0030ff 170px,#000fff 175px,#0007ff 179px,#0015ff 184px,#003bff 189px,#007eff 195px,#00faff 204px,#17ffe8 206px,#98ff67 216px,#f7ff08 225px,#fffe00 226px,#ffb000 236px,#ff7200 247px,#ff3800 262px,#ff0600 282px,#fa0000 288px,#d50000 317px,#bb0000 360px,#b10000 400px)"></i><i style="background:linear-gradient(90deg,#ff0100 0px,#ff0400 33px,#ff1d00 63px,#ff4600 86px,#ff7500 102px,#ffb000 115px,#fff100 125px,#feff01 127px,#aaff55 136px,#3fffc0 145px,#09fff6 149px,#00fbff 150px,#0057ff 162px,#0018ff 168px,#0002ff 171px,#0000f1 176px,#0000f8 180px,#0004ff 182px,#0029ff 186px,#006aff 191px,#00faff 200px,#1bffe4 202px,#92ff6d 210px,#f3ff0c 218px,#fdff02 219px,#ffaa00 229px,#ff6e00 239px,#ff3900 252px,#ff0a00 270px,#fb0000 277px,#d50000 306px,#bb0000 348px,#b00000 400px)"></i><i style="background:linear-gradient(90deg,#ff0500 0px,#ff0700 31px,#ff1f00 61px,#ff4600 84px,#ff7700 101px,#ffb100 114px,#fff200 124px,#fdff02 126px,#aaff55 135px,#3fffc0 144px,#08fff7 148px,#00f9ff 149px,#002fff 163px,#0000ff 167px,#0000d4 172px,#0000c4 176px,#0000c7 180px,#0000dd 184px,#0000fb 187px,#0014ff 189px,#006eff 195px,#00f3ff 203px,#04fffb 204px,#7eff81 212px,#e1ff1e 220px,#fffe00 223px,#ffb200 232px,#ff7500 242px,#ff3f00 255px,#ff0f00 273px,#fc0000 282px,#d70000 311px,#bd0000 354px,#b40000 400px)"></i><i style="background:linear-gradient(90deg,#fc0000 0px,#ff0000 31px,#ff1600 59px,#ff3d00 82px,#ff6a00 98px,#ffa300 111px,#ffe300 121px,#fcff03 125px,#a4ff5b 134px,#36ffc9 143px,#00fdff 147px,#0056ff 159px,#0015ff 165px,#0000fe 168px,#0000ef 172px,#0000f2 176px,#0003ff 179px,#002bff 183px,#0072ff 188px,#00f8ff 196px,#0afff5 197px,#89ff76 205px,#e4ff1b 212px,#fbff04 214px,#ffe400 217px,#ffa000 225px,#ff6400 235px,#ff2f00 248px,#ff0200 266px,#d30000 298px,#b80000 339px,#aa0000 400px)"></i><i style="background:linear-gradient(90deg,#ff0000 0px,#ff0400 35px,#ff1e00 64px,#ff4500 86px,#ff7400 102px,#ffaa00 114px,#ffea00 124px,#fcff03 127px,#a7ff58 136px,#3affc5 145px,#03fffc 149px,#003fff 163px,#000bff 168px,#0000fa 170px,#0000e7 174px,#0000e5 178px,#0000f7 183px,#0004ff 185px,#003aff 191px,#00a8ff 200px,#00f7ff 206px,#06fff9 207px,#8bff74 218px,#eeff11 228px,#ffff00 230px,#ffb100 241px,#ff6e00 254px,#ff3500 270px,#ff0400 291px,#f10000 302px,#cf0000 334px,#b80000 384px,#b50000 400px)"></i><i style="background:linear-gradient(90deg,#fb0000 0px,#fb0000 32px,#ff0600 50px,#ff2400 77px,#ff4c00 96px,#ff7d00 110px,#ffb600 121px,#feff01 131px,#a3ff5c 140px,#24ffdb 150px,#08fff7 152px,#00f9ff 153px,#0082ff 162px,#0050ff 167px,#0037ff 171px,#002eff 175px,#003aff 179px,#005bff 183px,#009cff 188px,#00fbff 194px,#4effb1 199px,#c4ff3b 207px,#fffd00 212px,#ffb000 220px,#ff7100 229px,#ff3d00 240px,#ff0e00 256px,#fc0000 264px,#d50000 292px,#b90000 332px,#ab0000 400px)"></i><i style="background:linear-gradient(90deg,#fc0000 0px,#fc0000 32px,#ff0800 52px,#ff2800 79px,#ff5200 98px,#ff8500 112px,#ffc100 123px,#fffe00 131px,#bcff43 138px,#5affa5 146px,#03fffc 152px,#0040ff 165px,#0008ff 170px,#0000fe 171px,#0000e6 175px,#0000e3 179px,#0000f5 183px,#0000fd 184px,#002bff 188px,#0087ff 194px,#02fffd 201px,#83ff7c 209px,#e1ff1e 216px,#f8ff07 218px,#fffb00 219px,#ffb100 227px,#ff7400 236px,#ff3d00 248px,#ff0e00 264px,#fc0000 272px,#d50000 299px,#bb0000 338px,#ad0000 400px)"></i><i style="background:linear-gradient(90deg,#fe0000 0px,#ff0400 36px,#ff1e00 65px,#ff4500 86px,#ff7700 102px,#ffb000 114px,#fff300 124px,#fbff04 126px,#a3ff5c 135px,#35ffca 144px,#00fcff 148px,#0053ff 160px,#0011ff 166px,#0001ff 168px,#0000ea 173px,#0000ec 177px,#0001ff 181px,#0030ff 186px,#008eff 193px,#00faff 200px,#19ffe6 202px,#97ff68 211px,#f2ff0d 219px,#fcff03 220px,#ffc500 227px,#ff8300 237px,#ff4b00 249px,#ff1700 266px,#fe0000 277px,#d70000 304px,#bc0000 343px,#ae0000 400px)"></i><i style="background:linear-gradient(90deg,#fc0000 0px,#fe0000 32px,#ff1100 58px,#ff3500 82px,#ff6200 99px,#ff9900 112px,#ffd700 122px,#fffe00 127px,#b3ff4c 135px,#45ffba 144px,#00feff 149px,#0064ff 160px,#002eff 165px,#000dff 170px,#0005ff 174px,#000eff 177px,#002fff 181px,#0064ff 185px,#01fffe 194px,#8aff75 202px,#ecff13 209px,#fffa00 211px,#ffb300 218px,#ff7700 226px,#ff4300 236px,#ff1400 250px,#fd0000 260px,#d50000 287px,#b90000 325px,#aa0000 392px,#a90000 400px)"></i><i style="background:linear-gradient(90deg,#f90000 0px,#fa0000 33px,#ff0500 51px,#ff2500 78px,#ff4f00 97px,#ff8300 111px,#ffc100 122px,#fffe00 130px,#b0ff4f 138px,#41ffbe 147px,#0afff5 151px,#00fbff 152px,#0086ff 161px,#0055ff 166px,#003eff 170px,#0038ff 174px,#0044ff 178px,#0069ff 183px,#00aeff 189px,#03fffc 195px,#9aff65 206px,#f6ff09 214px,#fffe00 215px,#ffb000 224px,#ff7100 234px,#ff3900 247px,#ff0800 265px,#fb0000 271px,#d30000 299px,#b90000 338px,#ab0000 400px)"></i><i style="background:linear-gradient(90deg,#fb0000 0px,#fc0000 32px,#ff0c00 54px,#ff2e00 79px,#ff5a00 97px,#ff8c00 110px,#ffcb00 121px,#feff01 128px,#a6ff59 137px,#35ffca 146px,#00fcff 150px,#0052ff 162px,#001cff 167px,#0000fe 171px,#0000f1 175px,#0000f8 179px,#0004ff 181px,#0027ff 185px,#0067ff 190px,#00f6ff 199px,#07fff8 200px,#8fff70 209px,#f2ff0d 217px,#fdff02 218px,#ffa800 228px,#ff6900 238px,#ff3200 251px,#ff0200 269px,#d30000 299px,#b80000 337px,#a90000 400px)"></i><i style="background:linear-gradient(90deg,#fc0000 0px,#fd0000 32px,#ff0d00 55px,#ff3000 80px,#ff5e00 98px,#ff9200 111px,#ffd400 122px,#fffa00 127px,#f2ff0d 129px,#a1ff5e 137px,#2effd1 146px,#03fffc 149px,#00a9ff 155px,#003aff 163px,#0007ff 168px,#0000fe 169px,#0000ea 173px,#0000e8 177px,#0000fd 181px,#001cff 184px,#0062ff 189px,#01fffe 198px,#85ff7a 206px,#e6ff19 213px,#fdff02 215px,#ffaa00 224px,#ff6c00 233px,#ff3800 244px,#ff0800 260px,#fa0000 266px,#d30000 292px,#b80000 329px,#a80000 399px,#a80000 400px)"></i><i style="background:linear-gradient(90deg,#fc0000 0px,#fd0000 32px,#ff0e00 56px,#ff3100 80px,#ff5c00 97px,#ff9100 110px,#ffcd00 120px,#fffb00 126px,#e8ff17 129px,#93ff6c 137px,#1effe1 146px,#02fffd 148px,#0069ff 159px,#0034ff 164px,#0018ff 168px,#000eff 172px,#0016ff 176px,#002fff 180px,#0064ff 185px,#00d6ff 193px,#00f4ff 195px,#05fffa 196px,#95ff6a 206px,#f3ff0c 214px,#feff01 215px,#ffb100 224px,#ff7100 234px,#ff3800 247px,#ff0600 265px,#fb0000 270px,#d40000 297px,#b90000 335px,#aa0000 400px)"></i><i style="background:linear-gradient(90deg,#ff0100 0px,#ff0400 34px,#ff1c00 62px,#ff4200 83px,#ff7200 99px,#ffaa00 111px,#ffec00 121px,#fffc00 123px,#dfff20 127px,#80ff7f 136px,#0afff5 145px,#00fbff 146px,#0063ff 157px,#0023ff 163px,#0004ff 168px,#0001ff 174px,#0015ff 178px,#0045ff 183px,#00a3ff 190px,#00feff 196px,#9bff64 207px,#f7ff08 215px,#fffd00 216px,#ffb000 225px,#ff7200 235px,#ff3a00 248px,#ff0800 266px,#fb0000 272px,#d50000 299px,#ba0000 338px,#ac0000 400px)"></i><i style="background:linear-gradient(90deg,#f90000 0px,#f90000 33px,#ff0400 51px,#ff2300 77px,#ff4e00 96px,#ff8100 110px,#ffbf00 121px,#fffd00 129px,#bbff44 136px,#58ffa7 144px,#01fffe 150px,#005eff 161px,#0024ff 166px,#0006ff 170px,#0000fa 173px,#0003ff 178px,#0021ff 182px,#0060ff 187px,#00f3ff 196px,#05fffa 197px,#94ff6b 206px,#f0ff0f 213px,#fbff04 214px,#ffcf00 219px,#ff8e00 227px,#ff5300 237px,#ff2100 250px,#fe0000 263px,#d50000 288px,#b90000 323px,#a80000 386px,#a60000 400px)"></i><i style="background:linear-gradient(90deg,#fd0000 0px,#fe0000 33px,#ff1200 60px,#ff3400 83px,#ff6000 100px,#ff9700 113px,#ffd400 123px,#fffb00 128px,#f2ff0d 130px,#a0ff5f 138px,#2cffd3 147px,#02fffd 150px,#0058ff 162px,#0024ff 167px,#000aff 171px,#0002ff 175px,#0009ff 178px,#002aff 182px,#005eff 186px,#00d7ff 193px,#00fbff 195px,#44ffbb 199px,#b4ff4b 206px,#f8ff07 211px,#fffa00 212px,#ffb200 219px,#ff7500 227px,#ff3f00 237px,#ff1000 251px,#fc0000 259px,#d50000 284px,#b90000 319px,#a90000 383px,#a70000 400px)"></i><i style="background:linear-gradient(90deg,#ff0000 0px,#ff0400 36px,#ff1d00 64px,#ff4400 85px,#ff7300 100px,#ffad00 112px,#fff100 122px,#fcff03 124px,#a5ff5a 133px,#2affd5 143px,#02fffd 146px,#0075ff 157px,#0046ff 162px,#002dff 167px,#002aff 171px,#003dff 175px,#0063ff 179px,#00b7ff 185px,#00f8ff 189px,#0afff5 190px,#99ff66 199px,#f5ff0a 206px,#fffe00 207px,#ffae00 215px,#ff6e00 224px,#ff3800 235px,#ff0a00 250px,#fc0000 256px,#d50000 282px,#b90000 318px,#a90000 384px,#a80000 400px)"></i><i style="background:linear-gradient(90deg,#ff0100 0px,#ff0300 37px,#ff1b00 67px,#ff4000 89px,#ff6f00 105px,#ffa600 117px,#ffe700 127px,#ffff00 130px,#a8ff57 139px,#2dffd2 149px,#05fffa 152px,#00e9ff 154px,#0078ff 163px,#004aff 168px,#0031ff 173px,#0031ff 177px,#0047ff 181px,#0073ff 185px,#00cfff 191px,#04fffb 194px,#99ff66 203px,#faff05 210px,#ffed00 212px,#ffa700 219px,#ff6700 228px,#ff3200 239px,#ff0500 254px,#f70000 260px,#d20000 286px,#b90000 323px,#aa0000 400px)"></i><i style="background:linear-gradient(90deg,#fb0000 0px,#fb0000 34px,#ff0600 53px,#ff2400 79px,#ff4c00 97px,#ff7b00 110px,#ffb700 121px,#fffd00 130px,#c5ff3a 136px,#63ff9c 144px,#00ffff 151px,#0080ff 160px,#004aff 165px,#002fff 169px,#0027ff 173px,#0031ff 176px,#004bff 179px,#0083ff 183px,#00f0ff 189px,#04fffb 190px,#98ff67 198px,#f4ff0b 204px,#fffd00 205px,#ffac00 212px,#ff6a00 220px,#ff3800 229px,#ff0d00 241px,#fd0000 247px,#d60000 270px,#b90000 305px,#a90000 362px,#a50000 400px)"></i><i style="background:linear-gradient(90deg,#ff0000 0px,#ff0300 41px,#ff1d00 69px,#ff4200 89px,#ff7200 104px,#ffa800 115px,#ffe700 124px,#fdff02 127px,#acff53 135px,#38ffc7 144px,#00feff 148px,#0073ff 158px,#003eff 163px,#0025ff 167px,#001dff 171px,#0027ff 174px,#0042ff 177px,#0079ff 181px,#00f8ff 188px,#0cfff3 189px,#9eff61 197px,#f7ff08 203px,#fff900 204px,#ffab00 211px,#ff6b00 219px,#ff3500 229px,#ff0900 242px,#fa0000 248px,#d50000 272px,#b80000 309px,#a90000 371px,#a60000 400px)"></i><i style="background:linear-gradient(90deg,#f90000 0px,#f70000 36px,#ff0300 59px,#ff2100 86px,#ff4900 105px,#ff7700 118px,#ffb300 129px,#fdff02 139px,#9fff60 148px,#07fff8 160px,#00f9ff 161px,#00abff 168px,#0088ff 173px,#007dff 177px,#0086ff 181px,#00a1ff 185px,#00daff 190px,#04fffb 193px,#c1ff3e 206px,#ffff00 211px,#ffae00 219px,#ff6b00 228px,#ff3400 239px,#ff0400 254px,#f60000 260px,#d00000 285px,#b60000 320px,#a70000 391px,#a60000 400px)"></i><i style="background:linear-gradient(90deg,#fe0000 0px,#fe0000 34px,#ff1200 63px,#ff3400 87px,#ff6100 104px,#ff9800 117px,#ffd700 127px,#ffff00 132px,#b0ff4f 140px,#40ffbf 149px,#08fff7 153px,#00f8ff 154px,#006fff 164px,#003aff 169px,#0020ff 173px,#0017ff 177px,#001fff 180px,#003fff 184px,#0072ff 188px,#00e8ff 195px,#00faff 196px,#1fffe0 198px,#a4ff5b 206px,#f7ff08 212px,#fffb00 213px,#ffb100 220px,#ff7200 228px,#ff3c00 238px,#ff0c00 252px,#fc0000 258px,#d60000 281px,#ba0000 314px,#aa0000 373px,#a70000 400px)"></i><i style="background:linear-gradient(90deg,#f90000 0px,#f70000 36px,#ff0300 60px,#ff2100 86px,#ff4900 104px,#ff7a00 117px,#ffb400 127px,#feff01 136px,#afff50 143px,#3dffc2 151px,#00fdff 155px,#0072ff 164px,#0039ff 169px,#0021ff 173px,#001eff 176px,#002cff 179px,#004cff 182px,#008bff 186px,#02fffd 192px,#9dff62 200px,#fdff02 206px,#ffac00 213px,#ff6f00 220px,#ff3800 229px,#ff0a00 241px,#fc0000 246px,#d60000 267px,#b80000 300px,#a80000 352px,#a30000 400px)"></i><i style="background:linear-gradient(90deg,#fa0000 0px,#f80000 36px,#ff0400 58px,#ff2100 84px,#ff4800 102px,#ff7600 115px,#ffac00 125px,#fff100 134px,#faff05 136px,#a3ff5c 144px,#28ffd7 153px,#00fbff 156px,#008bff 164px,#0057ff 169px,#003fff 173px,#003bff 177px,#004aff 180px,#0069ff 183px,#00a5ff 187px,#03fffc 192px,#99ff66 200px,#f7ff08 206px,#fff900 207px,#ffb100 213px,#ff7300 220px,#ff3b00 229px,#ff0c00 241px,#fd0000 246px,#d80000 266px,#b90000 298px,#a80000 347px,#a30000 400px)"></i><i style="background:linear-gradient(90deg,#fa0000 0px,#f80000 37px,#ff0400 60px,#ff2000 86px,#ff4600 104px,#ff7600 117px,#ffad00 127px,#fff400 136px,#fffe00 137px,#b4ff4b 144px,#3affc5 153px,#00feff 157px,#009bff 164px,#0067ff 169px,#004fff 173px,#004cff 177px,#005fff 181px,#0085ff 185px,#00d7ff 191px,#00f6ff 193px,#07fff8 194px,#a2ff5d 204px,#fdff02 211px,#ffa700 220px,#ff6600 229px,#ff3000 240px,#ff0200 255px,#d40000 281px,#b80000 314px,#a90000 373px,#a60000 400px)"></i><i style="background:linear-gradient(90deg,#f80000 0px,#f70000 36px,#ff0400 58px,#ff2200 84px,#ff4b00 102px,#ff7c00 115px,#ffb500 125px,#fffc00 134px,#dbff24 138px,#7cff83 146px,#00fdff 155px,#008eff 163px,#0059ff 168px,#003fff 172px,#0037ff 176px,#0044ff 180px,#0065ff 184px,#00a4ff 189px,#01fffe 195px,#9dff62 205px,#f8ff07 212px,#fffa00 213px,#ffab00 221px,#ff6900 230px,#ff3200 241px,#ff0200 256px,#d30000 281px,#b60000 313px,#a60000 368px,#a20000 400px)"></i><i style="background:linear-gradient(90deg,#fa0000 0px,#f80000 37px,#ff0400 61px,#ff2100 87px,#ff4700 104px,#ff7700 117px,#ffb100 127px,#fff100 135px,#f9ff06 137px,#9eff61 145px,#02fffd 156px,#0097ff 164px,#0072ff 168px,#005fff 172px,#0061ff 176px,#007bff 180px,#00a7ff 184px,#02fffd 190px,#b2ff4d 201px,#f6ff09 206px,#fffc00 207px,#ffb100 214px,#ff7100 222px,#ff3900 232px,#ff0a00 245px,#fc0000 250px,#d50000 272px,#b80000 305px,#a80000 358px,#a40000 400px)"></i><i style="background:linear-gradient(90deg,#fc0000 0px,#fb0000 37px,#ff0600 57px,#ff2200 83px,#ff4900 101px,#ff7700 114px,#ffad00 124px,#fff200 133px,#faff05 135px,#a4ff5b 143px,#1dffe2 153px,#01fffe 155px,#0094ff 163px,#0062ff 168px,#004cff 172px,#0049ff 176px,#005dff 181px,#0087ff 186px,#00dcff 193px,#00f7ff 195px,#06fff9 196px,#a7ff58 208px,#f7ff08 215px,#fffd00 216px,#ffae00 225px,#ff6c00 235px,#ff3500 247px,#ff0500 263px,#f90000 268px,#d10000 293px,#b80000 327px,#a70000 400px)"></i><i style="background:linear-gradient(90deg,#f70000 0px,#f60000 36px,#ff0300 59px,#ff2200 84px,#ff4b00 101px,#ff7e00 114px,#ffb900 124px,#fffb00 132px,#f0ff0f 134px,#8bff74 143px,#07fff8 153px,#00f9ff 154px,#00a6ff 161px,#007eff 166px,#0070ff 170px,#0075ff 174px,#0090ff 179px,#00caff 185px,#00fbff 189px,#24ffdb 192px,#bfff40 204px,#f8ff07 209px,#fffc00 210px,#ffaa00 219px,#ff6700 229px,#ff2f00 241px,#ff0100 256px,#d20000 281px,#b50000 313px,#a40000 367px,#a00000 400px)"></i><i style="background:linear-gradient(90deg,#f90000 0px,#f70000 38px,#ff0300 61px,#ff2100 87px,#ff4900 105px,#ff7900 118px,#ffb100 128px,#feff01 138px,#a0ff5f 147px,#04fffb 160px,#00cfff 165px,#00adff 170px,#00a1ff 174px,#00a8ff 178px,#00c0ff 182px,#01fffe 188px,#dbff24 204px,#fffe00 207px,#ffac00 215px,#ff6800 224px,#ff2f00 235px,#ff0000 249px,#d60000 270px,#b70000 301px,#a60000 349px,#a00000 400px)"></i><i style="background:linear-gradient(90deg,#fb0000 0px,#fa0000 38px,#ff0400 58px,#ff2100 84px,#ff4800 102px,#ff7800 115px,#ffb100 125px,#fff900 134px,#f1ff0e 136px,#96ff69 144px,#00feff 155px,#00a3ff 162px,#0073ff 167px,#0060ff 171px,#0060ff 175px,#0079ff 179px,#00a6ff 183px,#00f2ff 188px,#04fffb 189px,#b9ff46 200px,#feff01 205px,#ffb100 212px,#ff6e00 220px,#ff3400 230px,#ff0500 243px,#f70000 248px,#d00000 270px,#b30000 303px,#a40000 356px,#a10000 400px)"></i><i style="background:linear-gradient(90deg,#fb0000 0px,#fa0000 37px,#ff0500 57px,#ff2100 82px,#ff4800 100px,#ff7900 113px,#ffb100 123px,#fdff02 133px,#a7ff58 141px,#16ffe9 152px,#08fff7 153px,#00f9ff 154px,#00a1ff 161px,#0074ff 166px,#0063ff 170px,#0064ff 174px,#007bff 178px,#00a5ff 182px,#00fdff 188px,#baff45 200px,#fdff02 205px,#ffab00 213px,#ff6b00 221px,#ff3400 231px,#ff0500 244px,#f70000 249px,#d00000 271px,#b30000 303px,#a30000 355px,#9f0000 400px)"></i><i style="background:linear-gradient(90deg,#fc0000 0px,#fb0000 37px,#ff0700 57px,#ff2400 82px,#ff4b00 99px,#ff7d00 112px,#ffb800 122px,#fcff03 131px,#a3ff5c 139px,#27ffd8 148px,#09fff6 150px,#00f9ff 151px,#0086ff 159px,#004fff 164px,#0035ff 168px,#002fff 172px,#003bff 175px,#0061ff 179px,#00abff 184px,#00f1ff 188px,#05fffa 189px,#a3ff5c 198px,#fbff04 204px,#ffde00 207px,#ff9600 214px,#ff5a00 222px,#ff2600 232px,#ff0100 243px,#d60000 263px,#b60000 293px,#a50000 337px,#9f0000 400px)"></i><i style="background:linear-gradient(90deg,#f80000 0px,#f60000 39px,#ff0300 64px,#ff2000 88px,#ff4500 104px,#ff7400 116px,#ffaf00 126px,#fff200 134px,#fffc00 135px,#e3ff1c 138px,#7eff81 146px,#09fff6 154px,#00f9ff 155px,#009bff 162px,#0074ff 166px,#0060ff 170px,#0061ff 174px,#007aff 178px,#00a7ff 182px,#03fffc 188px,#b6ff49 199px,#fbff04 204px,#ffbd00 210px,#ff7700 218px,#ff3f00 227px,#ff0d00 239px,#fd0000 244px,#d60000 263px,#b60000 292px,#a30000 335px,#9d0000 400px)"></i><i style="background:linear-gradient(90deg,#fa0000 0px,#f70000 40px,#ff0300 66px,#ff2000 91px,#ff4500 107px,#ff7300 119px,#ffae00 129px,#fff000 137px,#fbff04 139px,#94ff6b 148px,#0afff5 159px,#00feff 160px,#00d0ff 165px,#00bbff 169px,#00b9ff 173px,#00cbff 177px,#00fbff 182px,#15ffea 184px,#e9ff16 199px,#fffc00 201px,#ffa500 209px,#ff6600 217px,#ff2e00 227px,#ff0200 239px,#d30000 262px,#b40000 293px,#a30000 339px,#9f0000 400px)"></i><i style="background:linear-gradient(90deg,#fa0000 0px,#f90000 39px,#ff0400 59px,#ff2100 84px,#ff4700 101px,#ff7800 114px,#ffb200 124px,#fcff03 134px,#91ff6e 144px,#06fff9 156px,#00f1ff 158px,#00caff 163px,#00b8ff 168px,#00bcff 172px,#00d2ff 176px,#03fffc 181px,#87ff78 191px,#fbff04 200px,#ffe100 203px,#ff9600 211px,#ff5700 220px,#ff2200 231px,#fd0000 242px,#d50000 262px,#b50000 292px,#a30000 336px,#9d0000 400px)"></i><i style="background:linear-gradient(90deg,#fc0000 0px,#fa0000 40px,#ff0400 62px,#ff1f00 87px,#ff4400 104px,#ff7500 117px,#ffaf00 127px,#fcff03 137px,#9aff65 146px,#0afff5 158px,#00feff 159px,#00d4ff 164px,#00c2ff 168px,#00c1ff 172px,#00d4ff 176px,#00f8ff 180px,#04fffb 181px,#6eff91 189px,#f6ff09 199px,#fffc00 200px,#ffa700 208px,#ff6800 216px,#ff3000 226px,#ff0100 239px,#d40000 261px,#b40000 292px,#a40000 337px,#9f0000 400px)"></i><i style="background:linear-gradient(90deg,#fe0000 0px,#fb0000 41px,#ff0500 63px,#ff1f00 88px,#ff4300 105px,#ff7200 118px,#ffa900 128px,#ffef00 137px,#fdff02 139px,#91ff6e 149px,#15ffea 160px,#02fffd 162px,#00dcff 168px,#00d6ff 172px,#00e2ff 176px,#01fffe 180px,#45ffba 186px,#fdff02 200px,#ffa300 209px,#ff5f00 218px,#ff2a00 228px,#ff0100 240px,#d50000 261px,#b60000 292px,#a50000 337px,#a00000 400px)"></i><i style="background:linear-gradient(90deg,#fb0000 0px,#f70000 42px,#ff0400 68px,#ff1f00 92px,#ff4500 108px,#ff7100 119px,#ffa700 128px,#ffec00 136px,#fdff02 138px,#a8ff57 145px,#07fff8 156px,#00f8ff 157px,#00b6ff 162px,#0091ff 166px,#0081ff 170px,#0087ff 174px,#00a1ff 178px,#00d9ff 183px,#03fffc 186px,#c3ff3c 199px,#f7ff08 203px,#fffb00 204px,#ffa800 212px,#ff6300 221px,#ff2a00 232px,#ff0100 244px,#d50000 265px,#b50000 295px,#a40000 340px,#9f0000 400px)"></i><i style="background:linear-gradient(90deg,#fc0000 0px,#f90000 42px,#ff0400 65px,#ff1f00 90px,#ff4200 106px,#ff6f00 118px,#ffaa00 128px,#ffec00 136px,#feff01 138px,#9fff60 146px,#06fff9 157px,#00eaff 159px,#00b2ff 164px,#0096ff 168px,#008eff 172px,#0099ff 175px,#00b6ff 178px,#02fffd 183px,#c8ff37 194px,#f8ff07 197px,#fff700 198px,#ffaa00 204px,#ff6700 211px,#ff3200 219px,#ff0300 230px,#d30000 250px,#b40000 279px,#a10000 322px,#9c0000 400px)"></i><i style="background:linear-gradient(90deg,#ff0000 0px,#fb0000 43px,#ff0500 65px,#ff1f00 90px,#ff4300 106px,#ff7000 118px,#ffac00 128px,#ffef00 136px,#fbff04 138px,#92ff6d 147px,#16ffe9 157px,#01fffe 159px,#00d9ff 164px,#00ceff 168px,#00d3ff 171px,#00efff 175px,#06fff9 177px,#5bffa4 183px,#f3ff0c 193px,#fffd00 194px,#ffaa00 201px,#ff6b00 208px,#ff3200 217px,#ff0500 228px,#f80000 232px,#d40000 250px,#b50000 280px,#a30000 324px,#9f0000 400px)"></i><i style="background:linear-gradient(90deg,#ff0000 0px,#fb0000 44px,#ff0500 67px,#ff1e00 91px,#ff4100 107px,#ff6f00 119px,#ffa500 128px,#ffe800 136px,#fffc00 138px,#c9ff36 143px,#0bfff4 158px,#00ffff 159px,#00d8ff 164px,#00cdff 168px,#00d3ff 171px,#00efff 175px,#00faff 176px,#06fff9 177px,#5affa5 183px,#f1ff0e 193px,#ffff00 194px,#ffac00 201px,#ff6d00 208px,#ff3400 217px,#ff0700 228px,#fa0000 232px,#d50000 250px,#b50000 280px,#a30000 324px,#9f0000 400px)"></i><i style="background:linear-gradient(90deg,#fe0000 0px,#fa0000 44px,#ff0500 67px,#ff1f00 92px,#ff4200 108px,#ff6f00 120px,#ffa800 130px,#fff000 139px,#fbff04 141px,#76ff89 153px,#21ffde 161px,#02fffd 165px,#00efff 170px,#00f3ff 174px,#03fffc 177px,#2fffd0 182px,#a0ff5f 191px,#f9ff06 198px,#ffed00 200px,#ff9c00 208px,#ff5800 217px,#ff2000 228px,#fd0000 238px,#d40000 257px,#b40000 286px,#a20000 328px,#9d0000 400px)"></i><i style="background:linear-gradient(90deg,#ff0200 0px,#ff0000 50px,#ff1200 80px,#ff3100 100px,#ff5b00 114px,#ff9100 125px,#ffd200 134px,#feff01 139px,#8dff72 149px,#23ffdc 158px,#00feff 162px,#00e8ff 166px,#00e3ff 170px,#00f3ff 174px,#03fffc 176px,#3bffc4 181px,#fcff03 195px,#ff9e00 204px,#ff5e00 212px,#ff2700 222px,#fe0000 233px,#d70000 251px,#b70000 280px,#a40000 322px,#9f0000 400px)"></i><i style="background:linear-gradient(90deg,#fc0000 0px,#f90000 45px,#ff0400 69px,#ff1f00 92px,#ff4200 107px,#ff7200 119px,#ffa900 128px,#ffee00 136px,#fbff04 138px,#8fff70 147px,#0dfff2 157px,#01fffe 158px,#00d3ff 163px,#00c1ff 167px,#00c4ff 171px,#00dcff 175px,#00f9ff 178px,#05fffa 179px,#74ff8b 187px,#ffff00 197px,#ffa700 205px,#ff6600 213px,#ff2c00 223px,#ff0200 234px,#d20000 255px,#b20000 284px,#9f0000 326px,#9a0000 400px)"></i><i style="background:linear-gradient(90deg,#ff0000 0px,#fc0000 45px,#ff0700 68px,#ff2100 91px,#ff4700 107px,#ff7400 118px,#ffaa00 127px,#ffee00 135px,#fcff03 137px,#92ff6d 146px,#05fffa 157px,#00efff 159px,#00c8ff 164px,#00bdff 168px,#00c6ff 172px,#00e2ff 176px,#02fffd 179px,#6fff90 187px,#f8ff07 197px,#fffa00 198px,#ffa400 206px,#ff6500 214px,#ff2d00 224px,#ff0000 236px,#d70000 254px,#b60000 282px,#a20000 322px,#9c0000 400px)"></i><i style="background:linear-gradient(90deg,#fb0000 0px,#f70000 47px,#ff0300 74px,#ff1d00 96px,#ff4200 111px,#ff7000 122px,#ffa900 131px,#fff200 139px,#fffd00 140px,#baff45 146px,#12ffed 159px,#00fcff 161px,#00deff 165px,#00d2ff 169px,#00dcff 173px,#00fbff 177px,#12ffed 179px,#70ff8f 186px,#fdff02 196px,#ffa600 204px,#ff6300 212px,#ff2800 222px,#ff0100 232px,#d50000 250px,#b30000 277px,#9e0000 317px,#980000 400px)"></i><i style="background:linear-gradient(90deg,#fd0000 0px,#f90000 47px,#ff0400 71px,#ff1d00 94px,#ff4000 109px,#ff6b00 120px,#ffa000 129px,#ffe300 137px,#fdff02 140px,#7bff84 151px,#21ffde 159px,#02fffd 163px,#00f1ff 168px,#00faff 172px,#06fff9 174px,#32ffcd 179px,#a1ff5e 188px,#faff05 195px,#ffed00 197px,#ff9c00 205px,#ff5800 214px,#ff1f00 225px,#fe0000 234px,#d50000 252px,#b40000 279px,#a00000 319px,#9a0000 400px)"></i><i style="background:linear-gradient(90deg,#fc0000 0px,#f80000 48px,#ff0400 75px,#ff1d00 97px,#ff4200 112px,#ff7000 123px,#ffa900 132px,#fff100 140px,#fffb00 141px,#edff12 143px,#2affd5 159px,#06fff9 163px,#00f8ff 165px,#00ecff 169px,#00f2ff 172px,#00feff 174px,#1cffe3 177px,#61ff9e 182px,#feff01 192px,#ffa700 199px,#ff6400 206px,#ff2e00 214px,#ff0100 224px,#d40000 241px,#b40000 266px,#9d0000 306px,#970000 382px,#970000 400px)"></i><i style="background:linear-gradient(90deg,#fc0000 0px,#f70000 50px,#ff0400 78px,#ff1e00 100px,#ff4300 115px,#ff7300 126px,#ffb000 135px,#fffa00 143px,#efff10 145px,#3fffc0 160px,#18ffe7 165px,#0afff5 169px,#0ffff0 173px,#2dffd2 178px,#68ff97 184px,#f9ff06 196px,#fffa00 197px,#ff9f00 206px,#ff5c00 215px,#ff2200 226px,#fd0000 236px,#d40000 254px,#b30000 281px,#9e0000 321px,#990000 400px)"></i><i style="background:linear-gradient(90deg,#ff0100 0px,#fd0000 52px,#ff0800 75px,#ff2100 96px,#ff4400 110px,#ff7300 121px,#ffae00 130px,#fff900 138px,#faff05 139px,#8aff75 148px,#17ffe8 157px,#03fffc 159px,#00e1ff 164px,#00deff 168px,#00f0ff 172px,#01fffe 174px,#3bffc4 179px,#ffff00 193px,#ffaf00 200px,#ff6a00 208px,#ff3200 217px,#ff0200 229px,#d20000 249px,#b20000 277px,#9e0000 318px,#9b0000 400px)"></i><i style="background:linear-gradient(90deg,#ff0200 0px,#fd0000 56px,#ff0900 79px,#ff2300 100px,#ff4900 114px,#ff7600 124px,#ffb300 133px,#ffff00 141px,#45ffba 157px,#1dffe2 162px,#0ffff0 166px,#16ffe9 170px,#31ffce 174px,#69ff96 179px,#feff01 190px,#ffa500 198px,#ff6000 206px,#ff2b00 215px,#fe0000 226px,#d50000 243px,#b50000 269px,#9f0000 309px,#9b0000 391px,#9a0000 400px)"></i><i style="background:linear-gradient(90deg,#fd0000 0px,#f80000 52px,#ff0300 78px,#ff1c00 99px,#ff3f00 113px,#ff6f00 124px,#ffac00 133px,#fff900 141px,#faff05 142px,#31ffce 158px,#05fffa 163px,#00f9ff 165px,#00f4ff 169px,#04fffb 173px,#2dffd2 178px,#8eff71 186px,#f5ff0a 194px,#fffd00 195px,#ffa700 203px,#ff5f00 212px,#ff2700 222px,#ff0100 232px,#d40000 250px,#b20000 276px,#9d0000 315px,#970000 400px)"></i><i style="background:linear-gradient(90deg,#ff0000 0px,#f80000 55px,#ff0400 83px,#ff1c00 103px,#ff3f00 117px,#ff6c00 127px,#ffa800 136px,#fff300 144px,#fffe00 145px,#7dff82 157px,#56ffa9 162px,#49ffb6 166px,#4effb1 170px,#6bff94 175px,#afff50 182px,#ffff00 189px,#ffa200 198px,#ff5c00 207px,#ff2500 217px,#fe0000 227px,#d50000 244px,#b40000 270px,#9e0000 309px,#980000 385px,#990000 400px)"></i><i style="background:linear-gradient(90deg,#fe0000 0px,#f70000 55px,#ff0400 84px,#ff1d00 104px,#ff3f00 117px,#ff6c00 127px,#ffa300 135px,#ffee00 143px,#faff05 145px,#61ff9e 158px,#39ffc6 163px,#2dffd2 167px,#34ffcb 171px,#55ffaa 176px,#a1ff5e 183px,#f7ff08 190px,#fffb00 191px,#ff9c00 200px,#ff5500 209px,#ff1f00 219px,#ff0000 227px,#d50000 244px,#b30000 269px,#9d0000 307px,#960000 376px,#970000 400px)"></i><i style="background:linear-gradient(90deg,#fe0000 0px,#f60000 57px,#ff0300 87px,#ff1c00 107px,#ff3f00 120px,#ff6b00 130px,#ffa100 138px,#ffeb00 146px,#fdff02 148px,#63ff9c 161px,#37ffc8 166px,#28ffd7 170px,#2dffd2 174px,#49ffb6 178px,#84ff7b 183px,#f5ff0a 191px,#fffb00 192px,#ffa500 199px,#ff6300 206px,#ff2d00 214px,#ff0000 224px,#d60000 239px,#b40000 262px,#9c0000 299px,#940000 360px,#950000 400px)"></i><i style="background:linear-gradient(90deg,#fd0000 0px,#f50000 58px,#ff0300 89px,#ff1c00 107px,#ff4200 120px,#ff7300 130px,#ffae00 138px,#fffb00 146px,#cdff32 151px,#8bff74 158px,#70ff8f 163px,#6fff90 167px,#80ff7f 171px,#abff54 176px,#fcff03 183px,#ff8b00 194px,#ff4c00 202px,#ff1500 212px,#fd0000 218px,#d30000 234px,#b20000 258px,#990000 297px,#920000 359px,#940000 400px)"></i><i style="background:linear-gradient(90deg,#fe0000 0px,#f60000 59px,#ff0300 91px,#ff1c00 109px,#ff4100 122px,#ff7200 132px,#ffae00 140px,#ffff00 148px,#81ff7e 159px,#58ffa7 164px,#4bffb4 168px,#53ffac 172px,#71ff8e 176px,#b8ff47 182px,#fbff04 187px,#ffd000 191px,#ff8400 198px,#ff4400 206px,#ff0e00 216px,#fe0000 220px,#d50000 235px,#b30000 258px,#9b0000 295px,#930000 354px,#950000 400px)"></i><i style="background:linear-gradient(90deg,#ff0100 0px,#f80000 61px,#ff0400 88px,#ff1d00 107px,#ff4100 120px,#ff6d00 129px,#ffa800 137px,#ffef00 144px,#fffa00 145px,#ebff14 147px,#5effa1 158px,#38ffc7 162px,#24ffdb 166px,#27ffd8 170px,#3fffc0 174px,#75ff8a 179px,#fbff04 189px,#ffc500 194px,#ff7f00 201px,#ff4300 209px,#ff1000 219px,#fd0000 224px,#d30000 240px,#b20000 264px,#9b0000 302px,#940000 366px,#960000 400px)"></i><i style="background:linear-gradient(90deg,#ff0400 0px,#fa0000 53px,#ff0400 86px,#ff1b00 106px,#ff3c00 119px,#ff6a00 129px,#ffa200 137px,#fff100 145px,#fffd00 146px,#72ff8d 158px,#50ffaf 162px,#40ffbf 166px,#46ffb9 170px,#5fffa0 174px,#9dff62 180px,#fffd00 188px,#ffa500 196px,#ff6100 204px,#ff2b00 213px,#ff0200 223px,#d20000 242px,#b10000 268px,#9c0000 308px,#980000 383px,#990000 400px)"></i><i style="background:linear-gradient(90deg,#ff0400 0px,#fc0000 68px,#ff0700 88px,#ff1f00 106px,#ff4400 119px,#ff7500 129px,#ffb100 137px,#fff700 144px,#fbff04 145px,#71ff8e 157px,#4affb5 162px,#40ffbf 166px,#4bffb4 170px,#6aff95 174px,#b1ff4e 180px,#fffe00 186px,#ffa100 194px,#ff5b00 202px,#ff2500 211px,#ff0000 220px,#d50000 236px,#b30000 260px,#9c0000 298px,#950000 360px,#970000 400px)"></i><i style="background:linear-gradient(90deg,#ff0000 0px,#f60000 61px,#ff0300 90px,#ff1c00 107px,#ff4000 119px,#ff6d00 128px,#ffaa00 136px,#fffb00 144px,#e1ff1e 147px,#97ff68 154px,#75ff8a 159px,#6dff92 163px,#78ff87 167px,#9cff63 172px,#fcff03 181px,#ff9000 192px,#ff4c00 201px,#ff1700 211px,#ff0000 217px,#d30000 234px,#b00000 259px,#980000 297px,#910000 358px,#930000 400px)"></i><i style="background:linear-gradient(90deg,#fe0000 0px,#f40000 64px,#ff0300 96px,#ff1c00 112px,#ff3f00 123px,#ff6e00 132px,#ffae00 140px,#fcff03 148px,#98ff67 157px,#7aff85 161px,#6eff91 165px,#73ff8c 168px,#90ff6f 172px,#d8ff27 178px,#fffd00 181px,#ff9900 189px,#ff5700 196px,#ff2100 204px,#ff0100 211px,#d40000 226px,#b10000 249px,#970000 286px,#8d0000 342px,#910000 400px)"></i><i style="background:linear-gradient(90deg,#ff0600 0px,#fa0000 44px,#fe0000 85px,#ff0f00 105px,#ff2e00 120px,#ff5500 130px,#ff8c00 139px,#ffdb00 148px,#fbff04 152px,#bbff44 159px,#9fff60 164px,#9aff65 168px,#acff53 173px,#ddff22 179px,#fbff04 182px,#ffe400 185px,#ff8400 195px,#ff4300 204px,#ff0e00 215px,#fb0000 220px,#d20000 237px,#b10000 262px,#9b0000 301px,#960000 367px,#980000 400px)"></i><i style="background:linear-gradient(90deg,#fe0000 0px,#f30000 67px,#ff0300 99px,#ff1d00 115px,#ff4200 126px,#ff7400 135px,#ffbd00 144px,#fcff03 151px,#beff41 158px,#a7ff58 163px,#a7ff58 167px,#bbff44 171px,#f4ff0b 177px,#ffff00 178px,#ff8600 189px,#ff4500 197px,#ff1200 206px,#fc0000 211px,#d20000 226px,#b00000 249px,#960000 286px,#8c0000 342px,#900000 400px)"></i><i style="background:linear-gradient(90deg,#ff0500 0px,#f90000 46px,#fd0000 85px,#ff0c00 102px,#ff2700 116px,#ff4b00 126px,#ff8100 135px,#ffc600 143px,#fffb00 148px,#d8ff27 152px,#a1ff5e 158px,#8eff71 162px,#8eff71 166px,#a3ff5c 170px,#d4ff2b 175px,#f8ff07 178px,#fffa00 179px,#ff9200 188px,#ff4e00 196px,#ff1900 205px,#ff0000 211px,#d50000 227px,#b20000 251px,#990000 289px,#910000 348px,#950000 400px)"></i><i style="background:linear-gradient(90deg,#ff0600 0px,#fa0000 43px,#fb0000 86px,#ff0500 100px,#ff1e00 116px,#ff4300 127px,#ff7500 136px,#ffb700 144px,#ffff00 151px,#bcff43 158px,#a5ff5a 162px,#a1ff5e 166px,#afff50 170px,#d8ff27 175px,#fffc00 179px,#ff8800 190px,#ff4800 198px,#ff1200 208px,#fe0000 213px,#d40000 229px,#b20000 253px,#990000 291px,#920000 350px,#950000 400px)"></i><i style="background:linear-gradient(90deg,#ff0000 0px,#ef0000 75px,#f90000 103px,#ff0500 112px,#ff2100 125px,#ff4b00 135px,#ff8700 144px,#ffff00 158px,#e3ff1c 163px,#dfff20 167px,#ecff13 171px,#fffe00 174px,#ff6100 191px,#ff2500 200px,#ff0000 208px,#d60000 222px,#b20000 244px,#970000 278px,#8b0000 330px,#8f0000 400px)"></i><i style="background:linear-gradient(90deg,#ff0600 0px,#fa0000 42px,#f80000 88px,#ff0400 105px,#ff1e00 121px,#ff4300 132px,#ff7a00 142px,#ffe300 157px,#fff700 162px,#fff900 167px,#ffe500 172px,#ffa100 181px,#ff4c00 192px,#ff1600 202px,#fd0000 208px,#d40000 224px,#b10000 249px,#980000 287px,#900000 346px,#940000 400px)"></i><i style="background:linear-gradient(90deg,#ff0500 0px,#f80000 46px,#f80000 88px,#ff0400 104px,#ff1e00 119px,#ff4600 130px,#ff7500 138px,#ffb800 146px,#fffe00 153px,#c4ff3b 160px,#b3ff4c 164px,#b5ff4a 168px,#ceff31 173px,#f9ff06 178px,#fffb00 179px,#ff8400 191px,#ff4100 200px,#ff0e00 210px,#fe0000 214px,#d30000 230px,#af0000 254px,#970000 291px,#8f0000 349px,#920000 400px)"></i><i style="background:linear-gradient(90deg,#ff0800 0px,#fb0000 43px,#f80000 89px,#ff0300 106px,#ff1d00 121px,#ff4100 131px,#ff7000 139px,#ffc500 149px,#fffa00 155px,#f6ff09 157px,#e1ff1e 162px,#e4ff1b 166px,#fdff02 170px,#ffdb00 174px,#ff7200 184px,#ff3300 192px,#ff0600 201px,#f60000 205px,#cf0000 221px,#ad0000 248px,#960000 289px,#900000 352px,#950000 400px)"></i><i style="background:linear-gradient(90deg,#ff0600 0px,#f80000 41px,#f20000 92px,#ff0200 115px,#ff1f00 129px,#ff4700 139px,#ff8100 148px,#ffde00 160px,#fff600 165px,#fff600 170px,#ffe100 175px,#ff9100 185px,#ff4400 195px,#ff0f00 205px,#fe0000 209px,#d50000 224px,#b00000 248px,#970000 284px,#8e0000 341px,#920000 400px)"></i><i style="background:linear-gradient(90deg,#ff0a00 0px,#fb0000 49px,#f90000 92px,#ff0400 107px,#ff1c00 121px,#ff3f00 131px,#ff6e00 139px,#ffc100 149px,#fffa00 156px,#f8ff07 158px,#ecff13 162px,#f5ff0a 167px,#ffff00 169px,#ffcb00 176px,#ff6500 188px,#ff2d00 197px,#ff0200 207px,#d00000 227px,#ae0000 254px,#970000 295px,#920000 360px,#960000 400px)"></i><i style="background:linear-gradient(90deg,#ff0700 0px,#fa0000 40px,#f30000 90px,#ff0300 112px,#ff1f00 125px,#ff4500 134px,#ff8000 143px,#ffcc00 153px,#ffe100 158px,#ffe100 162px,#ffcc00 167px,#ff4100 185px,#ff0d00 195px,#fd0000 199px,#d60000 214px,#b10000 240px,#970000 278px,#8d0000 335px,#920000 400px)"></i><i style="background:linear-gradient(90deg,#ff0800 0px,#fa0000 43px,#f60000 89px,#ff0300 108px,#ff1d00 122px,#ff4300 132px,#ff7b00 141px,#fff800 156px,#fbff04 158px,#eeff11 162px,#f4ff0b 167px,#fffb00 170px,#ffbd00 178px,#ff5a00 190px,#ff2000 200px,#fe0000 208px,#d40000 224px,#af0000 249px,#960000 286px,#8d0000 344px,#920000 400px)"></i><i style="background:linear-gradient(90deg,#ff0700 0px,#fa0000 39px,#f10000 92px,#ff0200 116px,#ff1d00 128px,#ff4300 137px,#ff8000 146px,#ffd900 157px,#ffef00 162px,#ffef00 166px,#ffda00 171px,#ff9500 180px,#ff4800 190px,#ff1200 200px,#fd0000 205px,#d50000 220px,#af0000 245px,#960000 281px,#8c0000 337px,#910000 400px)"></i><i style="background:linear-gradient(90deg,#ff0600 0px,#fa0000 37px,#ef0000 93px,#fb0000 115px,#ff0600 122px,#ff2500 133px,#ff5200 142px,#ffaf00 154px,#ffd600 160px,#ffe100 164px,#ffd900 169px,#ffb800 175px,#ff4200 191px,#ff0e00 201px,#fe0000 205px,#d40000 220px,#af0000 244px,#950000 279px,#8a0000 334px,#900000 400px)"></i><i style="background:linear-gradient(90deg,#ff0700 0px,#fa0000 38px,#f00000 92px,#fd0000 114px,#ff1200 125px,#ff3600 135px,#ff6c00 144px,#ffd100 157px,#ffe600 162px,#ffe500 166px,#ffcf00 171px,#ff4300 189px,#ff0d00 199px,#fd0000 203px,#d40000 218px,#ae0000 243px,#940000 279px,#8a0000 335px,#900000 400px)"></i><i style="background:linear-gradient(90deg,#ff0a00 0px,#fb0000 43px,#f00000 96px,#fb0000 117px,#ff0700 124px,#ff2600 135px,#ff5400 144px,#ffb400 158px,#ffc400 163px,#ffbe00 168px,#ff9e00 174px,#ff3600 189px,#ff0600 199px,#fa0000 202px,#d20000 218px,#ad0000 245px,#940000 283px,#8c0000 343px,#920000 400px)"></i><i style="background:linear-gradient(90deg,#ff0700 0px,#fa0000 37px,#ed0000 94px,#f90000 116px,#ff0500 123px,#ff2500 134px,#ff5300 143px,#ffa900 156px,#ffb900 161px,#ffb500 166px,#ff9700 173px,#ff2c00 191px,#ff0200 201px,#d00000 220px,#aa0000 247px,#910000 285px,#890000 345px,#8f0000 400px)"></i><i style="background:linear-gradient(90deg,#ff0700 0px,#fa0000 37px,#ec0000 95px,#f70000 116px,#ff0400 124px,#ff2300 134px,#ff5400 143px,#ffa800 155px,#ffb800 160px,#ffaf00 165px,#ff8b00 171px,#ff2e00 184px,#ff0200 193px,#d30000 210px,#ad0000 237px,#920000 275px,#880000 333px,#8e0000 400px)"></i><i style="background:linear-gradient(90deg,#ff0600 0px,#f90000 34px,#e80000 97px,#f30000 119px,#ff0300 128px,#ff2300 138px,#ff5d00 149px,#ff8800 157px,#ff9100 162px,#ff8600 167px,#ff5100 176px,#ff1100 187px,#fe0000 191px,#d80000 204px,#b30000 228px,#940000 265px,#860000 318px,#8c0000 400px)"></i><i style="background:linear-gradient(90deg,#ff0700 0px,#fa0000 35px,#e90000 97px,#f20000 118px,#ff0400 128px,#ff2600 138px,#ff5a00 147px,#ff9400 156px,#ffa100 161px,#ff9800 166px,#ff7000 173px,#ff2200 185px,#fd0000 193px,#d60000 207px,#b00000 232px,#930000 268px,#860000 322px,#8d0000 400px)"></i><i style="background:linear-gradient(90deg,#ff0700 0px,#fa0000 34px,#e60000 101px,#ef0000 122px,#ff0300 133px,#ff2400 142px,#ff8100 158px,#ff8d00 163px,#ff8400 168px,#ff5b00 176px,#ff1200 189px,#fd0000 194px,#d50000 208px,#af0000 233px,#930000 269px,#860000 324px,#8c0000 400px)"></i><i style="background:linear-gradient(90deg,#ff0c00 0px,#fb0000 45px,#ec0000 100px,#f60000 120px,#ff0400 128px,#ff2300 138px,#ff7e00 156px,#ff8600 161px,#ff7a00 166px,#ff0f00 185px,#fe0000 189px,#d80000 203px,#b20000 230px,#950000 269px,#890000 326px,#900000 400px)"></i><i style="background:linear-gradient(90deg,#ff0900 0px,#fb0000 37px,#e50000 105px,#ee0000 126px,#ff0300 137px,#ff2c00 148px,#ff5500 158px,#ff5900 164px,#ff4400 171px,#ff0100 186px,#d60000 201px,#b00000 228px,#930000 267px,#860000 323px,#8d0000 400px)"></i><i style="background:linear-gradient(90deg,#ff0c00 0px,#fb0000 42px,#e70000 105px,#f00000 125px,#ff0300 135px,#ff2c00 146px,#ff5800 156px,#ff6000 161px,#ff5400 167px,#fe0000 186px,#d90000 200px,#b30000 227px,#950000 266px,#880000 322px,#8f0000 400px)"></i><i style="background:linear-gradient(90deg,#ff0e00 0px,#fc0000 47px,#ea0000 104px,#f40000 124px,#ff0300 132px,#ff2800 143px,#ff5500 154px,#ff5900 160px,#ff4600 167px,#ff0200 183px,#d60000 200px,#ae0000 232px,#930000 272px,#890000 332px,#910000 400px)"></i><i style="background:linear-gradient(90deg,#ff0b00 0px,#fb0000 40px,#e60000 104px,#ef0000 123px,#ff0200 133px,#ff2500 142px,#ff6c00 155px,#ff7300 160px,#ff6200 166px,#ff0900 183px,#fc0000 186px,#d80000 199px,#b20000 225px,#930000 264px,#860000 319px,#8d0000 400px)"></i><i style="background:linear-gradient(90deg,#ff0c00 0px,#fc0000 42px,#e40000 109px,#ec0000 128px,#ff0300 139px,#ff3700 152px,#ff4d00 159px,#ff4900 165px,#ff2500 175px,#fc0000 185px,#d60000 200px,#af0000 229px,#920000 268px,#860000 326px,#8e0000 400px)"></i><i style="background:linear-gradient(90deg,#ff1000 0px,#fc0000 50px,#e50000 112px,#ef0000 131px,#ff0100 140px,#ff3400 156px,#ff3500 162px,#ff1c00 171px,#ff0000 179px,#d90000 194px,#b30000 225px,#950000 267px,#890000 326px,#910000 400px)"></i><i style="background:linear-gradient(90deg,#ff0f00 0px,#fc0000 46px,#e20000 113px,#ea0000 131px,#ff0200 142px,#ff2800 155px,#ff2700 162px,#fc0000 177px,#d60000 193px,#ae0000 227px,#920000 269px,#870000 330px,#8f0000 400px)"></i><i style="background:linear-gradient(90deg,#ff1000 0px,#fc0000 49px,#e30000 114px,#ec0000 132px,#ff0100 142px,#ff2d00 156px,#ff2b00 162px,#ff0500 174px,#f70000 178px,#d50000 192px,#af0000 225px,#920000 269px,#880000 331px,#900000 400px)"></i><i style="background:linear-gradient(90deg,#ff1200 0px,#fc0000 52px,#e30000 114px,#ec0000 132px,#ff0300 142px,#ff3000 156px,#ff2f00 162px,#ff0a00 174px,#fb0000 178px,#d70000 193px,#b10000 225px,#940000 268px,#890000 329px,#910000 400px)"></i><i style="background:linear-gradient(90deg,#ff0f00 0px,#fb0000 46px,#dd0000 119px,#e50000 137px,#ff0300 151px,#ff0e00 159px,#fc0000 170px,#d30000 188px,#ad0000 223px,#8f0000 269px,#850000 332px,#8e0000 400px)"></i><i style="background:linear-gradient(90deg,#ff1000 0px,#fc0000 47px,#dc0000 120px,#e30000 137px,#ff0100 151px,#ff0c00 159px,#fd0000 168px,#d30000 186px,#af0000 220px,#900000 268px,#860000 331px,#8e0000 400px)"></i><i style="background:linear-gradient(90deg,#ff1400 0px,#fc0000 54px,#df0000 121px,#e80000 138px,#ff0300 151px,#ff0c00 159px,#fc0000 168px,#d40000 186px,#ae0000 223px,#920000 270px,#890000 335px,#920000 400px)"></i><i style="background:linear-gradient(90deg,#ff0e00 0px,#fc0000 43px,#d80000 122px,#e10000 139px,#fc0000 156px,#f00000 166px,#ca0000 186px,#9a0000 241px,#870000 289px,#850000 364px,#8c0000 400px)"></i><i style="background:linear-gradient(90deg,#ff0d00 0px,#fc0000 40px,#d40000 126px,#db0000 143px,#ee0000 158px,#df0000 170px,#bf0000 191px,#8f0000 256px,#820000 313px,#890000 396px,#8a0000 400px)"></i><i style="background:linear-gradient(90deg,#ff1000 0px,#fc0000 47px,#d70000 126px,#de0000 142px,#f00000 157px,#de0000 171px,#bf0000 194px,#910000 258px,#840000 317px,#8d0000 400px)"></i><i style="background:linear-gradient(90deg,#ff1000 0px,#fb0000 46px,#d40000 128px,#dc0000 146px,#e30000 157px,#bb0000 192px,#8d0000 263px,#830000 327px,#8c0000 400px)"></i><i style="background:linear-gradient(90deg,#ff1200 0px,#fb0000 50px,#d40000 131px,#de0000 150px,#dd0000 161px,#bb0000 192px,#8e0000 264px,#850000 329px,#8e0000 400px)"></i><i style="background:linear-gradient(90deg,#ff1000 0px,#fb0000 46px,#cf0000 134px,#d30000 159px,#b20000 199px,#8b0000 267px,#820000 335px,#8c0000 400px)"></i><i style="background:linear-gradient(90deg,#ff1300 0px,#fc0000 51px,#cd0000 140px,#c80000 163px,#8d0000 265px,#850000 333px,#8e0000 400px)"></i><i style="background:linear-gradient(90deg,#ff1100 0px,#fb0000 47px,#c50000 147px,#990000 234px,#850000 285px,#850000 364px,#8c0000 400px)"></i><i style="background:linear-gradient(90deg,#ff1200 0px,#fc0000 49px,#bb0000 165px,#980000 236px,#850000 288px,#860000 368px,#8c0000 400px)"></i><i style="background:linear-gradient(90deg,#ff1200 0px,#fc0000 48px,#b80000 168px,#880000 274px,#840000 350px,#8c0000 400px)"></i><i style="background:linear-gradient(90deg,#ff1600 0px,#fc0000 55px,#bb0000 169px,#8b0000 273px,#870000 350px,#8f0000 400px)"></i><i style="background:linear-gradient(90deg,#ff1200 0px,#fb0000 49px,#b50000 172px,#870000 272px,#830000 349px,#8c0000 400px)"></i><i style="background:linear-gradient(90deg,#ff1500 0px,#fc0000 53px,#b60000 174px,#890000 271px,#850000 349px,#8e0000 400px)"></i><i style="background:linear-gradient(90deg,#ff1100 0px,#fc0000 45px,#c40000 137px,#850000 267px,#800000 344px,#890000 400px)"></i><i style="background:linear-gradient(90deg,#ff1000 0px,#fc0000 44px,#c90000 128px,#890000 252px,#800000 314px,#880000 397px,#890000 400px)"></i><i style="background:linear-gradient(90deg,#ff1100 0px,#fc0000 45px,#cc0000 125px,#9d0000 210px,#830000 272px,#810000 355px,#890000 400px)"></i><i style="background:linear-gradient(90deg,#ff1300 0px,#fc0000 49px,#cc0000 127px,#9a0000 218px,#840000 276px,#840000 361px,#8b0000 400px)"></i><i style="background:linear-gradient(90deg,#ff1500 0px,#fc0000 52px,#ce0000 127px,#9d0000 211px,#860000 273px,#850000 359px,#8c0000 400px)"></i><i style="background:linear-gradient(90deg,#ff0f00 0px,#fb0000 41px,#d00000 116px,#a00000 192px,#810000 265px,#830000 381px,#870000 400px)"></i><i style="background:linear-gradient(90deg,#ff1600 0px,#fc0000 54px,#d10000 124px,#a00000 202px,#870000 268px,#850000 355px,#8d0000 400px)"></i><i style="background:linear-gradient(90deg,#ff1400 0px,#fc0000 50px,#d30000 119px,#9f0000 197px,#850000 264px,#830000 351px,#8b0000 400px)"></i><i style="background:linear-gradient(90deg,#ff1100 0px,#fc0000 44px,#d40000 114px,#9c0000 196px,#820000 262px,#830000 368px,#890000 400px)"></i><i style="background:linear-gradient(90deg,#ff1500 0px,#fc0000 52px,#d60000 117px,#9c0000 198px,#850000 262px,#840000 353px,#8c0000 400px)"></i><i style="background:linear-gradient(90deg,#ff1300 0px,#fc0000 47px,#d70000 113px,#990000 198px,#830000 260px,#820000 354px,#8a0000 400px)"></i><i style="background:linear-gradient(90deg,#ff1400 0px,#fc0000 50px,#d90000 113px,#980000 199px,#840000 259px,#840000 354px,#8b0000 400px)"></i><b class="fr"></b></div><div class="tk2" style="left:516.6px;top:947px"></div><div class="yt" style="left:3.2px;top:527.7px">90</div><div class="yt" style="left:3.2px;top:594.533px">75</div><div class="yt" style="left:3.2px;top:661.367px">60</div><div class="yt" style="left:3.2px;top:728.2px">45</div><div class="yt" style="left:3.2px;top:795.033px">30</div><div class="yt" style="left:3.2px;top:861.867px">15</div><div class="yt" style="left:3.2px;top:928.7px">0</div><div class="xt" style="left:66.3px;top:965.8px">225</div><div class="xt" style="left:166.15px;top:965.8px">230</div><div class="xt" style="left:266px;top:965.8px">235</div><div class="xt" style="left:365.85px;top:965.8px">240</div><div class="xt" style="left:465.7px;top:965.8px">245</div><div class="xl" style="left:67.5px;top:1016.7px">Frequency (THz)</div><div class="yl" style="left:-177.8px;top:723.7px"><span class="th">&#952;</span> (Degree)</div><div class="ann" style="left:129.7px;top:839.36px"><i>d</i><sub>2</sub><span class="eq">=</span>220 nm</div><div class="ann r2" style="left:129.7px;top:886.66px">R<sub>-Z</sub></div><div class="let" style="left:455.6px;top:888px">(c)</div><div class="cb" style="left:568.5px;top:551.5px;width:48.5px;height:400px;background:linear-gradient(180deg,#800000 0.00px,#800000 6.25px,#8f0000 6.25px,#8f0000 12.50px,#9f0000 12.50px,#9f0000 18.75px,#af0000 18.75px,#af0000 25.00px,#bf0000 25.00px,#bf0000 31.25px,#cf0000 31.25px,#cf0000 37.50px,#df0000 37.50px,#df0000 43.75px,#ef0000 43.75px,#ef0000 50.00px,#ff0000 50.00px,#ff0000 56.25px,#ff1000 56.25px,#ff1000 62.50px,#ff2000 62.50px,#ff2000 68.75px,#ff3000 68.75px,#ff3000 75.00px,#ff4000 75.00px,#ff4000 81.25px,#ff5000 81.25px,#ff5000 87.50px,#ff6000 87.50px,#ff6000 93.75px,#ff7000 93.75px,#ff7000 100.00px,#ff8000 100.00px,#ff8000 106.25px,#ff8f00 106.25px,#ff8f00 112.50px,#ff9f00 112.50px,#ff9f00 118.75px,#ffaf00 118.75px,#ffaf00 125.00px,#ffbf00 125.00px,#ffbf00 131.25px,#ffcf00 131.25px,#ffcf00 137.50px,#ffdf00 137.50px,#ffdf00 143.75px,#ffef00 143.75px,#ffef00 150.00px,#ffff00 150.00px,#ffff00 156.25px,#efff10 156.25px,#efff10 162.50px,#dfff20 162.50px,#dfff20 168.75px,#cfff30 168.75px,#cfff30 175.00px,#bfff40 175.00px,#bfff40 181.25px,#afff50 181.25px,#afff50 187.50px,#9fff60 187.50px,#9fff60 193.75px,#8fff70 193.75px,#8fff70 200.00px,#80ff80 200.00px,#80ff80 206.25px,#70ff8f 206.25px,#70ff8f 212.50px,#60ff9f 212.50px,#60ff9f 218.75px,#50ffaf 218.75px,#50ffaf 225.00px,#40ffbf 225.00px,#40ffbf 231.25px,#30ffcf 231.25px,#30ffcf 237.50px,#20ffdf 237.50px,#20ffdf 243.75px,#10ffef 243.75px,#10ffef 250.00px,#00ffff 250.00px,#00ffff 256.25px,#00efff 256.25px,#00efff 262.50px,#00dfff 262.50px,#00dfff 268.75px,#00cfff 268.75px,#00cfff 275.00px,#00bfff 275.00px,#00bfff 281.25px,#00afff 281.25px,#00afff 287.50px,#009fff 287.50px,#009fff 293.75px,#008fff 293.75px,#008fff 300.00px,#0080ff 300.00px,#0080ff 306.25px,#0070ff 306.25px,#0070ff 312.50px,#0060ff 312.50px,#0060ff 318.75px,#0050ff 318.75px,#0050ff 325.00px,#0040ff 325.00px,#0040ff 331.25px,#0030ff 331.25px,#0030ff 337.50px,#0020ff 337.50px,#0020ff 343.75px,#0010ff 343.75px,#0010ff 350.00px,#0000ff 350.00px,#0000ff 356.25px,#0000ef 356.25px,#0000ef 362.50px,#0000df 362.50px,#0000df 368.75px,#0000cf 368.75px,#0000cf 375.00px,#0000bf 375.00px,#0000bf 381.25px,#0000af 381.25px,#0000af 387.50px,#00009f 387.50px,#00009f 393.75px,#00008f 393.75px,#00008f 400.00px)"></div><div class="tk" style="left:611px;top:859.333px"></div><div class="cl" style="left:627.4px;top:838.083px">0.2</div><div class="tk" style="left:611px;top:766.741px"></div><div class="cl" style="left:627.4px;top:745.491px">0.4</div><div class="tk" style="left:611px;top:674.148px"></div><div class="cl" style="left:627.4px;top:652.898px">0.6</div><div class="tk" style="left:611px;top:581.556px"></div><div class="cl" style="left:627.4px;top:560.306px">0.8</div><div class="plot s2" style="left:934px;top:551px"><i style="background:linear-gradient(90deg,#ff4e00 0px,#ff1b00 106px,#fc0000 147px,#d30000 216px,#c50000 282px,#cb0000 385px,#ce0000 400px)"></i><i style="background:linear-gradient(90deg,#ff4d00 0px,#ff1b00 106px,#fc0000 147px,#d20000 221px,#c40000 287px,#cb0000 388px,#cd0000 400px)"></i><i style="background:linear-gradient(90deg,#ff5000 0px,#ff1d00 106px,#fc0000 151px,#d20000 231px,#c60000 299px,#d00000 398px,#d00000 400px)"></i><i style="background:linear-gradient(90deg,#ff5000 0px,#ff1e00 105px,#fc0000 152px,#d10000 240px,#c70000 311px,#d10000 400px)"></i><i style="background:linear-gradient(90deg,#ff5000 0px,#ff1e00 105px,#fc0000 153px,#cf0000 249px,#c70000 325px,#d00000 400px)"></i><i style="background:linear-gradient(90deg,#ff4d00 0px,#ff1b00 105px,#fc0000 149px,#cb0000 254px,#c50000 333px,#ce0000 400px)"></i><i style="background:linear-gradient(90deg,#ff4f00 0px,#ff1d00 104px,#fc0000 152px,#cc0000 260px,#c70000 342px,#d00000 400px)"></i><i style="background:linear-gradient(90deg,#ff4d00 0px,#ff1c00 104px,#fc0000 151px,#cb0000 263px,#c60000 345px,#cf0000 400px)"></i><i style="background:linear-gradient(90deg,#ff4800 0px,#ff1600 104px,#fc0000 142px,#c50000 264px,#c00000 345px,#c90000 400px)"></i><i style="background:linear-gradient(90deg,#ff4a00 0px,#ff1900 103px,#fc0000 147px,#c70000 268px,#c40000 350px,#cb0000 400px)"></i><i style="background:linear-gradient(90deg,#ff5100 0px,#ff2000 103px,#fd0000 160px,#ce0000 271px,#cb0000 353px,#d30000 400px)"></i><i style="background:linear-gradient(90deg,#ff5100 0px,#ff2000 102px,#fd0000 161px,#ce0000 273px,#cb0000 355px,#d30000 400px)"></i><i style="background:linear-gradient(90deg,#ff4d00 0px,#ff1c00 102px,#fd0000 155px,#ca0000 274px,#c80000 356px,#cf0000 400px)"></i><i style="background:linear-gradient(90deg,#ff4a00 0px,#ff1a00 101px,#fc0000 151px,#c80000 275px,#c50000 356px,#cd0000 400px)"></i><i style="background:linear-gradient(90deg,#ff4d00 0px,#ff1d00 101px,#fd0000 157px,#db0000 234px,#c90000 288px,#cb0000 372px,#d00000 400px)"></i><i style="background:linear-gradient(90deg,#ff4c00 0px,#ff1c00 101px,#fd0000 157px,#de0000 229px,#ca0000 283px,#c90000 365px,#cf0000 400px)"></i><i style="background:linear-gradient(90deg,#ff4b00 0px,#ff1c00 100px,#fd0000 156px,#df0000 226px,#c90000 280px,#c70000 360px,#ce0000 400px)"></i><i style="background:linear-gradient(90deg,#ff4c00 0px,#ff1d00 101px,#ff0600 152px,#fa0000 179px,#cd0000 273px,#c80000 349px,#d00000 400px)"></i><i style="background:linear-gradient(90deg,#ff4f00 0px,#ff1400 133px,#ff1b00 158px,#fe0000 188px,#d20000 266px,#ca0000 337px,#d30000 400px)"></i><i style="background:linear-gradient(90deg,#ff4800 0px,#ff0e00 133px,#ff1500 158px,#fc0000 183px,#cd0000 264px,#c40000 332px,#cd0000 400px)"></i><i style="background:linear-gradient(90deg,#ff4900 0px,#ff1100 131px,#ff1d00 150px,#ff1d00 161px,#fe0000 187px,#cf0000 262px,#c50000 328px,#ce0000 400px)"></i><i style="background:linear-gradient(90deg,#ff4900 0px,#ff1400 127px,#ff1d00 144px,#ff2b00 157px,#ff1500 173px,#fd0000 192px,#d10000 260px,#c60000 323px,#ce0000 400px)"></i><i style="background:linear-gradient(90deg,#ff4b00 0px,#ff1700 126px,#ff2000 143px,#ff3200 158px,#ff2100 171px,#ff0300 193px,#d30000 264px,#c90000 329px,#d10000 400px)"></i><i style="background:linear-gradient(90deg,#ff4900 0px,#ff1800 122px,#ff2100 139px,#ff3c00 156px,#ff3100 166px,#ff0a00 187px,#fc0000 200px,#d30000 260px,#c70000 322px,#cf0000 400px)"></i><i style="background:linear-gradient(90deg,#ff4700 0px,#ff1600 124px,#ff1f00 142px,#ff3100 157px,#ff2400 169px,#ff0300 191px,#e80000 224px,#cd0000 273px,#c60000 343px,#ce0000 400px)"></i><i style="background:linear-gradient(90deg,#ff4600 0px,#ff1900 118px,#ff2300 136px,#ff4a00 156px,#ff4200 165px,#ff1000 187px,#fd0000 202px,#d40000 256px,#c60000 313px,#cd0000 399px,#cd0000 400px)"></i><i style="background:linear-gradient(90deg,#ff4900 0px,#ff1c00 118px,#ff2500 136px,#ff4e00 157px,#ff4600 165px,#ff1500 185px,#fd0000 204px,#d50000 259px,#c90000 318px,#d00000 400px)"></i><i style="background:linear-gradient(90deg,#ff4600 0px,#ff1b00 117px,#ff2400 135px,#ff4400 150px,#ff5000 158px,#ff4500 166px,#ff1500 185px,#fd0000 203px,#d40000 258px,#c70000 316px,#ce0000 400px)"></i><i style="background:linear-gradient(90deg,#ff4c00 0px,#ff2500 111px,#ff2e00 130px,#ff4500 141px,#ff7a00 156px,#ff7a00 162px,#ff5e00 171px,#ff2d00 185px,#ff0d00 202px,#fc0000 216px,#db0000 261px,#ce0000 319px,#d50000 400px)"></i><i style="background:linear-gradient(90deg,#ff4900 0px,#ff2400 107px,#ff2d00 126px,#ff4500 138px,#ff8600 155px,#ff8800 160px,#ff7400 167px,#ff3500 182px,#ff1400 196px,#fd0000 213px,#d90000 258px,#cb0000 313px,#d20000 400px)"></i><i style="background:linear-gradient(90deg,#ff4600 0px,#ff2000 110px,#ff2800 129px,#ff4000 141px,#ff7300 156px,#ff7400 162px,#ff5b00 171px,#ff2600 187px,#ff0500 206px,#f80000 217px,#d60000 261px,#c90000 318px,#d00000 400px)"></i><i style="background:linear-gradient(90deg,#ff4800 0px,#ff2300 109px,#ff2c00 129px,#ff4400 141px,#ff7b00 157px,#ff7c00 163px,#ff6000 172px,#ff2d00 186px,#ff0c00 203px,#fb0000 216px,#d90000 260px,#cc0000 316px,#d20000 400px)"></i><i style="background:linear-gradient(90deg,#ff4b00 0px,#ff2800 105px,#ff3100 126px,#ff4900 138px,#ff7d00 151px,#ff9400 158px,#ff9200 164px,#ff6f00 173px,#ff3a00 186px,#ff1600 201px,#fd0000 219px,#dd0000 260px,#ce0000 315px,#d50000 400px)"></i><i style="background:linear-gradient(90deg,#ff4600 0px,#ff2400 106px,#ff2d00 127px,#ff4400 139px,#ff8000 156px,#ff8400 162px,#ff7100 170px,#ff3100 188px,#ff0d00 206px,#fd0000 218px,#da0000 259px,#cb0000 313px,#d20000 400px)"></i><i style="background:linear-gradient(90deg,#ff4b00 0px,#ff2a00 104px,#ff3300 125px,#ff4a00 137px,#ff7500 148px,#ff9d00 157px,#ffa300 162px,#ff9300 169px,#ff4200 188px,#ff1c00 203px,#fd0000 224px,#de0000 263px,#d00000 318px,#d70000 400px)"></i><i style="background:linear-gradient(90deg,#ff4700 0px,#ff2700 102px,#ff3100 124px,#ff4a00 137px,#ff7600 148px,#ffa100 158px,#ffa400 164px,#ff9100 171px,#ff4000 190px,#ff1a00 205px,#fd0000 223px,#dd0000 260px,#cd0000 312px,#d30000 399px,#d30000 400px)"></i><i style="background:linear-gradient(90deg,#ff4000 0px,#ff2300 98px,#ff2b00 120px,#ff4200 133px,#ff6e00 145px,#ff9500 155px,#ff9900 161px,#ff8400 168px,#ff3b00 184px,#ff1500 198px,#fd0000 213px,#d90000 253px,#c80000 303px,#ca0000 384px,#cc0000 400px)"></i><i style="background:linear-gradient(90deg,#ff4300 0px,#ff2700 96px,#ff3000 119px,#ff4800 132px,#ff6e00 142px,#ffb600 156px,#ffbf00 161px,#ffb600 166px,#ff8800 175px,#ff4a00 187px,#ff2300 199px,#ff0000 219px,#dd0000 255px,#cb0000 304px,#ce0000 385px,#d00000 400px)"></i><i style="background:linear-gradient(90deg,#ff4100 0px,#ff2600 97px,#ff2f00 119px,#ff4500 132px,#ff6a00 142px,#ffb500 156px,#ffc100 161px,#ffb700 167px,#ff8500 177px,#ff4900 189px,#ff2000 202px,#fe0000 221px,#dc0000 256px,#cb0000 305px,#cd0000 386px,#cf0000 400px)"></i><i style="background:linear-gradient(90deg,#ff4700 0px,#ff2d00 94px,#ff3600 117px,#ff4e00 130px,#ff7500 140px,#ffcc00 155px,#ffd700 160px,#ffcc00 165px,#ff9b00 173px,#ff5c00 183px,#ff3400 193px,#ff1100 209px,#fc0000 224px,#dd0000 263px,#cf0000 318px,#d50000 400px)"></i><i style="background:linear-gradient(90deg,#ff4800 0px,#ff2e00 94px,#ff3700 118px,#ff5000 132px,#ff7400 142px,#ffc700 158px,#ffd100 163px,#ffc700 168px,#ff9b00 176px,#ff5a00 187px,#ff3000 198px,#ff0d00 215px,#fc0000 227px,#df0000 264px,#d10000 318px,#d60000 400px)"></i><i style="background:linear-gradient(90deg,#ff4300 0px,#ff2c00 91px,#ff3600 115px,#ff4d00 128px,#ff7100 138px,#ffae00 148px,#ffe600 157px,#fff300 162px,#ffea00 167px,#ffc300 174px,#ff6c00 187px,#ff3b00 198px,#ff1500 213px,#fc0000 228px,#de0000 262px,#ce0000 313px,#d20000 400px)"></i><i style="background:linear-gradient(90deg,#ff4400 0px,#ff2c00 92px,#ff3500 116px,#ff4c00 130px,#ff6f00 140px,#ffb400 152px,#ffda00 159px,#ffe300 164px,#ffd600 170px,#ff9d00 180px,#ff5a00 192px,#ff2e00 204px,#ff0800 223px,#fa0000 232px,#de0000 266px,#cf0000 318px,#d40000 400px)"></i><i style="background:linear-gradient(90deg,#ff3f00 0px,#ff2800 91px,#ff3200 116px,#ff4a00 130px,#ff6e00 140px,#ffd400 158px,#ffe000 163px,#ffd700 168px,#ffae00 175px,#ff5e00 187px,#ff3300 197px,#ff0e00 212px,#fd0000 223px,#dc0000 258px,#cc0000 308px,#d00000 397px,#d00000 400px)"></i><i style="background:linear-gradient(90deg,#ff4100 0px,#ff2c00 87px,#ff3700 112px,#ff4f00 126px,#ff7400 136px,#ffab00 145px,#fffe00 156px,#eaff15 161px,#eaff15 165px,#fffd00 170px,#ff7a00 186px,#ff4900 195px,#ff2100 207px,#ff0000 225px,#df0000 258px,#ce0000 307px,#d10000 393px,#d20000 400px)"></i><i style="background:linear-gradient(90deg,#ff4200 0px,#ff2f00 85px,#ff3900 110px,#ff5000 124px,#ff7400 134px,#ffa800 143px,#fff400 154px,#fdff02 157px,#f9ff06 162px,#fffa00 166px,#ffc900 174px,#ff7800 186px,#ff4500 197px,#ff1c00 212px,#fe0000 230px,#e00000 264px,#d00000 315px,#d40000 400px)"></i><i style="background:linear-gradient(90deg,#ff4200 0px,#ff2f00 84px,#ff3a00 110px,#ff5100 124px,#ff7300 134px,#ffa700 143px,#fffd00 154px,#dfff20 160px,#dbff24 164px,#e8ff17 169px,#ffff00 173px,#ff8500 190px,#ff4e00 201px,#ff2300 215px,#ff0000 235px,#e10000 267px,#d10000 317px,#d50000 400px)"></i><i style="background:linear-gradient(90deg,#ff3e00 0px,#ff2c00 83px,#ff3700 109px,#ff4f00 124px,#ff7200 134px,#ffa600 143px,#feff01 155px,#e3ff1c 160px,#ddff22 165px,#f2ff0d 170px,#fffe00 172px,#ff8800 186px,#ff5200 195px,#ff2900 206px,#ff0400 224px,#f60000 234px,#da0000 269px,#cc0000 323px,#d10000 400px)"></i><i style="background:linear-gradient(90deg,#ff4400 0px,#ff3400 80px,#ff3f00 106px,#ff5600 121px,#ff7a00 132px,#ffab00 141px,#fffb00 151px,#eaff15 154px,#c1ff3e 160px,#b4ff4b 165px,#bfff40 170px,#e7ff18 176px,#fffd00 179px,#ff9f00 190px,#ff6700 199px,#ff3a00 210px,#ff1300 226px,#fd0000 240px,#e10000 273px,#d30000 325px,#d70000 400px)"></i><i style="background:linear-gradient(90deg,#ff4000 0px,#ff2f00 81px,#ff3900 108px,#ff5100 123px,#ff7200 133px,#ffa400 142px,#feff01 153px,#c7ff38 160px,#b6ff49 164px,#b6ff49 168px,#cfff30 173px,#faff05 178px,#fff100 180px,#ff9700 190px,#ff5e00 199px,#ff3100 210px,#ff0c00 226px,#fc0000 236px,#df0000 268px,#d00000 318px,#d40000 400px)"></i><i style="background:linear-gradient(90deg,#ff3e00 0px,#ff2f00 78px,#ff3a00 105px,#ff5300 121px,#ff7600 132px,#ffa700 141px,#fffa00 152px,#f4ff0b 154px,#ceff31 160px,#c1ff3e 165px,#caff35 170px,#eeff11 176px,#feff01 178px,#ff9100 192px,#ff5800 202px,#ff2a00 215px,#ff0300 234px,#de0000 272px,#cf0000 323px,#d20000 400px)"></i><i style="background:linear-gradient(90deg,#ff4100 0px,#ff3200 77px,#ff3d00 104px,#ff5500 119px,#ff7900 130px,#ffac00 139px,#fffd00 149px,#c4ff3b 157px,#b3ff4c 162px,#b9ff46 166px,#d4ff2b 171px,#feff01 176px,#ff9900 188px,#ff6200 197px,#ff3400 209px,#ff0e00 226px,#fc0000 238px,#e00000 272px,#d20000 325px,#d60000 400px)"></i><i style="background:linear-gradient(90deg,#ff4100 0px,#ff3400 74px,#ff3f00 102px,#ff5700 118px,#ff7a00 129px,#ffa800 138px,#fff500 148px,#fffd00 149px,#b8ff47 158px,#a2ff5d 163px,#a1ff5e 167px,#b2ff4d 171px,#e6ff19 177px,#faff05 179px,#ffef00 181px,#ff9b00 190px,#ff6600 198px,#ff3a00 208px,#ff1400 223px,#fd0000 237px,#e10000 270px,#d30000 321px,#d60000 400px)"></i><i style="background:linear-gradient(90deg,#ff4000 0px,#ff3500 71px,#ff4100 99px,#ff5900 115px,#ff7c00 126px,#ffab00 135px,#ffe900 143px,#fffb00 145px,#e6ff19 148px,#90ff6f 157px,#72ff8d 162px,#6dff92 166px,#7dff82 171px,#a9ff56 177px,#fffe00 186px,#ffa800 196px,#ff6b00 206px,#ff3b00 218px,#ff1100 235px,#fd0000 248px,#e10000 281px,#d40000 332px,#d60000 400px)"></i><i style="background:linear-gradient(90deg,#ff3f00 0px,#ff3400 70px,#ff4000 99px,#ff5a00 116px,#ff7d00 127px,#ffac00 136px,#ffea00 144px,#fffc00 146px,#86ff79 159px,#69ff96 164px,#65ff9a 168px,#77ff88 173px,#a6ff59 179px,#fffd00 188px,#ffad00 197px,#ff7200 206px,#ff4200 217px,#ff1700 233px,#fd0000 248px,#e10000 280px,#d30000 330px,#d60000 400px)"></i><i style="background:linear-gradient(90deg,#ff4000 0px,#ff3500 70px,#ff4100 99px,#ff5900 115px,#ff7a00 126px,#ffa900 135px,#ffe700 143px,#fffa00 145px,#f0ff0f 147px,#8bff74 157px,#6aff95 162px,#62ff9d 166px,#6fff90 170px,#98ff67 175px,#feff01 184px,#ffa800 193px,#ff7000 201px,#ff4200 211px,#ff1900 226px,#fd0000 243px,#e10000 277px,#d40000 329px,#d70000 400px)"></i><i style="background:linear-gradient(90deg,#ff4000 0px,#ff3600 68px,#ff4200 97px,#ff5c00 115px,#ff8100 127px,#ffb300 137px,#fffc00 147px,#adff52 158px,#97ff68 163px,#95ff6a 168px,#acff53 173px,#e8ff17 180px,#fbff04 182px,#ffd300 187px,#ff8b00 196px,#ff5500 206px,#ff2900 219px,#ff0300 239px,#e00000 281px,#d40000 336px,#d80000 400px)"></i><i style="background:linear-gradient(90deg,#ff4000 0px,#ff3400 70px,#ff4000 100px,#ff5900 117px,#ff7c00 129px,#ffaf00 139px,#fffc00 149px,#c6ff39 156px,#9cff63 162px,#8eff71 167px,#95ff6a 171px,#b6ff49 176px,#fdff02 183px,#ffa200 193px,#ff6b00 201px,#ff3e00 211px,#ff1600 226px,#fd0000 242px,#e20000 276px,#d50000 329px,#d80000 400px)"></i><i style="background:linear-gradient(90deg,#ff4000 0px,#ff3600 66px,#ff4200 95px,#ff5c00 112px,#ff7e00 123px,#ffad00 132px,#ffeb00 140px,#fffe00 142px,#7bff84 155px,#5bffa4 160px,#54ffab 164px,#64ff9b 168px,#94ff6b 173px,#f6ff09 181px,#fffc00 182px,#ffb200 189px,#ff7500 197px,#ff4500 207px,#ff1d00 221px,#fe0000 240px,#e30000 275px,#d60000 328px,#d90000 400px)"></i><i style="background:linear-gradient(90deg,#ff3e00 0px,#ff3400 68px,#ff4000 98px,#ff5700 115px,#ff7b00 127px,#ffa800 136px,#ffe500 144px,#fdff02 147px,#81ff7e 159px,#5fffa0 164px,#56ffa9 168px,#60ff9f 172px,#81ff7e 177px,#fcff03 189px,#ffa100 200px,#ff6a00 209px,#ff3a00 221px,#ff1200 238px,#fd0000 252px,#e20000 287px,#d70000 341px,#d90000 400px)"></i><i style="background:linear-gradient(90deg,#ff3d00 0px,#ff3500 62px,#ff4100 92px,#ff5b00 110px,#ff7f00 122px,#ffac00 131px,#ffe700 139px,#fbff04 142px,#5effa1 157px,#3cffc3 162px,#34ffcb 166px,#3dffc2 169px,#5cffa3 173px,#b2ff4d 180px,#ffff00 186px,#ffb400 193px,#ff7700 201px,#ff4500 211px,#ff1c00 225px,#fe0000 242px,#e30000 275px,#d50000 326px,#d70000 400px)"></i><i style="background:linear-gradient(90deg,#ff3c00 0px,#ff3400 62px,#ff4200 93px,#ff5b00 111px,#ff7f00 123px,#ffb000 133px,#fff400 142px,#fffd00 143px,#9cff63 153px,#5dffa2 160px,#44ffbb 165px,#44ffbb 169px,#56ffa9 173px,#83ff7c 178px,#fffe00 189px,#ffb000 197px,#ff7200 206px,#ff4000 217px,#ff1800 232px,#fe0000 248px,#e30000 281px,#d60000 332px,#d70000 400px)"></i><i style="background:linear-gradient(90deg,#ff3d00 0px,#ff3700 58px,#ff4500 88px,#ff5e00 106px,#ff8400 119px,#ffb600 129px,#fff000 137px,#fcff03 139px,#88ff77 150px,#41ffbe 157px,#1fffe0 162px,#17ffe8 166px,#23ffdc 170px,#4bffb4 175px,#ffff00 190px,#ffb200 198px,#ff7400 207px,#ff4300 218px,#ff1a00 233px,#fd0000 251px,#e30000 285px,#d70000 338px,#d80000 400px)"></i><i style="background:linear-gradient(90deg,#ff3e00 0px,#ff3800 58px,#ff4600 89px,#ff6100 108px,#ff8600 121px,#ffb600 131px,#fff500 140px,#fffe00 141px,#a1ff5e 151px,#57ffa8 159px,#39ffc6 164px,#31ffce 168px,#39ffc6 172px,#59ffa6 177px,#abff54 185px,#fffd00 193px,#ffad00 202px,#ff7400 211px,#ff4100 223px,#ff1900 239px,#fd0000 257px,#e30000 292px,#d90000 347px,#da0000 400px)"></i><i style="background:linear-gradient(90deg,#ff3c00 0px,#ff3600 58px,#ff4400 89px,#ff6000 108px,#ff8600 121px,#ffb700 131px,#fffb00 140px,#f1ff0e 142px,#41ffbe 159px,#20ffdf 164px,#17ffe8 168px,#20ffdf 172px,#41ffbe 177px,#93ff6c 185px,#fffe00 195px,#ffaf00 204px,#ff7100 214px,#ff4000 226px,#ff1600 243px,#fd0000 260px,#e30000 295px,#d90000 351px,#d90000 400px)"></i><i style="background:linear-gradient(90deg,#ff3800 0px,#ff3200 57px,#ff4000 89px,#ff5b00 108px,#ff8100 121px,#ffb400 131px,#fff000 139px,#fcff03 141px,#59ffa6 157px,#38ffc7 162px,#2fffd0 166px,#39ffc6 170px,#5effa1 175px,#d2ff2d 185px,#fffe00 189px,#ffb000 197px,#ff7200 206px,#ff4000 217px,#ff1800 232px,#fe0000 248px,#e20000 282px,#d50000 333px,#d60000 400px)"></i><i style="background:linear-gradient(90deg,#ff3e00 0px,#ff3900 56px,#ff4700 87px,#ff6100 106px,#ff8700 119px,#ffb600 129px,#fff700 138px,#ffff00 139px,#50ffaf 157px,#30ffcf 162px,#27ffd8 166px,#32ffcd 170px,#51ffae 174px,#a5ff5a 181px,#fdff02 188px,#ffa800 197px,#ff7100 205px,#ff4400 215px,#ff1c00 230px,#fe0000 250px,#e40000 287px,#da0000 344px,#dc0000 400px)"></i><i style="background:linear-gradient(90deg,#ff3a00 0px,#ff3500 55px,#ff4400 87px,#ff6000 106px,#ff8600 119px,#ffb700 129px,#feff01 139px,#5bffa4 156px,#3bffc4 161px,#31ffce 165px,#38ffc7 169px,#59ffa6 174px,#b0ff4f 182px,#fffe00 189px,#ffb300 197px,#ff7500 206px,#ff4400 217px,#ff1c00 232px,#fe0000 251px,#e30000 287px,#d80000 341px,#d90000 400px)"></i><i style="background:linear-gradient(90deg,#ff3a00 0px,#ff3400 56px,#ff4200 89px,#ff5e00 109px,#ff8200 122px,#ffb100 132px,#ffef00 141px,#feff01 143px,#91ff6e 154px,#43ffbc 162px,#24ffdb 167px,#1dffe2 171px,#27ffd8 175px,#48ffb7 180px,#9aff65 188px,#fcff03 197px,#ffa400 208px,#ff6900 218px,#ff3b00 230px,#ff1400 247px,#fd0000 263px,#e30000 299px,#da0000 358px,#da0000 400px)"></i><i style="background:linear-gradient(90deg,#ff3700 0px,#ff3100 54px,#ff4000 86px,#ff5c00 106px,#ff8000 119px,#ffb000 129px,#ffe800 137px,#fbff04 140px,#9bff64 149px,#27ffd8 159px,#05fffa 163px,#00f8ff 165px,#00efff 169px,#00f9ff 173px,#04fffb 175px,#2cffd3 180px,#feff01 199px,#ffb200 208px,#ff7500 218px,#ff4300 230px,#ff1900 247px,#fd0000 265px,#e30000 300px,#d80000 357px,#d80000 400px)"></i><i style="background:linear-gradient(90deg,#ff3600 0px,#ff3100 53px,#ff4000 86px,#ff5a00 105px,#ff7e00 118px,#ffac00 128px,#ffe300 136px,#fffd00 139px,#c5ff3a 145px,#30ffcf 158px,#06fff9 163px,#00fbff 165px,#00f5ff 169px,#03fffc 173px,#2affd5 178px,#93ff6c 187px,#fcff03 196px,#ffa800 206px,#ff7000 215px,#ff3f00 227px,#ff1700 243px,#fd0000 260px,#e30000 295px,#d80000 351px,#d80000 400px)"></i><i style="background:linear-gradient(90deg,#ff3c00 0px,#ff3800 50px,#ff4700 82px,#ff6300 102px,#ff8900 116px,#ffbc00 127px,#fffa00 136px,#f3ff0c 138px,#98ff67 147px,#10ffef 159px,#00fcff 161px,#00dbff 166px,#00d3ff 170px,#00dfff 174px,#02fffd 178px,#4fffb0 184px,#daff25 194px,#ffff00 197px,#ffb900 204px,#ff7f00 212px,#ff4e00 222px,#ff2400 236px,#ff0200 257px,#e40000 299px,#db0000 362px,#dc0000 400px)"></i><i style="background:linear-gradient(90deg,#ff3800 0px,#ff3400 50px,#ff4400 82px,#ff6100 102px,#ff8800 116px,#ffbb00 127px,#fdff02 137px,#93ff6c 148px,#3bffc4 157px,#18ffe7 162px,#0afff5 167px,#11ffee 171px,#2bffd4 175px,#6bff94 181px,#fcff03 193px,#ffa500 203px,#ff6d00 212px,#ff3f00 223px,#ff1700 239px,#fd0000 257px,#e30000 294px,#d90000 352px,#d90000 400px)"></i><i style="background:linear-gradient(90deg,#ff3b00 0px,#ff3800 49px,#ff4800 81px,#ff6400 101px,#ff8b00 115px,#ffb900 125px,#fff700 134px,#ffff00 135px,#a7ff58 144px,#08fff7 158px,#00feff 159px,#00dbff 164px,#00d1ff 168px,#00d7ff 171px,#00f3ff 175px,#00fdff 176px,#2fffd0 180px,#d8ff27 192px,#fdff02 195px,#ffaa00 204px,#ff6f00 213px,#ff4100 224px,#ff1a00 240px,#fe0000 260px,#e50000 298px,#dd0000 361px,#dd0000 400px)"></i><i style="background:linear-gradient(90deg,#ff3400 0px,#ff3000 48px,#ff4000 81px,#ff5d00 101px,#ff8400 115px,#ffb200 125px,#fff100 134px,#fcff03 136px,#a1ff5e 145px,#1bffe4 157px,#02fffd 160px,#00e7ff 165px,#00e7ff 169px,#00fdff 173px,#27ffd8 177px,#efff10 192px,#fbff04 193px,#ffd700 197px,#ff9300 205px,#ff5e00 214px,#ff3100 226px,#ff0d00 243px,#fc0000 255px,#e10000 292px,#d60000 349px,#d60000 400px)"></i><i style="background:linear-gradient(90deg,#ff3800 0px,#ff3500 47px,#ff4500 80px,#ff6300 101px,#ff8b00 116px,#ffbd00 127px,#fdff02 137px,#a8ff57 146px,#03fffc 161px,#00d4ff 167px,#00c7ff 171px,#00cbff 175px,#00e6ff 179px,#00faff 181px,#13ffec 183px,#e2ff1d 198px,#faff05 200px,#ffed00 202px,#ffac00 209px,#ff7000 218px,#ff4100 229px,#ff1800 245px,#fe0000 263px,#e40000 299px,#da0000 359px,#da0000 400px)"></i><i style="background:linear-gradient(90deg,#ff3800 0px,#ff3500 46px,#ff4700 78px,#ff6400 98px,#ff8c00 112px,#ffc000 123px,#feff01 132px,#b0ff4f 140px,#32ffcd 150px,#00fcff 154px,#00b6ff 160px,#0096ff 164px,#0088ff 168px,#0090ff 172px,#00adff 176px,#00e8ff 181px,#05fffa 183px,#b3ff4c 195px,#fbff04 201px,#ffe400 204px,#ffa200 212px,#ff6800 222px,#ff3800 235px,#ff1200 253px,#fd0000 269px,#e50000 306px,#dc0000 373px,#db0000 400px)"></i><i style="background:linear-gradient(90deg,#ff3700 0px,#ff3400 46px,#ff4500 79px,#ff6300 100px,#ff8a00 114px,#ffbc00 125px,#fdff02 135px,#a7ff58 144px,#08fff7 158px,#00fdff 159px,#00d6ff 164px,#00c7ff 168px,#00caff 172px,#00e4ff 176px,#00f8ff 178px,#05fffa 179px,#84ff7b 188px,#f1ff0e 196px,#fdff02 197px,#ffa900 206px,#ff7300 214px,#ff4300 225px,#ff1c00 240px,#fe0000 260px,#e40000 297px,#db0000 357px,#da0000 400px)"></i><i style="background:linear-gradient(90deg,#ff3900 0px,#ff3700 45px,#ff4900 78px,#ff6800 99px,#ff8f00 113px,#ffc200 124px,#feff01 133px,#b2ff4d 141px,#2fffd0 152px,#00fdff 156px,#00beff 162px,#00a3ff 166px,#009aff 170px,#00a3ff 174px,#00c5ff 179px,#00faff 184px,#13ffec 186px,#c3ff3c 200px,#fffd00 206px,#ffb300 215px,#ff7900 225px,#ff4700 238px,#ff1e00 256px,#fe0000 280px,#e80000 318px,#df0000 400px)"></i><i style="background:linear-gradient(90deg,#ff3b00 0px,#ff3900 44px,#ff4c00 77px,#ff6a00 98px,#ff9100 112px,#ffc300 123px,#ffff00 132px,#b6ff49 140px,#4cffb3 149px,#00feff 155px,#00afff 162px,#008aff 167px,#0081ff 171px,#008aff 175px,#00aeff 180px,#01fffe 187px,#aeff51 200px,#fbff04 207px,#ffe700 210px,#ffa300 219px,#ff6a00 230px,#ff3b00 244px,#ff1500 264px,#fd0000 284px,#e90000 323px,#e10000 400px)"></i><i style="background:linear-gradient(90deg,#ff3b00 0px,#ff3900 45px,#ff4b00 79px,#ff6800 100px,#ff9000 115px,#ffc400 127px,#fffe00 136px,#b1ff4e 145px,#07fff8 161px,#00fdff 162px,#00d7ff 167px,#00c4ff 172px,#00c8ff 176px,#00e1ff 180px,#00ffff 183px,#6bff94 191px,#e4ff1b 200px,#fbff04 202px,#ffe300 205px,#ff9f00 213px,#ff6a00 222px,#ff3d00 234px,#ff1800 251px,#fd0000 273px,#e80000 313px,#e10000 400px)"></i><i style="background:linear-gradient(90deg,#ff3a00 0px,#ff3800 44px,#ff4a00 77px,#ff6800 98px,#ff9100 113px,#ffc300 124px,#ffff00 133px,#b5ff4a 141px,#4bffb4 150px,#00fcff 156px,#00aaff 163px,#0085ff 168px,#007bff 172px,#0082ff 175px,#00a1ff 179px,#00e0ff 184px,#00ffff 186px,#abff54 197px,#f8ff07 203px,#fffb00 204px,#ffb800 211px,#ff8100 219px,#ff4f00 230px,#ff2600 245px,#ff0400 269px,#f20000 291px,#e30000 340px,#e00000 400px)"></i><i style="background:linear-gradient(90deg,#ff3500 0px,#ff3200 44px,#ff4300 78px,#ff6000 99px,#ff8500 113px,#ffb600 124px,#fff300 133px,#faff05 135px,#b2ff4d 142px,#4bffb4 150px,#03fffc 155px,#00a8ff 162px,#0086ff 166px,#0078ff 170px,#007fff 174px,#0099ff 178px,#00cdff 183px,#03fffc 187px,#a6ff59 199px,#ffff00 207px,#ffbb00 215px,#ff7e00 225px,#ff4d00 237px,#ff2300 254px,#ff0000 280px,#e80000 319px,#df0000 400px)"></i><i style="background:linear-gradient(90deg,#ff3900 0px,#ff3800 42px,#ff4a00 74px,#ff6800 95px,#ff9100 110px,#ffc100 121px,#fffc00 130px,#d7ff28 135px,#82ff7d 143px,#00fcff 153px,#0095ff 161px,#0067ff 166px,#0056ff 170px,#0059ff 174px,#006eff 178px,#009eff 183px,#00faff 190px,#18ffe7 192px,#9fff60 202px,#f7ff08 210px,#fffe00 211px,#ffb500 220px,#ff7d00 230px,#ff4c00 243px,#ff2300 261px,#ff0100 288px,#ea0000 331px,#e20000 400px)"></i><i style="background:linear-gradient(90deg,#ff3900 0px,#ff3700 41px,#ff4a00 73px,#ff6900 94px,#ff9200 109px,#ffc200 120px,#fcff03 130px,#aaff55 139px,#35ffca 149px,#03fffc 153px,#00a6ff 161px,#0080ff 166px,#0073ff 170px,#0076ff 173px,#0087ff 176px,#00b1ff 180px,#00faff 185px,#1bffe4 187px,#a8ff57 196px,#f6ff09 202px,#fffd00 203px,#ffb900 210px,#ff8100 218px,#ff4f00 229px,#ff2600 244px,#ff0400 268px,#f30000 288px,#e30000 335px,#df0000 400px)"></i><i style="background:linear-gradient(90deg,#ff3b00 0px,#ff3a00 40px,#ff4d00 72px,#ff6e00 94px,#ff9800 109px,#ffc900 120px,#fffc00 128px,#d0ff2f 134px,#7eff81 142px,#00feff 152px,#008dff 161px,#0060ff 166px,#004dff 170px,#004cff 174px,#0062ff 179px,#008eff 184px,#00eeff 192px,#00fbff 193px,#3effc1 198px,#b6ff49 208px,#fbff04 215px,#ffea00 218px,#ffa600 228px,#ff6e00 240px,#ff3d00 256px,#ff1600 278px,#fd0000 302px,#eb0000 348px,#e50000 400px)"></i><i style="background:linear-gradient(90deg,#ff3800 0px,#ff3600 41px,#ff4800 74px,#ff6800 96px,#ff9200 111px,#ffc400 122px,#ffff00 131px,#acff53 140px,#20ffdf 152px,#00fcff 155px,#00bfff 161px,#00a0ff 166px,#009aff 170px,#00a6ff 174px,#00caff 179px,#02fffd 184px,#bdff42 199px,#fcff03 205px,#ffaa00 216px,#ff7400 226px,#ff4600 239px,#ff1e00 258px,#fe0000 285px,#ea0000 326px,#e20000 400px)"></i><i style="background:linear-gradient(90deg,#ff3800 0px,#ff3500 42px,#ff4700 77px,#ff6500 99px,#ff8b00 114px,#ffb900 125px,#fff100 134px,#feff01 136px,#b4ff4b 144px,#49ffb6 153px,#07fff8 158px,#00f9ff 159px,#00a6ff 166px,#007fff 171px,#0074ff 175px,#007eff 179px,#009cff 183px,#00d7ff 188px,#03fffc 191px,#a3ff5c 202px,#f6ff09 209px,#fffd00 210px,#ffb700 218px,#ff7f00 227px,#ff4e00 239px,#ff2500 256px,#ff0300 282px,#e90000 333px,#e30000 400px)"></i><i style="background:linear-gradient(90deg,#ff3400 0px,#ff3100 41px,#ff4300 76px,#ff6100 98px,#ff8700 113px,#ffb500 124px,#ffee00 133px,#fffd00 135px,#c1ff3e 142px,#4effb1 152px,#04fffb 158px,#00e1ff 161px,#00b4ff 166px,#00a1ff 170px,#00a0ff 174px,#00b5ff 178px,#00e9ff 183px,#05fffa 185px,#bfff40 198px,#fbff04 203px,#ffe400 206px,#ffa100 214px,#ff6d00 223px,#ff4000 235px,#ff1a00 253px,#fe0000 276px,#e80000 317px,#e00000 400px)"></i><i style="background:linear-gradient(90deg,#ff3200 0px,#ff2e00 42px,#ff3f00 79px,#ff5b00 102px,#ff8200 118px,#ffb000 129px,#ffe800 138px,#feff01 141px,#aeff51 149px,#48ffb7 157px,#01fffe 162px,#00a5ff 169px,#0080ff 173px,#006eff 177px,#0073ff 181px,#008eff 185px,#00c9ff 190px,#00f4ff 193px,#05fffa 194px,#aaff55 205px,#ffff00 212px,#ffb600 220px,#ff7c00 229px,#ff4d00 240px,#ff2400 256px,#ff0200 281px,#e80000 326px,#e00000 400px)"></i><i style="background:linear-gradient(90deg,#ff3500 0px,#ff3400 39px,#ff4900 71px,#ff6800 92px,#ff9100 107px,#ffc200 118px,#fffc00 127px,#e1ff1e 131px,#90ff6f 139px,#1effe1 148px,#02fffd 150px,#008aff 159px,#005bff 164px,#0046ff 168px,#0046ff 172px,#0059ff 176px,#008bff 181px,#00ecff 188px,#00fbff 189px,#29ffd6 192px,#a7ff58 201px,#f6ff09 208px,#fffe00 209px,#ffbb00 217px,#ff7f00 227px,#ff4d00 240px,#ff2400 258px,#ff0100 286px,#e90000 330px,#e10000 400px)"></i><i style="background:linear-gradient(90deg,#ff3400 0px,#ff3100 40px,#ff4300 74px,#ff6200 97px,#ff8900 112px,#ffb700 123px,#ffef00 132px,#fffe00 134px,#b7ff48 142px,#43ffbc 152px,#06fff9 157px,#00eeff 159px,#00bdff 164px,#00a5ff 168px,#009eff 172px,#00adff 177px,#00d3ff 182px,#00fcff 186px,#45ffba 192px,#c7ff38 203px,#f9ff06 208px,#fff300 210px,#ffaf00 219px,#ff7500 230px,#ff4600 244px,#ff1e00 264px,#fe0000 292px,#eb0000 335px,#e30000 400px)"></i><i style="background:linear-gradient(90deg,#ff3800 0px,#ff3700 38px,#ff4c00 70px,#ff6e00 92px,#ff9800 107px,#ffce00 119px,#fffb00 126px,#ecff13 129px,#a1ff5e 137px,#42ffbd 145px,#00fcff 150px,#0074ff 160px,#0041ff 165px,#0028ff 169px,#0023ff 173px,#0032ff 177px,#0055ff 181px,#00a4ff 187px,#02fffd 193px,#87ff78 202px,#dcff23 209px,#fbff04 212px,#ffdf00 216px,#ff9f00 225px,#ff6a00 236px,#ff3c00 251px,#ff1600 273px,#fd0000 297px,#eb0000 343px,#e40000 400px)"></i><i style="background:linear-gradient(90deg,#ff3800 0px,#ff3700 38px,#ff4b00 71px,#ff6d00 94px,#ff9900 110px,#ffcd00 122px,#feff01 130px,#b2ff4d 139px,#4effb1 148px,#01fffe 154px,#0082ff 164px,#0054ff 169px,#0040ff 173px,#003dff 177px,#004aff 180px,#0071ff 184px,#00baff 189px,#00fdff 193px,#9fff60 203px,#f8ff07 210px,#fffb00 211px,#ffba00 218px,#ff8000 227px,#ff5100 238px,#ff2900 254px,#ff0700 279px,#fb0000 292px,#e90000 337px,#e30000 400px)"></i><i style="background:linear-gradient(90deg,#ff3500 0px,#ff3500 37px,#ff4900 68px,#ff6b00 90px,#ff9500 105px,#ffc700 116px,#fffb00 124px,#ebff14 127px,#9fff60 135px,#31ffce 144px,#08fff7 147px,#00f9ff 148px,#0084ff 157px,#0056ff 162px,#0043ff 166px,#0044ff 170px,#005bff 174px,#0086ff 178px,#00efff 185px,#00ffff 186px,#8cff73 195px,#e6ff19 202px,#fcff03 204px,#ffb300 213px,#ff7d00 222px,#ff4d00 234px,#ff2600 251px,#ff0300 279px,#ed0000 314px,#e10000 400px)"></i><i style="background:linear-gradient(90deg,#ff3600 0px,#ff3700 35px,#ff4c00 65px,#ff7000 87px,#ff9d00 103px,#ffd400 115px,#ffff00 122px,#b7ff48 131px,#5bffa4 140px,#07fff8 147px,#00f9ff 148px,#0084ff 158px,#0059ff 163px,#0042ff 168px,#0041ff 172px,#0052ff 176px,#007fff 181px,#00daff 188px,#00f7ff 190px,#06fff9 191px,#92ff6d 201px,#edff12 209px,#fffe00 211px,#ffb600 220px,#ff7e00 230px,#ff4e00 243px,#ff2400 262px,#ff0100 291px,#e90000 336px,#e10000 400px)"></i><i style="background:linear-gradient(90deg,#ff3b00 0px,#ff3b00 37px,#ff5000 69px,#ff7200 92px,#ff9e00 108px,#ffd200 120px,#fffc00 127px,#d5ff2a 133px,#7fff80 142px,#09fff6 152px,#00fcff 153px,#0091ff 162px,#0063ff 167px,#004aff 172px,#0049ff 176px,#0059ff 180px,#0086ff 185px,#00e1ff 192px,#00feff 194px,#97ff68 205px,#f0ff0f 213px,#fffb00 215px,#ffb500 224px,#ff7f00 234px,#ff4e00 248px,#ff2500 268px,#ff0400 298px,#f70000 320px,#e90000 400px)"></i><i style="background:linear-gradient(90deg,#ff3700 0px,#ff3700 36px,#ff4c00 67px,#ff6d00 89px,#ff9900 105px,#ffcd00 117px,#fffe00 125px,#bfff40 133px,#60ff9f 142px,#08fff7 149px,#00faff 150px,#007aff 160px,#004aff 165px,#0032ff 169px,#002bff 173px,#0036ff 176px,#0053ff 179px,#008fff 183px,#00ffff 189px,#82ff7d 196px,#ddff22 202px,#f7ff08 204px,#fffb00 205px,#ffb500 212px,#ff7e00 220px,#ff5100 230px,#ff2a00 245px,#ff0800 270px,#fb0000 284px,#e80000 330px,#e20000 400px)"></i><i style="background:linear-gradient(90deg,#ff3300 0px,#ff3100 37px,#ff4500 71px,#ff6600 95px,#ff8f00 111px,#ffc100 123px,#ffff00 133px,#b9ff46 141px,#5effa1 149px,#00fdff 156px,#0070ff 166px,#003aff 171px,#0020ff 175px,#0019ff 179px,#0025ff 182px,#0041ff 185px,#007aff 189px,#00f8ff 196px,#0bfff4 197px,#85ff7a 204px,#dbff24 210px,#ffff00 213px,#ffbc00 220px,#ff8500 228px,#ff5400 239px,#ff2d00 254px,#ff0a00 278px,#fc0000 293px,#e90000 338px,#e20000 400px)"></i><i style="background:linear-gradient(90deg,#ff3c00 0px,#ff3d00 35px,#ff5300 66px,#ff7500 88px,#ffa100 104px,#ffd400 116px,#fffd00 123px,#ceff31 130px,#7aff85 139px,#06fff9 149px,#00f9ff 150px,#0081ff 160px,#004aff 166px,#0031ff 171px,#002fff 175px,#003fff 179px,#0063ff 183px,#00b0ff 189px,#00fcff 194px,#9aff65 205px,#f3ff0c 213px,#fdff02 214px,#ffb300 224px,#ff7e00 234px,#ff4e00 248px,#ff2600 268px,#ff0500 299px,#f80000 319px,#ea0000 394px,#e90000 400px)"></i><i style="background:linear-gradient(90deg,#ff3800 0px,#ff3700 36px,#ff4c00 68px,#ff6e00 91px,#ff9900 107px,#ffcd00 119px,#ffff00 127px,#b4ff4b 136px,#52ffad 145px,#06fff9 151px,#00eaff 153px,#0087ff 161px,#0059ff 166px,#0044ff 170px,#003fff 174px,#004fff 178px,#0070ff 182px,#00bbff 188px,#00f6ff 192px,#06fff9 193px,#93ff6c 203px,#eeff11 211px,#fffc00 213px,#ffbd00 221px,#ff8400 231px,#ff5500 244px,#ff2b00 263px,#ff0900 292px,#fb0000 310px,#ec0000 369px,#e80000 400px)"></i><i style="background:linear-gradient(90deg,#ff3700 0px,#ff3700 36px,#ff4c00 69px,#ff6d00 92px,#ff9700 108px,#ffc800 120px,#fffd00 129px,#caff35 136px,#71ff8e 145px,#03fffc 154px,#007bff 165px,#004fff 170px,#003bff 174px,#0037ff 178px,#0046ff 182px,#006eff 187px,#00c3ff 194px,#00fbff 198px,#26ffd9 201px,#9aff65 210px,#eeff11 218px,#fffe00 220px,#ffbb00 229px,#ff8200 240px,#ff5200 254px,#ff2800 274px,#ff0700 303px,#fb0000 321px,#eb0000 387px,#e90000 400px)"></i><i style="background:linear-gradient(90deg,#ff3a00 0px,#ff3b00 35px,#ff5100 66px,#ff7400 88px,#ffa100 104px,#ffd500 116px,#feff01 123px,#b6ff49 132px,#62ff9d 140px,#0afff5 147px,#00fbff 148px,#0059ff 160px,#0024ff 165px,#0003ff 170px,#0000fd 175px,#0009ff 178px,#0028ff 182px,#0062ff 187px,#00f5ff 197px,#06fff9 198px,#83ff7c 207px,#ddff22 215px,#fffd00 219px,#ffbb00 228px,#ff8200 239px,#ff5100 254px,#ff2700 275px,#ff0700 305px,#fb0000 324px,#ea0000 397px,#ea0000 400px)"></i><i style="background:linear-gradient(90deg,#ff3a00 0px,#ff3c00 34px,#ff5200 64px,#ff7500 86px,#ffa100 102px,#ffd400 114px,#fffd00 121px,#c5ff3a 129px,#6dff92 138px,#00feff 147px,#0056ff 160px,#0025ff 165px,#0008ff 170px,#0003ff 174px,#0012ff 178px,#0036ff 182px,#0078ff 187px,#00f9ff 195px,#0afff5 196px,#82ff7d 204px,#d8ff27 211px,#fffe00 215px,#ffbe00 223px,#ff8600 233px,#ff5600 246px,#ff2d00 265px,#ff0a00 294px,#fc0000 313px,#ec0000 373px,#e90000 400px)"></i><i style="background:linear-gradient(90deg,#ff3c00 0px,#ff3e00 34px,#ff5500 64px,#ff7a00 86px,#ffa700 102px,#ffe100 115px,#fffe00 120px,#beff41 129px,#67ff98 138px,#00fdff 147px,#006bff 159px,#0033ff 165px,#0019ff 170px,#0016ff 175px,#002cff 180px,#0058ff 185px,#00bcff 193px,#02fffd 198px,#82ff7d 208px,#e0ff1f 217px,#fffc00 221px,#ffb900 231px,#ff8000 243px,#ff5000 259px,#ff2500 282px,#ff0600 314px,#fa0000 334px,#ec0000 400px)"></i><i style="background:linear-gradient(90deg,#ff3d00 0px,#ff3e00 34px,#ff5500 65px,#ff7800 87px,#ffa600 103px,#ffdb00 115px,#feff01 121px,#b7ff48 130px,#65ff9a 138px,#00ffff 146px,#004fff 159px,#001bff 164px,#0000ff 168px,#0000f5 172px,#0003ff 177px,#002aff 182px,#0070ff 188px,#00fdff 198px,#8dff72 209px,#deff21 217px,#fffe00 221px,#ffbb00 231px,#ff8300 243px,#ff5300 259px,#ff2900 282px,#ff0900 314px,#fc0000 339px,#f00000 400px)"></i><i style="background:linear-gradient(90deg,#ff3b00 0px,#ff3b00 34px,#ff5100 65px,#ff7500 88px,#ffa100 104px,#ffd500 116px,#feff01 123px,#b6ff49 132px,#61ff9e 140px,#06fff9 147px,#00e8ff 149px,#003dff 161px,#0006ff 166px,#0000f5 168px,#0000e1 172px,#0000e0 176px,#0000f6 180px,#0000fe 181px,#002bff 185px,#0094ff 192px,#00f6ff 198px,#07fff8 199px,#7cff83 207px,#d0ff2f 214px,#fffe00 219px,#ffbb00 228px,#ff8300 239px,#ff5200 254px,#ff2800 276px,#ff0700 308px,#fb0000 329px,#ed0000 400px)"></i><i style="background:linear-gradient(90deg,#ff3c00 0px,#ff3e00 34px,#ff5500 65px,#ff7a00 88px,#ffa700 104px,#ffdc00 116px,#feff01 122px,#baff45 131px,#5fffa0 140px,#0afff5 147px,#00fbff 148px,#0050ff 161px,#0013ff 167px,#0000ff 170px,#0000f3 174px,#0000f8 178px,#0003ff 180px,#002dff 185px,#0078ff 191px,#00fdff 200px,#85ff7a 210px,#dbff24 218px,#feff01 222px,#ffba00 232px,#ff8100 244px,#ff5100 260px,#ff2700 283px,#ff0800 315px,#fb0000 338px,#ef0000 400px)"></i><i style="background:linear-gradient(90deg,#ff3c00 0px,#ff3e00 33px,#ff5500 63px,#ff7a00 86px,#ffaa00 103px,#ffe300 116px,#feff01 121px,#b6ff49 131px,#60ff9f 140px,#04fffb 148px,#00deff 151px,#0059ff 162px,#0023ff 168px,#0009ff 173px,#0005ff 178px,#001aff 183px,#0045ff 188px,#0099ff 195px,#00f8ff 202px,#07fff8 203px,#84ff7b 213px,#deff21 222px,#ffff00 226px,#ffbd00 236px,#ff8500 248px,#ff5400 264px,#ff2800 287px,#ff0900 318px,#fc0000 340px,#ee0000 400px)"></i><i style="background:linear-gradient(90deg,#ff3a00 0px,#ff3b00 34px,#ff5100 65px,#ff7500 88px,#ffa000 104px,#ffd300 116px,#fffc00 123px,#deff21 128px,#8eff71 137px,#28ffd7 146px,#02fffd 149px,#005dff 162px,#002fff 167px,#0015ff 172px,#0013ff 176px,#0026ff 180px,#004cff 184px,#009fff 190px,#00ffff 196px,#85ff7a 205px,#d9ff26 212px,#fffd00 216px,#ffbf00 224px,#ff8800 234px,#ff5a00 247px,#ff2f00 267px,#ff0c00 297px,#fc0000 321px,#ec0000 388px,#eb0000 400px)"></i><i style="background:linear-gradient(90deg,#ff3500 0px,#ff3600 34px,#ff4c00 65px,#ff7000 88px,#ff9c00 104px,#ffd100 116px,#fffc00 123px,#dcff23 128px,#90ff6f 136px,#30ffcf 144px,#07fff8 147px,#00f8ff 148px,#004cff 160px,#0013ff 165px,#0002ff 167px,#0000e8 172px,#0000eb 176px,#0004ff 180px,#003bff 185px,#00a4ff 192px,#00f5ff 197px,#06fff9 198px,#7bff84 206px,#cfff30 213px,#ffff00 218px,#ffbb00 227px,#ff8300 238px,#ff5200 253px,#ff2700 275px,#ff0500 307px,#f90000 326px,#e90000 394px,#e90000 400px)"></i><i style="background:linear-gradient(90deg,#ff3b00 0px,#ff3d00 33px,#ff5300 64px,#ff7700 87px,#ffa600 104px,#ffdf00 117px,#fcff03 123px,#b8ff47 132px,#5fffa0 141px,#00feff 149px,#0066ff 161px,#002cff 167px,#000fff 172px,#0009ff 176px,#0014ff 179px,#002dff 182px,#0063ff 186px,#01fffe 195px,#77ff88 202px,#cbff34 208px,#f8ff07 212px,#fffb00 213px,#ffbf00 220px,#ff8900 229px,#ff5b00 241px,#ff3200 259px,#ff0f00 289px,#fd0000 315px,#ed0000 380px,#eb0000 400px)"></i><i style="background:linear-gradient(90deg,#ff3900 0px,#ff3a00 33px,#ff5100 64px,#ff7500 87px,#ffa200 103px,#ffd600 115px,#feff01 122px,#b8ff47 131px,#65ff9a 139px,#00ffff 147px,#004cff 160px,#0015ff 165px,#0000fc 168px,#0000eb 172px,#0000ec 176px,#0001ff 179px,#0033ff 183px,#0089ff 188px,#00fdff 194px,#89ff76 202px,#dbff24 208px,#fdff02 211px,#ffba00 219px,#ff8500 228px,#ff5700 240px,#ff3000 258px,#ff0c00 289px,#fc0000 312px,#ec0000 374px,#ea0000 400px)"></i><i style="background:linear-gradient(90deg,#ff3900 0px,#ff3b00 33px,#ff5200 64px,#ff7700 87px,#ffa500 104px,#ffde00 117px,#fdff02 123px,#b9ff46 132px,#60ff9f 141px,#00feff 149px,#0056ff 162px,#0019ff 168px,#0000fe 172px,#0000f4 176px,#0000fa 180px,#0004ff 182px,#002bff 187px,#0071ff 193px,#00fbff 203px,#25ffda 206px,#92ff6d 215px,#e9ff16 224px,#fffd00 227px,#ffbc00 237px,#ff8200 250px,#ff5000 267px,#ff2600 291px,#ff0700 324px,#fb0000 345px,#ef0000 400px)"></i><i style="background:linear-gradient(90deg,#ff3f00 0px,#ff4200 32px,#ff5b00 61px,#ff8100 83px,#ffb100 99px,#ffe700 111px,#ffff00 115px,#bdff42 124px,#67ff98 133px,#06fff9 141px,#00eaff 143px,#0019ff 158px,#0001ff 160px,#0000d0 165px,#0000ba 169px,#0000b5 173px,#0000c4 177px,#0000e8 181px,#0002ff 183px,#005cff 189px,#00f3ff 198px,#04fffb 199px,#79ff86 207px,#cbff34 214px,#faff05 219px,#fff400 221px,#ffb700 230px,#ff8000 242px,#ff5200 258px,#ff2800 282px,#ff0800 316px,#fc0000 340px,#f00000 400px)"></i><i style="background:linear-gradient(90deg,#ff3500 0px,#ff3600 33px,#ff4e00 65px,#ff7200 88px,#ff9f00 105px,#ffd700 118px,#feff01 125px,#b0ff4f 135px,#55ffaa 144px,#02fffd 151px,#0073ff 163px,#0040ff 169px,#002aff 174px,#002aff 178px,#003dff 182px,#006cff 187px,#00caff 194px,#00f6ff 197px,#06fff9 198px,#83ff7c 207px,#deff21 215px,#faff05 218px,#fff300 220px,#ffb400 229px,#ff7e00 240px,#ff5000 255px,#ff2500 278px,#ff0400 311px,#f60000 336px,#e90000 400px)"></i><i style="background:linear-gradient(90deg,#ff3900 0px,#ff3a00 33px,#ff5000 65px,#ff7500 89px,#ffa400 106px,#ffd700 118px,#feff01 125px,#b8ff47 134px,#5cffa3 143px,#05fffa 150px,#00eaff 152px,#005aff 163px,#001eff 169px,#0003ff 174px,#0002ff 179px,#001aff 183px,#0051ff 188px,#00cbff 196px,#00fbff 199px,#2bffd4 202px,#9bff64 210px,#e8ff17 217px,#fbff04 219px,#ffea00 222px,#ffad00 231px,#ff7b00 242px,#ff4c00 258px,#ff2400 282px,#ff0500 317px,#f80000 343px,#ee0000 400px)"></i><i style="background:linear-gradient(90deg,#ff3a00 0px,#ff3a00 34px,#ff5100 66px,#ff7400 89px,#ffa000 105px,#ffd300 117px,#fffd00 124px,#cbff34 131px,#7cff83 139px,#00fcff 149px,#0056ff 161px,#0020ff 166px,#0004ff 170px,#0000f9 174px,#0002ff 178px,#0024ff 183px,#0066ff 189px,#00feff 200px,#80ff7f 210px,#d2ff2d 218px,#fcff03 223px,#ffb600 235px,#ff7f00 248px,#ff4f00 266px,#ff2500 292px,#ff0700 328px,#fb0000 353px,#f20000 400px)"></i><i style="background:linear-gradient(90deg,#ff3d00 0px,#ff3f00 33px,#ff5600 64px,#ff7b00 87px,#ffab00 104px,#ffdf00 116px,#fbff04 122px,#b7ff48 131px,#5cffa3 140px,#05fffa 147px,#00e9ff 149px,#0035ff 162px,#0007ff 166px,#0000fc 167px,#0000d8 172px,#0000cd 176px,#0000d2 179px,#0000ef 183px,#0000f9 184px,#0006ff 185px,#004fff 190px,#00fdff 200px,#7aff85 208px,#d0ff2f 215px,#fffd00 220px,#ffc100 228px,#ff8d00 238px,#ff5e00 252px,#ff3300 273px,#ff1000 305px,#fd0000 338px,#f10000 400px)"></i><i style="background:linear-gradient(90deg,#ff3e00 0px,#ff4100 32px,#ff5900 62px,#ff7f00 85px,#ffac00 101px,#ffe600 114px,#fffd00 118px,#d1ff2e 125px,#81ff7e 134px,#1bffe4 143px,#02fffd 145px,#002eff 161px,#0004ff 165px,#0000e5 169px,#0000d6 173px,#0000d7 177px,#0000f0 182px,#0001ff 184px,#0041ff 190px,#01fffe 204px,#71ff8e 213px,#cbff34 222px,#fbff04 228px,#ffee00 231px,#ffb100 242px,#ff7800 257px,#ff4800 277px,#ff2000 305px,#ff0300 345px,#f40000 400px)"></i><i style="background:linear-gradient(90deg,#ff3b00 0px,#ff3d00 33px,#ff5500 64px,#ff7b00 87px,#ffa700 103px,#ffdb00 115px,#fffe00 121px,#bbff44 130px,#6bff94 138px,#07fff8 146px,#00f9ff 147px,#0022ff 162px,#0000fd 165px,#0000d0 170px,#0000be 174px,#0000be 178px,#0000d1 182px,#0000fe 187px,#004cff 193px,#00fdff 205px,#7fff80 215px,#d0ff2f 223px,#fffd00 229px,#ffbf00 239px,#ff8700 252px,#ff5400 270px,#ff2a00 295px,#ff0a00 330px,#fc0000 357px,#f30000 400px)"></i><i style="background:linear-gradient(90deg,#ff3c00 0px,#ff3e00 33px,#ff5600 65px,#ff7c00 89px,#ffab00 106px,#ffe000 118px,#fffd00 123px,#d0ff2f 130px,#7dff82 139px,#15ffea 148px,#00faff 150px,#0050ff 163px,#0014ff 169px,#0000ff 172px,#0000f2 176px,#0000f5 180px,#0004ff 183px,#002cff 188px,#0080ff 195px,#00fcff 204px,#6fff90 213px,#cbff34 222px,#fcff03 228px,#ffb300 241px,#ff7c00 255px,#ff4c00 274px,#ff2300 301px,#ff0600 339px,#fb0000 366px,#f50000 400px)"></i><i style="background:linear-gradient(90deg,#ff3600 0px,#ff3700 33px,#ff4e00 65px,#ff7300 89px,#ffa100 106px,#ffd500 118px,#fffe00 125px,#c3ff3c 133px,#73ff8c 141px,#04fffb 150px,#00daff 153px,#0045ff 164px,#0011ff 169px,#0001ff 171px,#0000eb 176px,#0000ee 180px,#0002ff 184px,#002fff 189px,#0086ff 196px,#00f6ff 204px,#04fffb 205px,#76ff89 214px,#d2ff2d 223px,#fbff04 228px,#ffee00 231px,#ffae00 242px,#ff7700 256px,#ff4800 275px,#ff1f00 302px,#ff0100 341px,#f00000 400px)"></i><i style="background:linear-gradient(90deg,#ff3a00 0px,#ff3d00 32px,#ff5500 62px,#ff7b00 85px,#ffaa00 102px,#ffe300 115px,#feff01 120px,#b5ff4a 130px,#5cffa3 139px,#08fff7 146px,#00faff 147px,#0031ff 162px,#0005ff 166px,#0000f1 168px,#0000d1 173px,#0000c9 177px,#0000d3 182px,#0000f1 187px,#0003ff 189px,#004cff 196px,#00faff 210px,#13ffec 212px,#7fff80 222px,#d5ff2a 232px,#ffff00 238px,#ffbd00 250px,#ff8000 266px,#ff4c00 287px,#ff2300 314px,#ff0500 353px,#f90000 383px,#f60000 400px)"></i><i style="background:linear-gradient(90deg,#ff3a00 0px,#ff3c00 32px,#ff5400 63px,#ff7900 86px,#ffa800 103px,#ffdc00 115px,#ffff00 121px,#bbff44 130px,#6cff93 138px,#09fff6 146px,#00fbff 147px,#0026ff 162px,#0001ff 165px,#0000d2 170px,#0000be 174px,#0000bc 178px,#0000d0 183px,#0000fa 188px,#0011ff 190px,#0086ff 199px,#00f5ff 207px,#04fffb 208px,#71ff8e 217px,#c9ff36 226px,#feff01 233px,#ffba00 245px,#ff8000 260px,#ff4d00 280px,#ff2300 307px,#ff0500 346px,#f90000 374px,#f40000 400px)"></i><i style="background:linear-gradient(90deg,#ff3f00 0px,#ff4100 32px,#ff5a00 63px,#ff8000 86px,#ffb100 103px,#ffe600 115px,#fbff04 120px,#b9ff46 129px,#62ff9d 138px,#00ffff 146px,#0023ff 162px,#0000ff 165px,#0000d3 170px,#0000bf 174px,#0000bd 178px,#0000cd 182px,#0004ff 188px,#0061ff 195px,#00f5ff 205px,#05fffa 206px,#78ff87 215px,#caff35 223px,#fbff04 229px,#ffe700 233px,#ffac00 244px,#ff7500 259px,#ff4500 280px,#ff1e00 309px,#ff0200 351px,#f60000 400px)"></i><i style="background:linear-gradient(90deg,#ff3c00 0px,#ff3e00 33px,#ff5600 65px,#ff7c00 89px,#ffa900 105px,#ffdc00 117px,#ffff00 123px,#baff45 132px,#6aff95 140px,#05fffa 148px,#00e8ff 150px,#001fff 164px,#0006ff 166px,#0000fa 167px,#0000ce 172px,#0000be 176px,#0000c0 180px,#0000da 185px,#0000ff 189px,#0049ff 195px,#01fffe 208px,#71ff8e 217px,#caff35 226px,#fffe00 233px,#ffbe00 244px,#ff8600 258px,#ff5400 277px,#ff2a00 303px,#ff0a00 340px,#fc0000 371px,#f70000 400px)"></i><i style="background:linear-gradient(90deg,#ff4200 0px,#ff4700 31px,#ff6100 61px,#ff8a00 84px,#ffbc00 101px,#fff800 114px,#fbff04 116px,#b6ff49 126px,#64ff9b 135px,#00fcff 144px,#0012ff 162px,#0000fb 164px,#0000cd 169px,#0000b3 174px,#0000af 178px,#0000be 182px,#0000e1 186px,#0000f8 188px,#0006ff 189px,#007fff 197px,#00feff 205px,#6fff90 213px,#c7ff38 221px,#fbff04 227px,#ffed00 230px,#ffb200 240px,#ff7f00 253px,#ff4e00 272px,#ff2400 300px,#ff0600 340px,#fa0000 368px,#f50000 400px)"></i><i style="background:linear-gradient(90deg,#ff4100 0px,#ff4400 32px,#ff5d00 62px,#ff8400 85px,#ffb400 102px,#ffec00 115px,#fbff04 119px,#b5ff4a 129px,#61ff9e 138px,#06fff9 146px,#00ecff 148px,#002dff 163px,#0004ff 167px,#0000e4 171px,#0000d1 176px,#0000d5 181px,#0000f0 186px,#0002ff 188px,#0044ff 194px,#00ffff 208px,#77ff88 218px,#ccff33 227px,#fffe00 234px,#ffbf00 245px,#ff8500 260px,#ff5200 280px,#ff2800 307px,#ff0900 346px,#fc0000 377px,#f90000 400px)"></i><i style="background:linear-gradient(90deg,#ff3f00 0px,#ff4100 33px,#ff5a00 64px,#ff7f00 87px,#ffac00 103px,#ffe000 115px,#fbff04 121px,#b8ff47 130px,#68ff97 138px,#05fffa 146px,#00e9ff 148px,#0033ff 161px,#0004ff 165px,#0000e7 168px,#0000cf 172px,#0000c8 176px,#0000d3 180px,#0000f6 185px,#0001ff 186px,#0048ff 192px,#01fffe 205px,#71ff8e 214px,#cbff34 223px,#fffd00 230px,#ffbe00 241px,#ff8600 255px,#ff5600 274px,#ff2b00 301px,#ff0b00 339px,#fc0000 373px,#f90000 400px)"></i><i style="background:linear-gradient(90deg,#ff4000 0px,#ff4300 32px,#ff5c00 63px,#ff8200 86px,#ffb200 103px,#ffe700 115px,#fffe00 119px,#c1ff3e 128px,#6dff92 137px,#03fffc 146px,#00c0ff 151px,#0031ff 162px,#0000fe 167px,#0000df 172px,#0000d7 176px,#0000e4 181px,#0000fe 185px,#002fff 190px,#00adff 200px,#00fcff 206px,#7dff82 217px,#d0ff2f 226px,#fbff04 232px,#ffde00 238px,#ffa200 251px,#ff6d00 268px,#ff3e00 292px,#ff1800 325px,#ff0000 371px,#fa0000 400px)"></i><i style="background:linear-gradient(90deg,#ff3e00 0px,#ff4100 32px,#ff5c00 63px,#ff8300 86px,#ffb300 103px,#ffed00 116px,#fffe00 119px,#c2ff3d 128px,#70ff8f 137px,#09fff6 146px,#00fbff 147px,#0028ff 163px,#0006ff 166px,#0000f1 168px,#0000cc 173px,#0000be 178px,#0000c6 182px,#0000e1 186px,#0000ff 189px,#0050ff 195px,#00f8ff 206px,#07fff8 207px,#72ff8d 215px,#c7ff38 223px,#fffd00 230px,#ffbf00 240px,#ff8800 253px,#ff5600 271px,#ff2b00 297px,#ff0900 334px,#fc0000 360px,#f40000 400px)"></i><i style="background:linear-gradient(90deg,#ff4200 0px,#ff4600 32px,#ff5f00 62px,#ff8600 85px,#ffb700 102px,#ffed00 114px,#fffe00 117px,#cbff34 125px,#7bff84 134px,#15ffea 143px,#00faff 145px,#0011ff 162px,#0005ff 163px,#0000ed 165px,#0000c0 170px,#0000aa 175px,#0000aa 179px,#0000bb 183px,#0000e5 188px,#0000fb 190px,#0014ff 192px,#00f5ff 208px,#03fffc 209px,#71ff8e 218px,#c7ff38 227px,#fcff03 234px,#ffb500 248px,#ff7c00 264px,#ff4a00 286px,#ff2200 316px,#ff0500 358px,#fb0000 393px,#fb0000 400px)"></i><i style="background:linear-gradient(90deg,#ff3f00 0px,#ff4200 32px,#ff5a00 63px,#ff8200 87px,#ffb200 104px,#ffeb00 117px,#fbff04 121px,#b2ff4d 131px,#5bffa4 140px,#07fff8 147px,#00faff 148px,#0035ff 163px,#0001ff 168px,#0000de 173px,#0000d3 178px,#0000e1 183px,#0000fc 187px,#0019ff 190px,#0079ff 198px,#00feff 208px,#75ff8a 218px,#c9ff36 227px,#fdff02 234px,#ffb500 248px,#ff7c00 264px,#ff4a00 286px,#ff2100 316px,#ff0400 358px,#f90000 400px)"></i><i style="background:linear-gradient(90deg,#ff4000 0px,#ff4300 33px,#ff5d00 65px,#ff8500 89px,#ffb500 106px,#ffe900 118px,#ffff00 122px,#b8ff47 132px,#62ff9d 141px,#01fffe 149px,#0065ff 160px,#0004ff 167px,#0000d4 171px,#0000ab 176px,#00009a 180px,#00009b 184px,#0000ae 188px,#0000da 193px,#0000fe 196px,#0080ff 205px,#00f5ff 213px,#04fffb 214px,#74ff8b 223px,#cbff34 232px,#fffe00 239px,#ffbf00 250px,#ff8800 264px,#ff5600 283px,#ff2b00 310px,#ff0b00 348px,#fd0000 382px,#fa0000 400px)"></i><i style="background:linear-gradient(90deg,#ff3e00 0px,#ff4200 32px,#ff5c00 63px,#ff8300 86px,#ffb400 103px,#ffe900 115px,#ffff00 119px,#b7ff48 129px,#60ff9f 138px,#00ffff 146px,#0018ff 163px,#0000ff 165px,#0000d1 170px,#0000b7 175px,#0000b4 179px,#0000c7 184px,#0000ed 189px,#0003ff 191px,#0064ff 199px,#00f7ff 210px,#04fffb 211px,#6cff93 220px,#c0ff3f 229px,#fffe00 238px,#ffbe00 250px,#ff8300 266px,#ff5000 287px,#ff2500 316px,#ff0600 356px,#fc0000 384px,#fa0000 400px)"></i><i style="background:linear-gradient(90deg,#ff4500 0px,#ff4900 32px,#ff6400 62px,#ff8b00 85px,#ffbc00 102px,#fff600 115px,#fdff02 117px,#b9ff46 127px,#68ff97 136px,#02fffd 145px,#007eff 155px,#000bff 164px,#0000ff 165px,#0000ca 171px,#0000b4 176px,#0000b3 180px,#0000c3 184px,#0000ee 189px,#0005ff 191px,#0071ff 199px,#01fffe 209px,#71ff8e 218px,#c8ff37 227px,#fdff02 234px,#ffb900 247px,#ff8200 262px,#ff5100 283px,#ff2700 312px,#ff0900 353px,#fd0000 390px,#fc0000 400px)"></i><i style="background:linear-gradient(90deg,#ff4000 0px,#ff4400 33px,#ff5d00 64px,#ff8500 88px,#ffb400 105px,#ffee00 118px,#ffff00 121px,#c1ff3e 130px,#6fff90 139px,#07fff8 148px,#00f9ff 149px,#0033ff 164px,#0000fd 169px,#0000d8 174px,#0000cb 179px,#0000d5 184px,#0000f6 189px,#0000ff 190px,#004eff 197px,#00f9ff 210px,#07fff8 211px,#6fff90 220px,#c3ff3c 229px,#fdff02 237px,#ffb700 251px,#ff7e00 267px,#ff4c00 289px,#ff2300 319px,#ff0600 360px,#fc0000 394px,#fc0000 400px)"></i><i style="background:linear-gradient(90deg,#ff4100 0px,#ff4500 33px,#ff5e00 64px,#ff8600 88px,#ffb600 105px,#ffef00 118px,#feff01 121px,#b9ff46 131px,#65ff9a 140px,#00feff 149px,#0050ff 163px,#0016ff 169px,#0001ff 172px,#0000ee 177px,#0000f3 182px,#0003ff 185px,#002bff 190px,#007cff 197px,#00ffff 207px,#76ff89 217px,#caff35 226px,#feff01 233px,#ffba00 246px,#ff8300 261px,#ff5100 282px,#ff2800 311px,#ff0800 352px,#fc0000 385px,#fb0000 400px)"></i><i style="background:linear-gradient(90deg,#ff4200 0px,#ff4500 33px,#ff5e00 65px,#ff8500 89px,#ffb400 106px,#ffe800 118px,#ffff00 122px,#c1ff3e 131px,#6dff92 140px,#03fffc 149px,#00ceff 153px,#0031ff 165px,#0007ff 169px,#0000fd 170px,#0000dc 175px,#0000d4 179px,#0000de 184px,#0000ff 189px,#003eff 195px,#00ffff 210px,#73ff8c 220px,#c6ff39 229px,#ffff00 237px,#ffbf00 249px,#ff8500 265px,#ff5400 286px,#ff2a00 315px,#ff0b00 355px,#fe0000 398px,#fe0000 400px)"></i><i style="background:linear-gradient(90deg,#ff4500 0px,#ff4a00 32px,#ff6500 63px,#ff8d00 86px,#ffbe00 103px,#fff800 116px,#fbff04 118px,#b7ff48 128px,#66ff99 137px,#00ffff 146px,#0015ff 164px,#0000fd 166px,#0000cf 171px,#0000b4 176px,#0000b0 181px,#0000c4 186px,#0000ee 191px,#0005ff 193px,#007aff 202px,#00f5ff 211px,#03fffc 212px,#6dff92 221px,#c1ff3e 230px,#fbff04 238px,#ffdf00 244px,#ffa100 258px,#ff6c00 276px,#ff3d00 301px,#ff1700 336px,#ff0200 380px,#ff0000 400px)"></i><i style="background:linear-gradient(90deg,#ff4100 0px,#ff4600 33px,#ff6100 64px,#ff8800 87px,#ffb900 104px,#fff300 117px,#fffe00 119px,#c3ff3c 128px,#73ff8c 137px,#03fffc 147px,#0038ff 163px,#0007ff 168px,#0000fd 169px,#0000e1 174px,#0000da 179px,#0000ea 184px,#0000fd 187px,#002cff 192px,#00a3ff 202px,#00fcff 209px,#59ffa6 217px,#aeff51 226px,#f8ff07 236px,#fff900 238px,#ffb800 251px,#ff7e00 268px,#ff4c00 291px,#ff2200 322px,#ff0600 364px,#fd0000 400px)"></i><i style="background:linear-gradient(90deg,#ff4500 0px,#ff4a00 33px,#ff6400 64px,#ff8a00 87px,#ffba00 104px,#fff300 117px,#fffe00 119px,#c3ff3c 128px,#73ff8c 137px,#0dfff2 146px,#00ffff 147px,#002dff 163px,#0002ff 167px,#0000d3 173px,#0000c5 178px,#0000cf 183px,#0000ee 188px,#0000ff 190px,#004cff 197px,#00fcff 211px,#7fff80 223px,#d2ff2d 233px,#fffe00 240px,#ffbd00 253px,#ff8400 270px,#ff5100 293px,#ff2700 324px,#ff0b00 365px,#ff0300 400px)"></i><i style="background:linear-gradient(90deg,#ff4400 0px,#ff4700 33px,#ff6000 65px,#ff8700 89px,#ffb500 106px,#ffe800 118px,#fffe00 122px,#c2ff3d 131px,#6fff90 140px,#04fffb 149px,#00e9ff 151px,#001dff 166px,#0006ff 168px,#0000fa 169px,#0000d0 174px,#0000be 178px,#0000bf 183px,#0000d7 188px,#0003ff 193px,#0061ff 201px,#00feff 213px,#70ff8f 223px,#c0ff3f 232px,#ffff00 241px,#ffbd00 254px,#ff8600 270px,#ff5300 292px,#ff2a00 322px,#ff0c00 362px,#ff0300 400px)"></i><i style="background:linear-gradient(90deg,#ff4400 0px,#ff4800 33px,#ff6300 65px,#ff8c00 89px,#ffbd00 106px,#fff200 118px,#fbff04 121px,#b5ff4a 131px,#60ff9f 140px,#02fffd 148px,#0011ff 166px,#0005ff 167px,#0000ef 169px,#0000c6 174px,#0000b2 179px,#0000b8 184px,#0000d4 189px,#0000f9 193px,#0005ff 194px,#0076ff 203px,#00fbff 213px,#44ffbb 219px,#9fff60 228px,#edff12 238px,#fffe00 241px,#ffc000 253px,#ff8700 269px,#ff5300 291px,#ff2900 321px,#ff0b00 361px,#ff0100 400px)"></i><i style="background:linear-gradient(90deg,#ff3e00 0px,#ff4200 34px,#ff5b00 67px,#ff8100 91px,#ffad00 107px,#ffe100 119px,#fffd00 124px,#c7ff38 132px,#7bff84 140px,#0ffff0 149px,#02fffd 150px,#0022ff 166px,#0000ff 169px,#0000d5 174px,#0000c5 178px,#0000c8 183px,#0000e0 188px,#0001ff 192px,#0056ff 200px,#00f6ff 213px,#03fffc 214px,#6eff91 224px,#c3ff3c 234px,#ffff00 243px,#ffbe00 256px,#ff8400 273px,#ff5000 296px,#ff2500 327px,#ff0800 367px,#ff0100 400px)"></i><i style="background:linear-gradient(90deg,#ff4400 0px,#ff4900 33px,#ff6300 65px,#ff8a00 89px,#ffba00 106px,#ffee00 118px,#ffff00 121px,#bbff44 131px,#68ff97 140px,#00feff 149px,#002cff 165px,#0000ff 169px,#0000d6 174px,#0000c2 179px,#0000c6 184px,#0000dc 189px,#0000fb 193px,#000eff 195px,#0072ff 204px,#02fffd 216px,#6bff94 226px,#beff41 236px,#ffff00 246px,#ffbc00 260px,#ff8100 278px,#ff4d00 302px,#ff2400 334px,#ff0a00 374px,#ff0500 400px)"></i><i style="background:linear-gradient(90deg,#ff4600 0px,#ff4b00 33px,#ff6500 64px,#ff8e00 88px,#ffbf00 105px,#fff400 117px,#ffff00 119px,#bcff43 129px,#6aff95 138px,#02fffd 147px,#008aff 156px,#0014ff 165px,#0000fd 167px,#0000d0 172px,#0000b7 177px,#0000b6 182px,#0000c9 187px,#0002ff 194px,#0068ff 203px,#00faff 215px,#12ffed 217px,#78ff87 227px,#c8ff37 237px,#fffd00 246px,#ffbb00 260px,#ff8100 278px,#ff4e00 302px,#ff2400 335px,#ff0a00 375px,#ff0600 400px)"></i><i style="background:linear-gradient(90deg,#ff4400 0px,#ff4900 33px,#ff6400 65px,#ff8b00 88px,#ffbb00 105px,#fff100 117px,#fcff03 120px,#b6ff49 130px,#60ff9f 139px,#01fffe 147px,#000aff 165px,#0000fe 166px,#0000cc 171px,#0000af 176px,#0000a9 180px,#0000b8 185px,#0000dd 190px,#0000fb 193px,#0012ff 195px,#00fcff 213px,#78ff87 224px,#cdff32 234px,#fcff03 241px,#ffb400 257px,#ff7a00 275px,#ff4900 299px,#ff2100 332px,#ff0700 373px,#ff0300 400px)"></i><i style="background:linear-gradient(90deg,#ff4800 0px,#ff4e00 33px,#ff6a00 64px,#ff9200 87px,#ffc400 104px,#ffff00 117px,#bdff42 127px,#6dff92 136px,#08fff7 145px,#00fbff 146px,#000eff 164px,#0002ff 165px,#0000c9 171px,#0000ae 176px,#0000ac 181px,#0000be 186px,#0000ed 192px,#0002ff 194px,#0079ff 204px,#00f6ff 214px,#03fffc 215px,#6dff92 225px,#c1ff3e 235px,#fbff04 244px,#ffe800 249px,#ffa900 264px,#ff7000 284px,#ff4000 311px,#ff1a00 347px,#ff0800 388px,#ff0700 400px)"></i><i style="background:linear-gradient(90deg,#ff4600 0px,#ff4d00 33px,#ff6900 63px,#ff9100 86px,#ffc300 103px,#fffe00 116px,#c0ff3f 126px,#73ff8c 135px,#12ffed 144px,#06fff9 145px,#00f9ff 146px,#0011ff 164px,#0000fa 166px,#0000c5 172px,#0000ac 177px,#0000aa 182px,#0000bd 187px,#0000ee 193px,#0004ff 195px,#008dff 206px,#00ffff 215px,#6dff92 225px,#c3ff3c 235px,#ffff00 244px,#ffbf00 257px,#ff8500 274px,#ff5100 297px,#ff2600 329px,#ff0900 369px,#ff0300 400px)"></i><i style="background:linear-gradient(90deg,#ff4600 0px,#ff4c00 33px,#ff6700 64px,#ff8f00 87px,#ffbf00 104px,#fffa00 117px,#f9ff06 119px,#b4ff4b 129px,#61ff9e 138px,#04fffb 146px,#00dcff 149px,#0003ff 165px,#0000ba 172px,#00009e 177px,#000099 182px,#0000aa 187px,#0000d7 193px,#0001ff 197px,#00f8ff 217px,#04fffb 218px,#6dff92 228px,#c0ff3f 238px,#fffe00 248px,#ffbc00 262px,#ff8200 280px,#ff4e00 304px,#ff2400 337px,#ff0b00 376px,#ff0600 400px)"></i><i style="background:linear-gradient(90deg,#ff4500 0px,#ff4b00 34px,#ff6700 66px,#ff8e00 89px,#ffbf00 106px,#fff500 118px,#feff01 120px,#b9ff46 130px,#67ff98 139px,#00fdff 148px,#000dff 166px,#0002ff 167px,#0000c7 173px,#0000ae 178px,#0000ab 183px,#0000bf 188px,#0000ef 194px,#0004ff 196px,#008aff 207px,#00fbff 216px,#1fffe0 219px,#84ff7b 229px,#d4ff2b 239px,#fffe00 246px,#ffbf00 259px,#ff8600 276px,#ff5300 299px,#ff2700 331px,#ff0b00 370px,#ff0500 400px)"></i><i style="background:linear-gradient(90deg,#ff4b00 0px,#ff5200 34px,#ff6d00 65px,#ff9500 88px,#ffc600 105px,#feff01 118px,#bdff42 128px,#6fff90 137px,#00feff 147px,#0004ff 166px,#0000e3 169px,#0000b8 174px,#0000a3 179px,#0000a4 184px,#0000b9 189px,#0000e9 195px,#0000fe 197px,#005cff 205px,#00fbff 218px,#1dffe2 221px,#7fff80 231px,#d3ff2c 242px,#feff01 249px,#ffb800 265px,#ff7e00 284px,#ff4d00 309px,#ff2400 343px,#ff0e00 382px,#ff0c00 400px)"></i><i style="background:linear-gradient(90deg,#ff4a00 0px,#ff5100 33px,#ff6e00 64px,#ff9700 87px,#ffc900 104px,#feff01 116px,#beff41 126px,#72ff8d 135px,#11ffee 144px,#05fffa 145px,#00ecff 147px,#0020ff 163px,#0000fe 166px,#0000cb 172px,#0000b5 177px,#0000b5 182px,#0000ca 187px,#0003ff 194px,#0075ff 204px,#00faff 215px,#11ffee 217px,#76ff89 227px,#c6ff39 237px,#feff01 246px,#ffbb00 261px,#ff8300 279px,#ff4f00 304px,#ff2500 338px,#ff0c00 377px,#ff0900 400px)"></i><i style="background:linear-gradient(90deg,#ff4900 0px,#ff5000 34px,#ff6c00 65px,#ff9500 88px,#ffc400 104px,#ffff00 117px,#beff41 127px,#70ff8f 136px,#0cfff3 145px,#00ffff 146px,#0014ff 164px,#0000fc 166px,#0000c6 172px,#0000ad 177px,#0000ab 182px,#0000be 187px,#0000ed 193px,#0003ff 195px,#0087ff 206px,#00f6ff 215px,#03fffc 216px,#6cff93 226px,#bfff40 236px,#ffff00 246px,#ffbd00 260px,#ff8300 278px,#ff4f00 303px,#ff2400 337px,#ff0c00 376px,#ff0800 400px)"></i><i style="background:linear-gradient(90deg,#ff4900 0px,#ff5000 34px,#ff6c00 65px,#ff9300 88px,#ffc500 105px,#feff01 118px,#bcff43 128px,#6cff93 137px,#07fff8 146px,#00f9ff 147px,#001aff 164px,#0003ff 166px,#0000c5 173px,#0000b1 178px,#0000b3 183px,#0000ca 188px,#0000fb 194px,#001bff 197px,#00ffff 216px,#68ff97 226px,#bbff44 236px,#fbff04 246px,#ffee00 250px,#ffae00 265px,#ff7600 285px,#ff4400 312px,#ff1d00 348px,#ff0a00 387px,#ff0a00 400px)"></i><i style="background:linear-gradient(90deg,#ff4300 0px,#ff4900 34px,#ff6500 66px,#ff8d00 89px,#ffbe00 106px,#fff400 118px,#ffff00 120px,#baff45 130px,#68ff97 139px,#00feff 148px,#0010ff 166px,#0005ff 167px,#0000ee 169px,#0000c4 174px,#0000af 179px,#0000b0 184px,#0000c5 189px,#0000f5 195px,#0000ff 196px,#0066ff 205px,#00f7ff 217px,#03fffc 218px,#6bff94 228px,#bdff42 238px,#feff01 248px,#ffb600 264px,#ff7b00 283px,#ff4800 308px,#ff1e00 342px,#ff0700 380px,#ff0500 400px)"></i><i style="background:linear-gradient(90deg,#ff4900 0px,#ff5100 34px,#ff6e00 65px,#ff9700 88px,#ffc700 104px,#fffd00 116px,#d0ff2f 124px,#87ff78 133px,#2affd5 142px,#07fff8 145px,#00faff 146px,#000fff 164px,#0004ff 165px,#0000da 169px,#0000b5 174px,#0000a5 179px,#0000ab 184px,#0000c4 189px,#0002ff 196px,#008eff 208px,#00f8ff 217px,#05fffa 218px,#6aff95 228px,#c2ff3d 239px,#fffe00 249px,#ffbf00 263px,#ff8500 281px,#ff5100 306px,#ff2600 339px,#ff0d00 377px,#ff0900 400px)"></i><i style="background:linear-gradient(90deg,#ff4b00 0px,#ff5300 34px,#ff7000 65px,#ff9a00 88px,#ffca00 104px,#feff01 116px,#beff41 126px,#72ff8d 135px,#11ffee 144px,#05fffa 145px,#00ebff 147px,#000eff 164px,#0002ff 165px,#0000bf 172px,#0000a6 177px,#0000a3 182px,#0000b4 187px,#0000e0 193px,#0000fe 196px,#0069ff 205px,#00fbff 217px,#1dffe2 220px,#7fff80 230px,#d3ff2c 241px,#fdff02 248px,#ffb900 264px,#ff7f00 283px,#ff4c00 309px,#ff2200 344px,#ff0c00 382px,#ff0b00 400px)"></i><i style="background:linear-gradient(90deg,#ff4a00 0px,#ff5200 34px,#ff6e00 65px,#ff9700 88px,#ffc700 104px,#fcff03 117px,#baff45 127px,#6bff94 136px,#06fff9 145px,#00f9ff 146px,#000dff 164px,#0001ff 165px,#0000c6 171px,#0000a9 176px,#0000a3 181px,#0000b1 186px,#0000da 192px,#0002ff 196px,#008fff 208px,#00fbff 217px,#1dffe2 220px,#7eff81 230px,#d2ff2d 241px,#fffd00 249px,#ffbe00 263px,#ff8300 282px,#ff4e00 308px,#ff2400 342px,#ff0d00 380px,#ff0b00 400px)"></i><i style="background:linear-gradient(90deg,#ff4800 0px,#ff5000 35px,#ff6c00 66px,#ff9400 89px,#ffc300 105px,#fff900 117px,#faff05 119px,#b6ff49 129px,#63ff9c 138px,#08fff7 146px,#00faff 147px,#000cff 165px,#0000ff 166px,#0000c6 172px,#0000ab 177px,#0000a6 182px,#0000b7 187px,#0000e3 193px,#0001ff 196px,#0084ff 207px,#00fdff 217px,#78ff87 229px,#ceff31 240px,#ffff00 248px,#ffbe00 262px,#ff8500 280px,#ff5100 305px,#ff2500 339px,#ff0c00 377px,#ff0900 400px)"></i><i style="background:linear-gradient(90deg,#ff4900 0px,#ff5200 35px,#ff6e00 66px,#ff9600 89px,#ffc500 105px,#feff01 118px,#bdff42 128px,#6eff91 137px,#00fdff 147px,#0003ff 166px,#0000be 173px,#0000a3 178px,#00009f 183px,#0000af 188px,#0000d9 194px,#0000ff 198px,#0098ff 211px,#03fffc 220px,#67ff98 230px,#bfff40 241px,#fcff03 251px,#ffb300 269px,#ff7900 289px,#ff4600 316px,#ff1f00 351px,#ff0c00 388px,#ff0c00 400px)"></i><i style="background:linear-gradient(90deg,#ff4c00 0px,#ff5500 35px,#ff7200 67px,#ff9b00 90px,#ffcb00 106px,#fcff03 118px,#bbff44 128px,#6dff92 137px,#00fcff 147px,#0012ff 165px,#0000fa 167px,#0000c3 173px,#0000ab 178px,#0000a8 183px,#0000b9 188px,#0000e4 194px,#0002ff 197px,#0080ff 208px,#02fffd 219px,#67ff98 229px,#beff41 240px,#fbff04 250px,#ffee00 254px,#ffb100 269px,#ff7900 289px,#ff4700 317px,#ff2000 353px,#ff0f00 390px,#ff0f00 400px)"></i><i style="background:linear-gradient(90deg,#ff4800 0px,#ff5100 35px,#ff6d00 66px,#ff9500 89px,#ffc400 105px,#feff01 118px,#bcff43 128px,#6cff93 137px,#07fff8 146px,#00f9ff 147px,#000eff 165px,#0003ff 166px,#0000c3 173px,#0000ad 178px,#0000ae 183px,#0000c1 188px,#0000ed 194px,#0001ff 196px,#007bff 207px,#00faff 218px,#11ffee 220px,#7aff85 231px,#ccff33 242px,#fffd00 251px,#ffbb00 266px,#ff8200 285px,#ff4e00 311px,#ff2300 346px,#ff0d00 383px,#ff0b00 400px)"></i><i style="background:linear-gradient(90deg,#ff4c00 0px,#ff5500 36px,#ff7300 68px,#ff9a00 90px,#ffc900 106px,#feff01 118px,#beff41 128px,#6fff90 137px,#0cfff3 146px,#00ffff 147px,#0012ff 165px,#0000fa 167px,#0000c3 173px,#0000aa 178px,#0000a7 183px,#0000b8 188px,#0000e2 194px,#0000ff 197px,#0071ff 207px,#00fdff 219px,#74ff8b 231px,#c8ff37 242px,#fdff02 251px,#ffb700 268px,#ff7e00 288px,#ff4b00 315px,#ff2300 350px,#ff1000 387px,#ff0f00 400px)"></i><i style="background:linear-gradient(90deg,#ff4d00 0px,#ff5600 36px,#ff7300 67px,#ff9a00 89px,#ffc900 105px,#ffff00 117px,#c0ff3f 127px,#74ff8b 136px,#14ffeb 145px,#00faff 147px,#0004ff 166px,#0000d9 170px,#0000b2 175px,#0000a0 180px,#0000a3 185px,#0000b9 190px,#0000e8 196px,#0000fc 198px,#0028ff 202px,#00fbff 220px,#27ffd8 224px,#8cff73 235px,#d9ff26 246px,#fffd00 253px,#ffbc00 268px,#ff8300 287px,#ff4e00 314px,#ff2500 349px,#ff1100 386px,#ff0f00 400px)"></i><i style="background:linear-gradient(90deg,#ff4d00 0px,#ff5700 36px,#ff7400 67px,#ff9c00 89px,#ffcd00 105px,#fffe00 116px,#c1ff3e 126px,#76ff89 135px,#17ffe8 144px,#00feff 146px,#000cff 165px,#0000ff 166px,#0000c8 172px,#0000ad 177px,#0000a8 182px,#0000b8 187px,#0000e1 193px,#0000fd 196px,#0040ff 202px,#00feff 218px,#6eff91 229px,#c4ff3b 240px,#fffe00 250px,#ffbf00 264px,#ff8600 283px,#ff5200 309px,#ff2700 344px,#ff1000 381px,#ff0e00 400px)"></i><i style="background:linear-gradient(90deg,#ff4d00 0px,#ff5700 36px,#ff7300 67px,#ff9a00 89px,#ffc900 105px,#ffff00 117px,#bfff40 127px,#72ff8d 136px,#0efff1 145px,#02fffd 146px,#0089ff 155px,#0003ff 165px,#0000b9 172px,#00009b 177px,#000094 182px,#0000a2 187px,#0000ca 193px,#0000fa 198px,#0011ff 200px,#00ffff 220px,#65ff9a 230px,#bcff43 241px,#ffff00 252px,#ffbe00 267px,#ff8500 286px,#ff5000 313px,#ff2600 348px,#ff1200 385px,#ff1000 400px)"></i><i style="background:linear-gradient(90deg,#ff4d00 0px,#ff5700 37px,#ff7300 68px,#ff9a00 90px,#ffca00 106px,#fdff02 118px,#bcff43 128px,#6eff91 137px,#00fdff 147px,#0013ff 165px,#0000fc 167px,#0000c7 173px,#0000b0 178px,#0000af 183px,#0000c1 188px,#0000ec 194px,#0000fe 196px,#0061ff 205px,#00f8ff 218px,#04fffb 219px,#70ff8f 230px,#c4ff3b 241px,#ffff00 251px,#ffbe00 266px,#ff8600 285px,#ff5100 312px,#ff2700 347px,#ff1200 384px,#ff1000 400px)"></i><i style="background:linear-gradient(90deg,#ff4e00 0px,#ff5800 36px,#ff7500 67px,#ff9d00 89px,#ffcd00 105px,#ffff00 116px,#c1ff3e 126px,#76ff89 135px,#16ffe9 144px,#00fdff 146px,#0005ff 165px,#0000ed 167px,#0000b6 173px,#00009c 178px,#000097 183px,#0000a8 188px,#0000d3 194px,#0000fb 198px,#0012ff 200px,#00f8ff 219px,#05fffa 220px,#6aff95 230px,#bbff44 240px,#ffff00 251px,#ffbd00 266px,#ff8400 285px,#ff4f00 312px,#ff2500 347px,#ff1000 384px,#ff0f00 400px)"></i><i style="background:linear-gradient(90deg,#ff4d00 0px,#ff5700 37px,#ff7500 68px,#ff9d00 90px,#ffcf00 106px,#fcff03 117px,#bbff44 127px,#6cff93 136px,#08fff7 145px,#00faff 146px,#000bff 164px,#0000fe 165px,#0000c0 171px,#0000a0 176px,#000097 181px,#0000a1 186px,#0000c4 192px,#0000fa 198px,#0010ff 200px,#00f6ff 220px,#01fffe 221px,#6bff94 232px,#bfff40 243px,#ffff00 254px,#ffbf00 269px,#ff8400 289px,#ff5000 316px,#ff2600 351px,#ff1200 387px,#ff1100 400px)"></i><i style="background:linear-gradient(90deg,#ff5000 0px,#ff5a00 37px,#ff7700 68px,#ff9f00 90px,#ffcf00 106px,#fdff02 117px,#beff41 127px,#71ff8e 136px,#10ffef 145px,#04fffb 146px,#00ddff 149px,#0008ff 165px,#0000fb 166px,#0000be 172px,#00009f 177px,#000096 182px,#0000a0 187px,#0000c3 193px,#0003ff 200px,#00fcff 222px,#78ff87 235px,#c7ff38 246px,#fffe00 256px,#ffbf00 271px,#ff8600 291px,#ff5100 319px,#ff2800 354px,#ff1600 389px,#ff1500 400px)"></i><i style="background:linear-gradient(90deg,#ff4d00 0px,#ff5700 37px,#ff7500 68px,#ff9e00 90px,#ffd000 106px,#fffe00 116px,#c8ff37 125px,#7eff81 134px,#1effe1 143px,#06fff9 145px,#00f9ff 146px,#000dff 164px,#0001ff 165px,#0000c4 171px,#0000a6 176px,#00009e 181px,#0000ac 187px,#0000d0 193px,#0000fb 198px,#001aff 201px,#01fffe 222px,#67ff98 233px,#c0ff3f 245px,#feff01 256px,#ffba00 273px,#ff7f00 294px,#ff4a00 323px,#ff2300 358px,#ff1300 393px,#ff1300 400px)"></i><i style="background:linear-gradient(90deg,#ff4e00 0px,#ff5900 38px,#ff7600 69px,#ff9e00 91px,#ffcf00 107px,#fcff03 118px,#bbff44 128px,#6dff92 137px,#00fcff 147px,#0003ff 166px,#0000bd 173px,#0000a1 178px,#00009b 183px,#0000ad 189px,#0000d4 195px,#0001ff 200px,#00fdff 223px,#76ff89 236px,#cbff34 248px,#fdff02 257px,#ffb400 276px,#ff7c00 297px,#ff4900 326px,#ff2300 361px,#ff1500 395px,#ff1500 400px)"></i><i style="background:linear-gradient(90deg,#ff5100 0px,#ff5c00 38px,#ff7900 69px,#ffa200 91px,#ffd400 107px,#fcff03 117px,#bdff42 127px,#70ff8f 136px,#0efff1 145px,#02fffd 146px,#009aff 154px,#000aff 165px,#0000fd 166px,#0000c2 172px,#0000a4 177px,#00009c 182px,#0000a8 187px,#0000cb 193px,#0002ff 199px,#00f9ff 221px,#0ffff0 223px,#75ff8a 234px,#c6ff39 245px,#feff01 255px,#ffbd00 271px,#ff8500 291px,#ff5100 319px,#ff2800 355px,#ff1600 390px,#ff1600 400px)"></i><i style="background:linear-gradient(90deg,#ff4e00 0px,#ff5a00 38px,#ff7800 69px,#ff9e00 90px,#ffd000 106px,#fffe00 116px,#c8ff37 125px,#7eff81 134px,#1effe1 143px,#06fff9 145px,#00f9ff 146px,#0008ff 164px,#0000fa 165px,#0000bc 171px,#00009b 176px,#000090 181px,#000099 186px,#0000ba 192px,#0001ff 200px,#00f7ff 222px,#03fffc 223px,#6aff95 234px,#bbff44 245px,#fffe00 257px,#ffbc00 273px,#ff8200 294px,#ff4d00 323px,#ff2500 358px,#ff1500 392px,#ff1500 400px)"></i><i style="background:linear-gradient(90deg,#ff5100 0px,#ff5e00 39px,#ff7b00 69px,#ffa200 90px,#ffd400 106px,#fcff03 116px,#bdff42 126px,#72ff8d 135px,#12ffed 144px,#06fff9 145px,#00ecff 147px,#0001ff 165px,#0000bb 172px,#00009e 177px,#000096 182px,#0000a2 187px,#0000c6 193px,#0000fc 199px,#0033ff 204px,#00ffff 222px,#69ff96 233px,#bcff43 244px,#fcff03 255px,#ffde00 263px,#ffa300 280px,#ff6b00 304px,#ff3a00 337px,#ff1c00 373px,#ff1600 400px)"></i><i style="background:linear-gradient(90deg,#ff4e00 0px,#ff5a00 39px,#ff7700 70px,#ff9f00 92px,#ffd100 108px,#feff01 118px,#bdff42 128px,#70ff8f 137px,#0cfff3 146px,#00ffff 147px,#0005ff 166px,#0000ed 168px,#0000be 173px,#0000a1 178px,#00009b 183px,#0000ac 189px,#0000d1 195px,#0000fd 200px,#0052ff 208px,#00f7ff 223px,#02fffd 224px,#68ff97 235px,#c0ff3f 247px,#fdff02 258px,#ffb800 276px,#ff7f00 297px,#ff4b00 326px,#ff2500 361px,#ff1700 395px,#ff1600 400px)"></i><i style="background:linear-gradient(90deg,#ff4e00 0px,#ff5b00 39px,#ff7900 70px,#ffa000 91px,#ffd300 107px,#fcff03 117px,#bcff43 127px,#6fff90 136px,#0dfff2 145px,#01fffe 146px,#000cff 165px,#0000ff 166px,#0000c6 172px,#0000a9 177px,#0000a2 182px,#0000ad 187px,#0000d0 193px,#0000fa 198px,#000fff 200px,#00f7ff 221px,#02fffd 222px,#6aff95 233px,#bdff42 244px,#fcff03 255px,#ffb400 274px,#ff7c00 295px,#ff4800 325px,#ff2200 361px,#ff1400 395px,#ff1400 400px)"></i><i style="background:linear-gradient(90deg,#ff5200 0px,#ff5e00 40px,#ff7c00 71px,#ffa300 92px,#ffd500 108px,#ffff00 117px,#c1ff3e 127px,#75ff8a 136px,#14ffeb 145px,#00fbff 147px,#0000fe 166px,#0000bf 172px,#00009d 177px,#000092 182px,#00009d 188px,#0000be 194px,#0003ff 202px,#00faff 225px,#0ffff0 227px,#70ff8f 238px,#c4ff3b 250px,#ffff00 261px,#ffbf00 277px,#ff8600 298px,#ff5100 327px,#ff2a00 362px,#ff1c00 396px,#ff1c00 400px)"></i><i style="background:linear-gradient(90deg,#ff5100 0px,#ff5e00 40px,#ff7b00 70px,#ffa200 91px,#ffd400 107px,#fffe00 116px,#c9ff36 125px,#80ff7f 134px,#22ffdd 143px,#00fdff 146px,#0005ff 165px,#0000ed 167px,#0000b7 173px,#0000a0 178px,#00009e 183px,#0000b4 189px,#0000de 195px,#0000fa 198px,#000fff 200px,#00f9ff 221px,#04fffb 222px,#6bff94 233px,#bdff42 244px,#fcff03 255px,#ffde00 263px,#ffa100 281px,#ff6a00 306px,#ff3900 340px,#ff1d00 376px,#ff1800 400px)"></i><i style="background:linear-gradient(90deg,#ff4e00 0px,#ff5b00 41px,#ff7900 72px,#ffa100 93px,#ffd100 108px,#ffff00 118px,#beff41 128px,#71ff8e 137px,#0dfff2 146px,#01fffe 147px,#0052ff 160px,#0004ff 166px,#0000cc 171px,#0000a7 176px,#000096 181px,#00009c 186px,#0000ba 192px,#0002ff 200px,#01fffe 222px,#6cff93 233px,#c0ff3f 244px,#fffe00 255px,#ffbe00 270px,#ff8600 290px,#ff5000 319px,#ff2700 355px,#ff1500 390px,#ff1500 400px)"></i><i style="background:linear-gradient(90deg,#ff4f00 0px,#ff5d00 41px,#ff7a00 71px,#ffa300 92px,#ffd300 107px,#fffd00 116px,#d0ff2f 124px,#88ff77 133px,#2bffd4 142px,#07fff8 145px,#00f9ff 146px,#000aff 164px,#0000fd 165px,#0000bf 171px,#0000a0 176px,#000096 181px,#0000a4 187px,#0000c9 193px,#0000fe 199px,#0083ff 211px,#00fdff 222px,#76ff89 235px,#cbff34 247px,#fdff02 256px,#ffb800 274px,#ff8100 295px,#ff4c00 325px,#ff2500 361px,#ff1700 395px,#ff1700 400px)"></i><i style="background:linear-gradient(90deg,#ff5000 0px,#ff5e00 41px,#ff7b00 71px,#ffa300 92px,#ffd200 107px,#feff01 117px,#beff41 127px,#71ff8e 136px,#10ffef 145px,#04fffb 146px,#00d0ff 150px,#0008ff 165px,#0000fb 166px,#0000bd 172px,#00009d 177px,#000093 182px,#0000a0 188px,#0000c2 194px,#0000fe 201px,#00f9ff 224px,#04fffb 225px,#69ff96 236px,#bfff40 248px,#fcff03 259px,#ffb700 278px,#ff7e00 300px,#ff4900 331px,#ff2400 367px,#ff1900 400px)"></i><i style="background:linear-gradient(90deg,#ff5100 0px,#ff5f00 41px,#ff7d00 71px,#ffa600 92px,#ffd700 107px,#fcff03 116px,#bdff42 126px,#71ff8e 135px,#10ffef 144px,#04fffb 145px,#00deff 148px,#000eff 164px,#0003ff 165px,#0000bf 172px,#0000a5 177px,#0000a1 182px,#0000b3 188px,#0000da 194px,#0000fd 198px,#0051ff 206px,#00f7ff 221px,#02fffd 222px,#68ff97 233px,#baff45 244px,#feff01 256px,#ffbc00 273px,#ff8400 294px,#ff4f00 324px,#ff2700 361px,#ff1900 395px,#ff1900 400px)"></i><i style="background:linear-gradient(90deg,#ff5000 0px,#ff5e00 42px,#ff7c00 72px,#ffa400 93px,#ffd400 108px,#fffe00 117px,#c1ff3e 127px,#75ff8a 136px,#14ffeb 145px,#00faff 147px,#0001ff 166px,#0000c2 172px,#0000a2 177px,#000098 182px,#0000a4 188px,#0000c6 194px,#0003ff 201px,#00fbff 224px,#2dffd2 229px,#8aff75 240px,#d9ff26 252px,#feff01 259px,#ffbc00 276px,#ff8400 297px,#ff4f00 327px,#ff2800 363px,#ff1a00 397px,#ff1a00 400px)"></i><i style="background:linear-gradient(90deg,#ff5400 0px,#ff6300 43px,#ff8000 73px,#ffa700 93px,#ffd700 108px,#fdff02 117px,#bdff42 127px,#71ff8e 136px,#0ffff0 145px,#03fffc 146px,#00a7ff 153px,#0006ff 165px,#0000f9 166px,#0000bc 172px,#00009d 177px,#000094 182px,#0000a1 188px,#0000c3 194px,#0000fd 201px,#0072ff 212px,#00fbff 225px,#2cffd3 230px,#8eff71 242px,#dfff20 255px,#fffc00 262px,#ffbf00 278px,#ff8600 300px,#ff5100 331px,#ff2b00 367px,#ff1f00 400px)"></i><i style="background:linear-gradient(90deg,#ff4f00 0px,#ff5f00 43px,#ff7d00 73px,#ffa500 93px,#ffd600 108px,#feff01 117px,#beff41 127px,#72ff8d 136px,#12ffed 145px,#06fff9 146px,#00ecff 148px,#0001ff 166px,#0000c2 172px,#0000a2 177px,#000096 182px,#0000a1 188px,#0000c1 194px,#0000fa 201px,#000fff 203px,#00f9ff 225px,#0efff1 227px,#78ff87 239px,#caff35 251px,#ffff00 261px,#ffbf00 277px,#ff8600 298px,#ff5000 328px,#ff2a00 363px,#ff1b00 396px,#ff1b00 400px)"></i><i style="background:linear-gradient(90deg,#ff5100 0px,#ff6100 44px,#ff7e00 73px,#ffa500 93px,#ffd500 108px,#feff01 117px,#bfff40 127px,#72ff8d 136px,#10ffef 145px,#04fffb 146px,#00eaff 148px,#0009ff 165px,#0000fc 166px,#0000bf 172px,#00009f 177px,#000096 182px,#0000a0 187px,#0000c1 193px,#0000fe 200px,#0084ff 212px,#00ffff 223px,#68ff97 234px,#bbff44 245px,#ffff00 257px,#ffc200 272px,#ff8a00 292px,#ff5400 322px,#ff2b00 359px,#ff1a00 393px,#ff1a00 400px)"></i><i style="background:linear-gradient(90deg,#ff4e00 0px,#ff5f00 43px,#ff7d00 72px,#ffa500 92px,#ffd700 107px,#fcff03 116px,#bbff44 126px,#6eff91 135px,#00feff 145px,#0003ff 164px,#0000b8 171px,#000097 176px,#00008c 181px,#000098 187px,#0000b8 193px,#0000fc 201px,#0030ff 206px,#00fdff 225px,#73ff8c 238px,#c6ff39 250px,#fcff03 260px,#ffb800 279px,#ff7f00 301px,#ff4b00 332px,#ff2600 368px,#ff1a00 400px)"></i><i style="background:linear-gradient(90deg,#ff5200 0px,#ff6300 44px,#ff8100 73px,#ffaa00 93px,#ffdc00 108px,#fcff03 116px,#b7ff48 127px,#60ff9f 137px,#00fdff 146px,#000aff 165px,#0000fd 166px,#0000c2 172px,#0000a3 177px,#00009a 182px,#0000a6 188px,#0000c7 194px,#0000f9 200px,#0004ff 201px,#00fbff 224px,#19ffe6 227px,#7aff85 238px,#cdff32 250px,#fdff02 259px,#ffba00 277px,#ff8200 299px,#ff4c00 331px,#ff2800 367px,#ff1c00 400px)"></i><i style="background:linear-gradient(90deg,#ff4b00 0px,#ff5b00 45px,#ff7900 74px,#ffa100 94px,#ffd500 109px,#fdff02 118px,#baff45 128px,#69ff96 137px,#03fffc 146px,#00c1ff 151px,#0005ff 165px,#0000ed 167px,#0000bd 172px,#0000a0 177px,#00009a 182px,#0000aa 188px,#0000d0 194px,#0000fc 199px,#0031ff 204px,#00f9ff 222px,#04fffb 223px,#6cff93 234px,#beff41 245px,#fdff02 256px,#ffb800 274px,#ff8000 295px,#ff4b00 326px,#ff2400 363px,#ff1600 397px,#ff1600 400px)"></i><i style="background:linear-gradient(90deg,#ff5100 0px,#ff6300 45px,#ff8100 74px,#ffaa00 94px,#ffde00 109px,#feff01 116px,#b8ff47 127px,#6bff94 136px,#00fdff 146px,#0007ff 165px,#0000fa 166px,#0000bf 172px,#0000a0 177px,#000097 182px,#0000a4 188px,#0000c5 194px,#0000ff 201px,#00fdff 225px,#7aff85 239px,#cbff34 251px,#fffe00 261px,#ffc000 277px,#ff8900 298px,#ff5200 329px,#ff2c00 365px,#ff1e00 398px,#ff1e00 400px)"></i><i style="background:linear-gradient(90deg,#ff5200 0px,#ff6300 45px,#ff8000 73px,#ffa800 93px,#ffdc00 108px,#fffd00 115px,#d1ff2e 123px,#81ff7e 133px,#23ffdc 142px,#00feff 145px,#0001ff 164px,#0000be 170px,#000098 175px,#000089 180px,#000092 186px,#0000af 192px,#0000e8 199px,#0000fb 201px,#001bff 204px,#00ffff 225px,#6dff92 237px,#c2ff3d 249px,#fdff02 260px,#ffbb00 278px,#ff8400 300px,#ff4f00 332px,#ff2a00 369px,#ff1e00 400px)"></i><i style="background:linear-gradient(90deg,#ff4e00 0px,#ff5f00 46px,#ff7c00 74px,#ffa100 93px,#ffd400 108px,#ffff00 117px,#bcff43 127px,#6dff92 136px,#07fff8 145px,#00faff 146px,#0007ff 164px,#0000fa 165px,#0000bd 171px,#00009e 176px,#000097 181px,#0000a6 187px,#0000c9 193px,#0000fc 199px,#003aff 205px,#00fcff 223px,#7bff84 237px,#ceff31 249px,#feff01 258px,#ffba00 276px,#ff8300 298px,#ff4e00 330px,#ff2800 367px,#ff1c00 400px)"></i><i style="background:linear-gradient(90deg,#ff5500 0px,#ff6700 47px,#ff8500 75px,#ffad00 94px,#ffe000 109px,#fcff03 116px,#b6ff49 127px,#69ff96 136px,#08fff7 145px,#00fbff 146px,#0009ff 165px,#0000fd 166px,#0000c4 172px,#0000a8 177px,#0000a2 182px,#0000b0 188px,#0000da 195px,#0000fb 199px,#0018ff 202px,#00feff 224px,#73ff8c 237px,#c5ff3a 249px,#ffff00 260px,#ffc200 276px,#ff8a00 298px,#ff5400 330px,#ff2e00 367px,#ff2200 400px)"></i><i style="background:linear-gradient(90deg,#ff5100 0px,#ff6300 47px,#ff8200 75px,#ffa900 94px,#ffda00 108px,#feff01 116px,#b6ff49 127px,#68ff97 136px,#05fffa 145px,#00ebff 147px,#000bff 164px,#0000fe 165px,#0000c0 171px,#00009f 176px,#000094 181px,#00009f 187px,#0000be 193px,#0001ff 201px,#00feff 225px,#73ff8c 238px,#c6ff39 250px,#fffe00 261px,#ffc000 277px,#ff8800 299px,#ff5200 331px,#ff2c00 368px,#ff1f00 400px)"></i><i style="background:linear-gradient(90deg,#ff5000 0px,#ff6400 47px,#ff8100 74px,#ffa900 93px,#ffd900 107px,#ffff00 115px,#c0ff3f 125px,#6bff94 135px,#00fdff 145px,#0008ff 164px,#0000fb 165px,#0000c1 171px,#0000a4 176px,#00009c 181px,#0000aa 187px,#0000d2 194px,#0000fc 199px,#002eff 204px,#00f7ff 223px,#02fffd 224px,#6eff91 236px,#c3ff3c 248px,#feff01 259px,#ffbe00 276px,#ff8600 298px,#ff5000 331px,#ff2a00 369px,#ff1e00 400px)"></i><i style="background:linear-gradient(90deg,#ff5000 0px,#ff6300 49px,#ff7f00 76px,#ffa600 95px,#ffd600 109px,#fcff03 118px,#bbff44 128px,#6dff92 137px,#00fdff 147px,#0007ff 166px,#0000fa 167px,#0000c1 173px,#0000a6 178px,#0000a1 183px,#0000b0 189px,#0000d7 196px,#0000ff 201px,#007fff 214px,#00f8ff 226px,#03fffc 227px,#6aff95 239px,#bdff42 251px,#fcff03 263px,#ffbc00 282px,#ff8400 305px,#ff4e00 338px,#ff2b00 374px,#ff2200 400px)"></i><b class="fr"></b></div><div class="tk2" style="left:1333.6px;top:947px"></div><div class="yt" style="left:820.2px;top:527.7px">90</div><div class="yt" style="left:820.2px;top:594.533px">75</div><div class="yt" style="left:820.2px;top:661.367px">60</div><div class="yt" style="left:820.2px;top:728.2px">45</div><div class="yt" style="left:820.2px;top:795.033px">30</div><div class="yt" style="left:820.2px;top:861.867px">15</div><div class="yt" style="left:820.2px;top:928.7px">0</div><div class="xt" style="left:883.3px;top:965.8px">225</div><div class="xt" style="left:983.15px;top:965.8px">230</div><div class="xt" style="left:1083px;top:965.8px">235</div><div class="xt" style="left:1182.85px;top:965.8px">240</div><div class="xt" style="left:1282.7px;top:965.8px">245</div><div class="xl" style="left:884.5px;top:1016.7px">Frequency (THz)</div><div class="yl" style="left:639.2px;top:723.7px"><span class="th">&#952;</span> (Degree)</div><div class="ann" style="left:955.8px;top:560.56px"><i>d</i><sub>2</sub><span class="eq">=</span>220 nm</div><div class="ann r2" style="left:955.8px;top:607.86px">R<sub>+Z</sub></div><div class="let" style="left:1266px;top:888px">(d)</div><div class="cb" style="left:1385.5px;top:551.5px;width:48.5px;height:400px;background:linear-gradient(180deg,#800000 0.00px,#800000 6.25px,#8f0000 6.25px,#8f0000 12.50px,#9f0000 12.50px,#9f0000 18.75px,#af0000 18.75px,#af0000 25.00px,#bf0000 25.00px,#bf0000 31.25px,#cf0000 31.25px,#cf0000 37.50px,#df0000 37.50px,#df0000 43.75px,#ef0000 43.75px,#ef0000 50.00px,#ff0000 50.00px,#ff0000 56.25px,#ff1000 56.25px,#ff1000 62.50px,#ff2000 62.50px,#ff2000 68.75px,#ff3000 68.75px,#ff3000 75.00px,#ff4000 75.00px,#ff4000 81.25px,#ff5000 81.25px,#ff5000 87.50px,#ff6000 87.50px,#ff6000 93.75px,#ff7000 93.75px,#ff7000 100.00px,#ff8000 100.00px,#ff8000 106.25px,#ff8f00 106.25px,#ff8f00 112.50px,#ff9f00 112.50px,#ff9f00 118.75px,#ffaf00 118.75px,#ffaf00 125.00px,#ffbf00 125.00px,#ffbf00 131.25px,#ffcf00 131.25px,#ffcf00 137.50px,#ffdf00 137.50px,#ffdf00 143.75px,#ffef00 143.75px,#ffef00 150.00px,#ffff00 150.00px,#ffff00 156.25px,#efff10 156.25px,#efff10 162.50px,#dfff20 162.50px,#dfff20 168.75px,#cfff30 168.75px,#cfff30 175.00px,#bfff40 175.00px,#bfff40 181.25px,#afff50 181.25px,#afff50 187.50px,#9fff60 187.50px,#9fff60 193.75px,#8fff70 193.75px,#8fff70 200.00px,#80ff80 200.00px,#80ff80 206.25px,#70ff8f 206.25px,#70ff8f 212.50px,#60ff9f 212.50px,#60ff9f 218.75px,#50ffaf 218.75px,#50ffaf 225.00px,#40ffbf 225.00px,#40ffbf 231.25px,#30ffcf 231.25px,#30ffcf 237.50px,#20ffdf 237.50px,#20ffdf 243.75px,#10ffef 243.75px,#10ffef 250.00px,#00ffff 250.00px,#00ffff 256.25px,#00efff 256.25px,#00efff 262.50px,#00dfff 262.50px,#00dfff 268.75px,#00cfff 268.75px,#00cfff 275.00px,#00bfff 275.00px,#00bfff 281.25px,#00afff 281.25px,#00afff 287.50px,#009fff 287.50px,#009fff 293.75px,#008fff 293.75px,#008fff 300.00px,#0080ff 300.00px,#0080ff 306.25px,#0070ff 306.25px,#0070ff 312.50px,#0060ff 312.50px,#0060ff 318.75px,#0050ff 318.75px,#0050ff 325.00px,#0040ff 325.00px,#0040ff 331.25px,#0030ff 331.25px,#0030ff 337.50px,#0020ff 337.50px,#0020ff 343.75px,#0010ff 343.75px,#0010ff 350.00px,#0000ff 350.00px,#0000ff 356.25px,#0000ef 356.25px,#0000ef 362.50px,#0000df 362.50px,#0000df 368.75px,#0000cf 368.75px,#0000cf 375.00px,#0000bf 375.00px,#0000bf 381.25px,#0000af 381.25px,#0000af 387.50px,#00009f 387.50px,#00009f 393.75px,#00008f 393.75px,#00008f 400.00px)"></div><div class="tk" style="left:1428px;top:865.903px"></div><div class="cl" style="left:1444.4px;top:844.653px">0.2</div><div class="tk" style="left:1428px;top:779.51px"></div><div class="cl" style="left:1444.4px;top:758.26px">0.4</div><div class="tk" style="left:1428px;top:693.117px"></div><div class="cl" style="left:1444.4px;top:671.867px">0.6</div><div class="tk" style="left:1428px;top:606.724px"></div><div class="cl" style="left:1444.4px;top:585.474px">0.8</div></body></html>
